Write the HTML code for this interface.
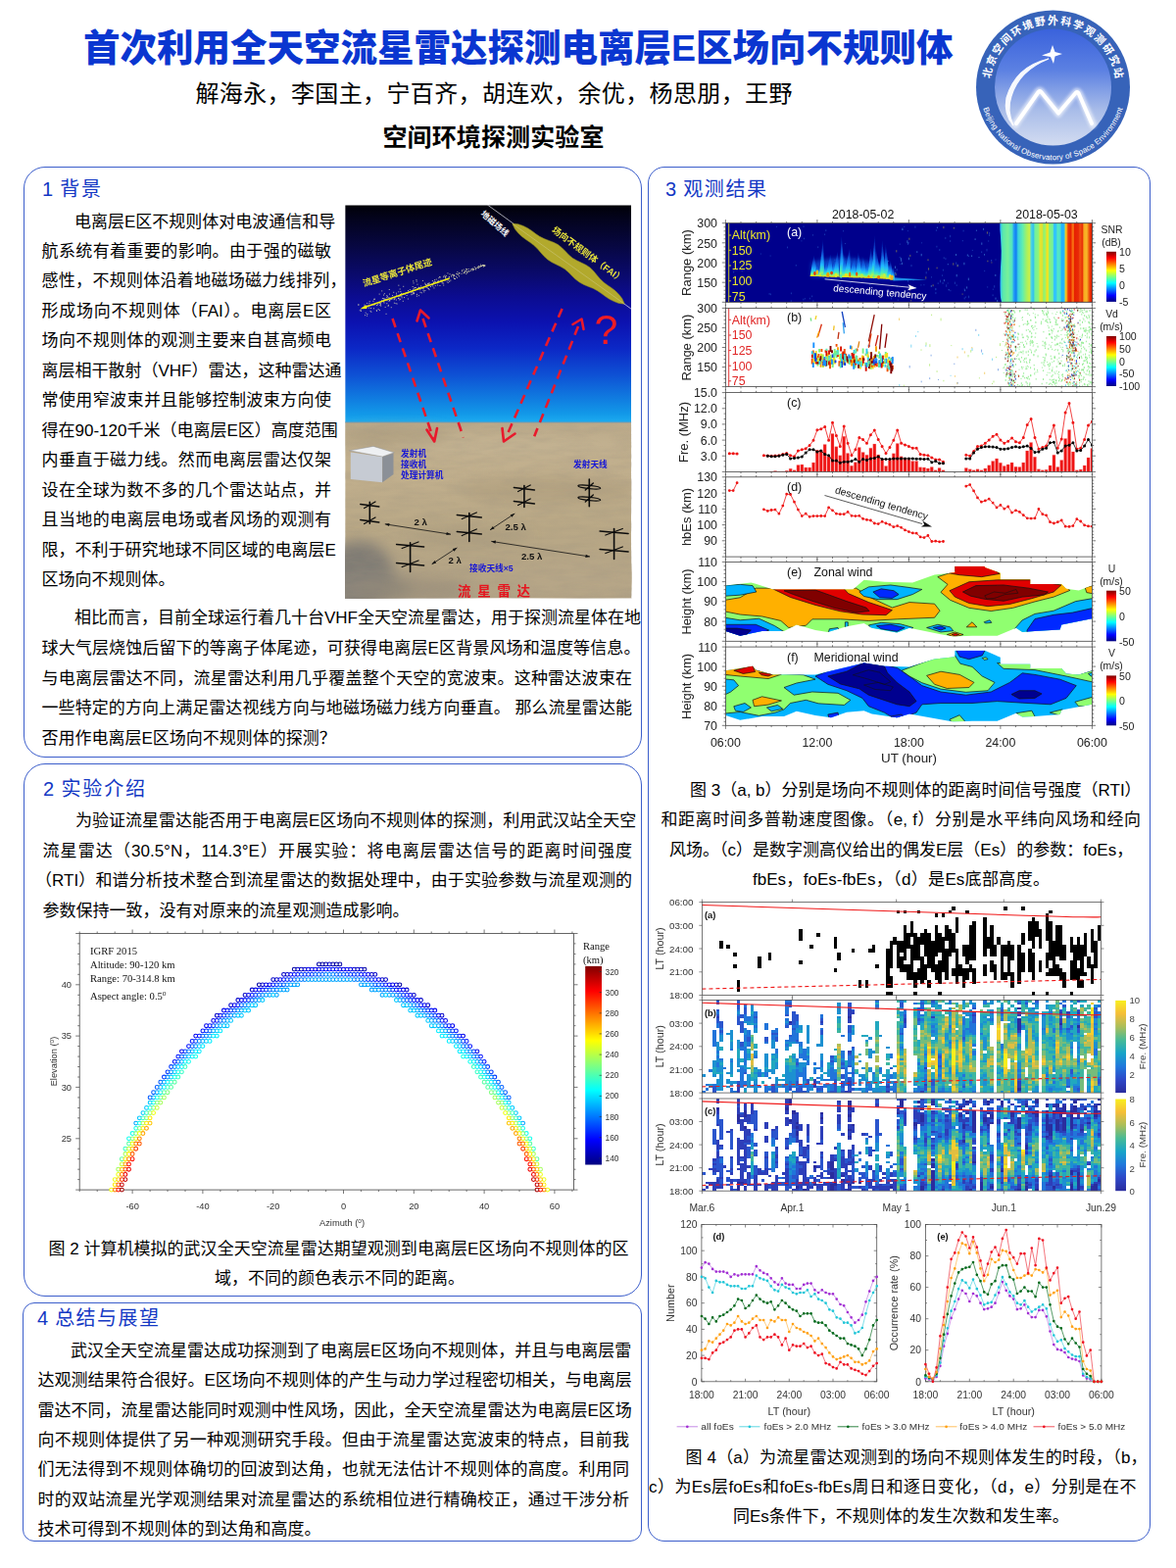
<!DOCTYPE html>
<html lang="zh-CN">
<head>
<meta charset="utf-8">
<title>首次利用全天空流星雷达探测电离层E区场向不规则体</title>
<style>
html,body{margin:0;padding:0;background:#fff;}
body{width:1200px;height:1600px;position:relative;overflow:hidden;font-family:"Liberation Sans","Noto Sans CJK SC",sans-serif;color:#000;}
.box{position:absolute;box-sizing:border-box;border:1.3px solid #3c5ecb;background:#fff;}
.l{position:absolute;height:30px;line-height:30px;white-space:nowrap;text-align:justify;text-align-last:justify;overflow:visible;}
.h{color:#1438c4;}
svg{position:absolute;overflow:visible;}
svg text{font-family:"Liberation Sans","Noto Sans CJK SC",sans-serif;}
svg .ser text{font-family:"Liberation Serif","Noto Serif CJK SC",serif;}
</style>
</head>
<body>
<div class="box" style="left:24px;top:170px;width:631px;height:603px;border-radius:22px"></div>
<div class="box" style="left:24px;top:779px;width:631px;height:544px;border-radius:22px"></div>
<div class="box" style="left:23px;top:1329px;width:632px;height:244px;border-radius:12px"></div>
<div class="box" style="left:661px;top:170px;width:513px;height:1403px;border-radius:17px"></div>
<div class="l t h" style="left:85px;top:24px;width:885px;height:50px;line-height:50px;font-size:37.5px;font-weight:900;color:#0a36d0;">首次利用全天空流星雷达探测电离层E区场向不规则体</div>
<div class="l t" style="left:199.5px;top:78px;width:609px;height:36px;line-height:36px;font-size:24px;">解海永，李国主，宁百齐，胡连欢，余优，杨思朋，王野</div>
<div class="l t" style="left:390.5px;top:122px;width:226px;height:36px;line-height:36px;font-size:25px;font-weight:bold;">空间环境探测实验室</div>
<div class="l t h" style="left:43.0px;top:178.0px;width:60.0px;font-size:20px;">1 背景</div>
<div class="l t h" style="left:44.0px;top:789.5px;width:104.0px;font-size:20px;">2 实验介绍</div>
<div class="l t h" style="left:38.0px;top:1329.5px;width:124.0px;font-size:20px;">4 总结与展望</div>
<div class="l t h" style="left:679.0px;top:178.0px;width:103.0px;font-size:20px;">3 观测结果</div>
<div class="l t " style="left:76.0px;top:211.5px;width:262.0px;font-size:17px;">电离层E区不规则体对电波通信和导</div>
<div class="l t " style="left:42.5px;top:242.0px;width:295.5px;font-size:17px;">航系统有着重要的影响。由于强的磁敏</div>
<div class="l t " style="left:42.5px;top:272.4px;width:311.0px;font-size:17px;">感性，不规则体沿着地磁场磁力线排列，</div>
<div class="l t " style="left:42.5px;top:302.9px;width:295.5px;font-size:17px;">形成场向不规则体（FAI）。电离层E区</div>
<div class="l t " style="left:42.5px;top:333.3px;width:295.5px;font-size:17px;">场向不规则体的观测主要来自甚高频电</div>
<div class="l t " style="left:42.5px;top:363.8px;width:295.5px;font-size:17px;">离层相干散射（VHF）雷达，这种雷达通</div>
<div class="l t " style="left:42.5px;top:394.3px;width:295.5px;font-size:17px;">常使用窄波束并且能够控制波束方向使</div>
<div class="l t " style="left:42.5px;top:424.7px;width:295.5px;font-size:17px;">得在90-120千米（电离层E区）高度范围</div>
<div class="l t " style="left:42.5px;top:455.2px;width:295.5px;font-size:17px;">内垂直于磁力线。然而电离层雷达仅架</div>
<div class="l t " style="left:42.5px;top:485.6px;width:295.5px;font-size:17px;">设在全球为数不多的几个雷达站点，并</div>
<div class="l t " style="left:42.5px;top:516.1px;width:295.5px;font-size:17px;">且当地的电离层电场或者风场的观测有</div>
<div class="l t " style="left:42.5px;top:546.6px;width:295.5px;font-size:17px;">限，不利于研究地球不同区域的电离层E</div>
<div class="l t " style="left:42.5px;top:577.0px;width:136.0px;font-size:17px;">区场向不规则体。</div>
<div class="l t " style="left:76.0px;top:616.3px;width:569.0px;font-size:17px;">相比而言，目前全球运行着几十台VHF全天空流星雷达，用于探测流星体在地</div>
<div class="l t " style="left:42.5px;top:647.0px;width:611.0px;font-size:17px;">球大气层烧蚀后留下的等离子体尾迹，可获得电离层E区背景风场和温度等信息。</div>
<div class="l t " style="left:42.5px;top:677.7px;width:602.5px;font-size:17px;">与电离层雷达不同，流星雷达利用几乎覆盖整个天空的宽波束。这种雷达波束在</div>
<div class="l t " style="left:42.5px;top:708.4px;width:602.5px;font-size:17px;">一些特定的方向上满足雷达视线方向与地磁场磁力线方向垂直。 那么流星雷达能</div>
<div class="l t " style="left:42.5px;top:739.1px;width:296.0px;font-size:17px;">否用作电离层E区场向不规则体的探测？</div>
<div class="l t " style="left:77.0px;top:823.1px;width:568.0px;font-size:17px;">为验证流星雷达能否用于电离层E区场向不规则体的探测，利用武汉站全天空</div>
<div class="l t " style="left:43.5px;top:853.6px;width:601.5px;font-size:17px;">流星雷达（30.5°N，114.3°E）开展实验：将电离层雷达信号的距离时间强度</div>
<div class="l t " style="left:36.0px;top:884.0px;width:609.0px;font-size:17px;">（RTI）和谱分析技术整合到流星雷达的数据处理中，由于实验参数与流星观测的</div>
<div class="l t " style="left:43.5px;top:914.5px;width:374.0px;font-size:17px;">参数保持一致，没有对原来的流星观测造成影响。</div>
<div class="l t " style="left:49.5px;top:1259.7px;width:592.0px;font-size:17px;">图 2 计算机模拟的武汉全天空流星雷达期望观测到电离层E区场向不规则体的区</div>
<div class="l t " style="left:219.0px;top:1289.7px;width:252.0px;font-size:17px;">域，不同的颜色表示不同的距离。</div>
<div class="l t " style="left:72.0px;top:1363.9px;width:570.0px;font-size:17px;">武汉全天空流星雷达成功探测到了电离层E区场向不规则体，并且与电离层雷</div>
<div class="l t " style="left:38.5px;top:1394.2px;width:603.5px;font-size:17px;">达观测结果符合很好。E区场向不规则体的产生与动力学过程密切相关，与电离层</div>
<div class="l t " style="left:38.5px;top:1424.5px;width:603.5px;font-size:17px;">雷达不同，流星雷达能同时观测中性风场，因此，全天空流星雷达为电离层E区场</div>
<div class="l t " style="left:38.5px;top:1454.9px;width:603.5px;font-size:17px;">向不规则体提供了另一种观测研究手段。但由于流星雷达宽波束的特点，目前我</div>
<div class="l t " style="left:38.5px;top:1485.2px;width:603.5px;font-size:17px;">们无法得到不规则体确切的回波到达角，也就无法估计不规则体的高度。利用同</div>
<div class="l t " style="left:38.5px;top:1515.5px;width:603.5px;font-size:17px;">时的双站流星光学观测结果对流星雷达的系统相位进行精确校正，通过干涉分析</div>
<div class="l t " style="left:38.5px;top:1545.8px;width:288.0px;font-size:17px;">技术可得到不规则体的到达角和高度。</div>
<div class="l t " style="left:704.0px;top:791.7px;width:455.5px;font-size:17px;">图 3（a, b）分别是场向不规则体的距离时间信号强度（RTI）</div>
<div class="l t " style="left:674.5px;top:822.2px;width:489.5px;font-size:17px;">和距离时间多普勒速度图像。（e, f）分别是水平纬向风场和经向</div>
<div class="l t " style="left:683.0px;top:852.5px;width:472.0px;font-size:17px;">风场。（c）是数字测高仪给出的偶发E层（Es）的参数：foEs，</div>
<div class="l t " style="left:768.0px;top:883.0px;width:303.0px;font-size:17px;">fbEs，foEs-fbEs，（d）是Es底部高度。</div>
<div class="l t " style="left:699.5px;top:1472.8px;width:471.0px;font-size:17px;">图 4（a）为流星雷达观测到的场向不规则体发生的时段，（b，</div>
<div class="l t " style="left:662.0px;top:1503.4px;width:497.5px;font-size:17px;">c）为Es层foEs和foEs-fbEs周日和逐日变化，（d，e）分别是在不</div>
<div class="l t " style="left:748.0px;top:1532.8px;width:336.0px;font-size:17px;">同Es条件下，不规则体的发生次数和发生率。</div>
<svg style="left:0;top:0" width="1200" height="180" viewBox="0 0 1200 180">
<defs>
<linearGradient id="lgA" x1="0" y1="0" x2="0" y2="1"><stop offset="0" stop-color="#3a62dc"/><stop offset="0.35" stop-color="#5b80e2"/><stop offset="0.7" stop-color="#a9bde9"/><stop offset="1" stop-color="#d3dcf1"/></linearGradient>
<path id="lgT" d="M 1010.0 89.0 A 64.5 64.5 0 0 1 1139.0 89.0"/>
<path id="lgB" d="M 1000.2 89.0 A 74.3 74.3 0 0 0 1148.8 89.0"/>
<filter id="lgGl" x="-20%" y="-20%" width="140%" height="140%"><feGaussianBlur stdDeviation="1.6"/></filter>
</defs>
<circle cx="1074.5" cy="89" r="78.5" fill="#3763b9"/>
<circle cx="1074.5" cy="89" r="59.5" fill="url(#lgA)"/>
<g fill="none" stroke="#fff" stroke-linejoin="round" stroke-linecap="round">
<path d="M1036 127 L1059 94 Q1061 91 1063 94 L1080 116 L1097 95 Q1099 92 1101 95 L1115 127" stroke-width="7.5" opacity="0.6" filter="url(#lgGl)"/>
<path d="M1037 126 L1059.5 94 Q1061 92 1062.5 94 L1080 115.5 L1097.5 95 Q1099 93 1100.5 95 L1114 126" stroke-width="4"/>
</g>
<path d="M1070 60 Q1036 68 1027 100 Q1024 116 1034 128 Q1027 112 1032 98 Q1040 72 1070 60Z" fill="#fff" stroke="#fff" stroke-width="1.2" opacity="0.95"/>
<path d="M1074 46 L1076.5 53 L1084 55 L1076.5 57.5 L1075 65 L1072 58 L1063 56.5 L1071.5 53.5Z" fill="#fff"/>
<g transform="translate(1074.5 89)" fill="#fff" font-size="10.8" font-weight="bold" text-anchor="middle"><text transform="rotate(-77.5)" x="0" y="-64.5">北</text><text transform="rotate(-66.4)" x="0" y="-64.5">京</text><text transform="rotate(-55.4)" x="0" y="-64.5">空</text><text transform="rotate(-44.3)" x="0" y="-64.5">间</text><text transform="rotate(-33.2)" x="0" y="-64.5">环</text><text transform="rotate(-22.1)" x="0" y="-64.5">境</text><text transform="rotate(-11.1)" x="0" y="-64.5">野</text><text transform="rotate(0.0)" x="0" y="-64.5">外</text><text transform="rotate(11.1)" x="0" y="-64.5">科</text><text transform="rotate(22.1)" x="0" y="-64.5">学</text><text transform="rotate(33.2)" x="0" y="-64.5">观</text><text transform="rotate(44.3)" x="0" y="-64.5">测</text><text transform="rotate(55.4)" x="0" y="-64.5">研</text><text transform="rotate(66.4)" x="0" y="-64.5">究</text><text transform="rotate(77.5)" x="0" y="-64.5">站</text></g>
<text font-size="8" fill="#fff" style="font-family:'Liberation Sans',sans-serif" letter-spacing="0.14"><textPath href="#lgB" startOffset="50%" text-anchor="middle">Beijing National Observatory of Space Environment</textPath></text>
</svg>
<svg style="left:0;top:0" width="1200" height="1600" viewBox="0 0 1200 1600">
<defs>
<linearGradient id="f1sky" x1="0" y1="0" x2="0" y2="1"><stop offset="0" stop-color="#010108"/><stop offset="0.06" stop-color="#03031c"/><stop offset="0.19" stop-color="#070742"/><stop offset="0.32" stop-color="#0a0a6c"/><stop offset="0.42" stop-color="#0c0c90"/><stop offset="0.54" stop-color="#0c12b0"/><stop offset="0.66" stop-color="#0c28c6"/><stop offset="0.78" stop-color="#0e50d4"/><stop offset="0.89" stop-color="#107ce0"/><stop offset="0.96" stop-color="#1298e8"/><stop offset="1" stop-color="#1cacf0"/></linearGradient>
<linearGradient id="f1gnd" x1="0" y1="0" x2="0" y2="1"><stop offset="0" stop-color="#bcab8b"/><stop offset="0.25" stop-color="#c2b08e"/><stop offset="0.6" stop-color="#b9a886"/><stop offset="1" stop-color="#b3a386"/></linearGradient>
<filter id="f1tx" x="0" y="0" width="100%" height="100%"><feTurbulence type="fractalNoise" baseFrequency="0.035 0.16" numOctaves="3" seed="4" result="n"/><feColorMatrix type="matrix" values="0 0 0 0 0.35  0 0 0 0 0.30  0 0 0 0 0.22  0.9 0.9 0 0 -0.72"/></filter>
<filter id="f1b6"><feGaussianBlur stdDeviation="7"/></filter><filter id="f1b1"><feGaussianBlur stdDeviation="0.5"/></filter>
<clipPath id="f1clip"><rect x="352.2" y="209.3" width="291.9" height="401.2"/></clipPath>
</defs>
<g clip-path="url(#f1clip)">
<rect x="352.2" y="209.3" width="291.9" height="221.7" fill="url(#f1sky)"/>
<rect x="352.2" y="431" width="291.9" height="179.5" fill="url(#f1gnd)"/>
<g filter="url(#f1b6)"><ellipse cx="366" cy="588" rx="36" ry="36" fill="#7d7a74" opacity="0.95"/><ellipse cx="380" cy="600" rx="40" ry="18" fill="#8a857a" opacity="0.8"/><ellipse cx="420" cy="602" rx="60" ry="14" fill="#948b78" opacity="0.6"/><ellipse cx="520" cy="455" rx="120" ry="9" fill="#c4b493" opacity="0.8"/><ellipse cx="560" cy="500" rx="90" ry="14" fill="#ad9d7d" opacity="0.6"/><ellipse cx="590" cy="590" rx="70" ry="20" fill="#b6a688" opacity="0.8"/><ellipse cx="480" cy="548" rx="60" ry="10" fill="#a6977b" opacity="0.5"/><ellipse cx="400" cy="445" rx="60" ry="8" fill="#a69879" opacity="0.6"/></g>
<rect x="352.2" y="431" width="291.9" height="179.5" filter="url(#f1tx)" opacity="0.4"/>
<rect x="352.2" y="430.2" width="291.9" height="1.6" fill="#7d98a8" opacity="0.6"/>
<path d="M497.4 209L644.5 315.5" stroke="#e8e8f0" stroke-width="0.7"/>
<path d="M522.8 228.6L525.4 233.7L528.7 237.7L532.3 241.2L536.3 244.2L540.4 247.1L544.4 250.1L548.1 253.5L551.5 257.4L554.9 261.3L558.6 264.7L562.8 267.5L567.3 269.8L571.9 272.0L576.2 274.6L580.0 277.8L583.6 281.4L587.2 285.0L591.2 288.0L595.6 290.4L600.4 292.4L605.1 294.3L609.6 296.7L613.7 299.5L617.7 302.5L621.9 305.3L626.4 307.6L631.3 309.4L636.8 310.2L637.2 309.7L634.8 304.5L631.6 300.4L628.0 296.8L624.0 293.7L619.9 290.9L615.9 287.9L612.2 284.4L608.9 280.4L605.6 276.4L602.0 272.9L597.8 270.2L593.2 268.0L588.6 265.8L584.2 263.3L580.4 260.0L576.9 256.3L573.3 252.7L569.4 249.6L564.9 247.3L560.1 245.4L555.3 243.6L550.7 241.3L546.6 238.5L542.6 235.4L538.4 232.7L533.9 230.4L528.9 228.7L523.2 228.1Z" fill="#b2a92c" stroke="#8f8a22" stroke-width="0.5"/>
<path d="M523 228.4L637 310" stroke="#d8d4a0" stroke-width="0.5" opacity="0.8"/>
<path d="M419.4 300.7h.9M383.8 316.7h.9M444.1 287.9h.9M441.2 290.3h.9M374.7 311.9h.9M385.2 310.8h.9M431.2 294.0h.9M404.2 301.1h.9M455.7 287.1h.9M427.1 293.3h.9M493.0 272.0h.9M414.6 301.5h.9M394.4 309.7h.9M475.9 277.8h.9M397.0 300.1h.9M423.8 293.5h.9M446.0 288.7h.9M402.6 304.2h.9M460.3 281.1h.9M450.4 287.2h.9M433.9 290.6h.9M463.9 284.5h.9M406.3 297.8h.9M481.7 274.2h.9M465.9 279.5h.9M393.6 320.3h.9M430.2 293.7h.9M438.2 289.0h.9M374.2 309.4h.9M447.4 283.7h.9M481.8 274.2h.9M452.2 289.0h.9M448.0 282.6h.9M489.4 272.5h.9M436.8 290.7h.9M463.0 281.1h.9M458.3 287.3h.9M413.1 299.5h.9M426.1 294.7h.9M435.3 291.2h.9M397.4 306.8h.9M470.6 279.3h.9M391.1 307.9h.9M481.9 275.9h.9M381.2 305.3h.9M483.0 274.8h.9M476.2 277.6h.9M429.2 292.0h.9M424.9 302.2h.9M391.9 299.7h.9M398.3 305.6h.9M439.0 292.5h.9M450.5 286.2h.9M430.4 293.8h.9M421.6 288.9h.9M461.3 280.3h.9M440.9 286.6h.9M376.7 307.7h.9M484.6 274.2h.9M472.7 275.2h.9M426.6 293.6h.9M455.8 284.9h.9M381.1 314.8h.9M396.5 307.2h.9M420.5 297.2h.9M394.5 306.7h.9M386.4 308.8h.9M481.9 275.0h.9M453.7 286.1h.9M422.1 298.8h.9M425.1 300.4h.9M494.6 271.0h.9M435.6 290.4h.9M386.9 309.6h.9M420.6 296.5h.9M398.8 313.7h.9M374.4 320.5h.9M393.2 305.3h.9M446.2 291.0h.9M492.8 270.9h.9M480.6 274.9h.9M423.0 293.7h.9M397.1 306.5h.9M471.0 276.8h.9M419.5 298.7h.9M493.8 271.6h.9M479.8 276.3h.9M466.4 277.4h.9M404.1 299.2h.9M373.4 313.7h.9M373.1 313.6h.9M462.6 283.3h.9M489.9 270.1h.9M493.9 270.9h.9M490.2 271.4h.9M406.1 304.6h.9M401.7 305.7h.9M485.0 275.0h.9M477.7 274.5h.9M474.0 277.9h.9M382.0 305.2h.9M471.1 275.9h.9M468.2 278.7h.9M472.8 278.2h.9M420.5 300.2h.9M424.7 287.1h.9M429.8 298.8h.9M396.5 303.5h.9M392.7 313.4h.9M475.4 279.6h.9M395.7 312.3h.9M456.5 278.8h.9M421.2 295.1h.9M370.0 314.6h.9M491.8 270.6h.9M487.8 271.8h.9M433.4 296.5h.9M401.3 298.3h.9M408.5 300.7h.9M450.7 287.9h.9M409.2 299.4h.9M485.7 273.6h.9M420.7 292.5h.9M485.1 273.9h.9M431.6 296.4h.9M443.3 287.3h.9M443.8 291.6h.9M399.4 305.4h.9M367.9 317.4h.9M436.4 289.6h.9M465.3 279.3h.9M442.0 288.5h.9M446.7 287.9h.9M446.8 286.4h.9M408.0 300.5h.9M442.5 293.9h.9M447.4 287.7h.9M431.1 286.4h.9M452.3 282.8h.9M462.1 281.9h.9M433.3 289.1h.9M488.9 272.0h.9M463.9 284.6h.9M407.7 295.0h.9M448.5 291.5h.9M391.3 304.6h.9M389.3 306.7h.9M407.5 302.5h.9M380.5 307.3h.9M483.8 272.5h.9M394.5 305.2h.9M391.0 301.1h.9M483.0 275.1h.9M490.0 271.7h.9M424.5 285.6h.9M477.5 276.7h.9M394.4 301.6h.9M420.9 298.8h.9M400.0 301.6h.9M374.2 322.2h.9M446.3 287.3h.9M419.4 297.8h.9M454.2 284.1h.9M493.5 270.5h.9M472.9 278.8h.9M410.6 300.4h.9M376.0 314.1h.9M389.9 304.5h.9M432.3 297.9h.9M408.4 297.6h.9M395.9 311.4h.9M462.6 280.6h.9M387.0 316.6h.9M431.7 294.8h.9M384.0 317.3h.9M473.8 276.9h.9M384.1 311.6h.9M480.5 274.9h.9M433.9 290.2h.9M487.7 273.6h.9M412.1 303.6h.9M408.2 305.3h.9M388.2 309.7h.9M402.2 305.0h.9M416.1 296.6h.9M415.9 305.0h.9M440.5 291.0h.9M372.7 319.2h.9M410.8 307.3h.9M446.2 288.2h.9M396.8 295.5h.9M388.1 310.8h.9M475.5 275.7h.9M477.8 276.9h.9M425.5 290.2h.9M493.2 270.6h.9M421.7 299.5h.9M454.9 281.6h.9M428.4 293.6h.9M391.6 309.0h.9M381.4 311.2h.9M395.1 302.8h.9M385.7 315.5h.9M458.6 279.8h.9M412.9 300.1h.9M436.1 294.0h.9M394.3 303.3h.9M491.1 271.6h.9M492.0 270.6h.9M491.4 271.2h.9M416.5 298.5h.9M425.7 295.4h.9M436.4 289.4h.9M440.6 289.8h.9M367.8 316.1h.9M428.4 295.7h.9M377.6 317.4h.9M406.4 302.8h.9M448.8 282.9h.9M458.0 282.8h.9M465.2 282.2h.9M417.8 295.6h.9M493.6 271.1h.9M457.5 286.4h.9M378.4 318.3h.9M453.5 281.1h.9M466.8 280.6h.9M442.5 287.8h.9M441.4 292.1h.9M476.1 274.8h.9M450.8 289.0h.9M461.7 280.3h.9M406.5 304.5h.9M423.2 296.5h.9M388.3 312.1h.9M454.1 282.5h.9M454.4 283.7h.9M365.4 311.1h.9M473.7 277.8h.9M443.2 285.7h.9M459.4 286.1h.9M409.7 303.8h.9M381.9 310.4h.9M404.6 310.0h.9M468.0 281.8h.9M425.6 294.7h.9M436.9 289.1h.9M452.5 281.9h.9M456.9 284.9h.9M409.4 302.3h.9M467.5 279.3h.9M372.1 321.7h.9M379.4 311.2h.9M463.0 284.5h.9M460.1 282.1h.9M437.0 294.6h.9M437.6 295.6h.9M403.5 309.6h.9M492.8 270.9h.9M435.1 291.6h.9M476.5 278.2h.9M410.8 299.8h.9M403.9 306.0h.9M449.4 286.0h.9M389.3 296.9h.9M391.0 306.1h.9M475.2 274.4h.9M463.3 281.3h.9M407.3 305.9h.9M371.5 311.1h.9M365.4 310.9h.9M415.6 299.2h.9M392.1 305.2h.9M478.5 276.9h.9M366.8 316.8h.9M386.7 300.1h.9M487.2 272.4h.9M411.3 292.3h.9M421.3 286.9h.9M452.3 291.1h.9M422.2 294.0h.9M378.0 314.5h.9M387.4 311.3h.9M488.1 271.9h.9M408.3 301.1h.9M401.9 309.2h.9M426.9 301.7h.9M474.9 276.5h.9M456.7 288.5h.9M444.8 285.1h.9M466.0 283.3h.9M434.7 293.5h.9M468.5 278.8h.9M376.4 309.7h.9M487.6 273.4h.9M421.8 299.6h.9M414.7 298.5h.9M406.4 291.2h.9M457.8 282.7h.9M428.6 298.3h.9" stroke="#e8e6b0" stroke-width="0.9" opacity="0.95"/>
<path d="M458.7 284L370 314.3" stroke="#f2ee10" stroke-width="1.5"/><path d="M367.5 315.2L373.5 311L374.5 315Z" fill="#f2ee10"/>
<g stroke="#e8192c" stroke-width="2.6" fill="none" stroke-dasharray="9.5 6.5"><path d="M400.5 325L442 447"/><path d="M431.5 325L472.9 446.5"/><path d="M573.6 315L516.5 446"/><path d="M590 333L545.2 445.2"/></g>
<g stroke="#e8192c" stroke-width="2.6" fill="none" stroke-linecap="round" stroke-linejoin="round"><path d="M435.5 438.5L443.2 450.5L446 437"/><path d="M425.5 327.5L429 316.5L437.5 324.5"/><path d="M512.5 437L514 450.5L525.5 442.5"/><path d="M584.5 331L593.5 325.5L595.5 336"/></g>
<text x="606.5" y="350.5" font-size="43" fill="#ee1c24" style="font-family:'Liberation Sans',sans-serif">?</text>
<text transform="translate(490.0 219.0) rotate(41)" font-size="8.6" font-weight="bold" fill="#f6f6f6">地磁场线</text><text transform="translate(562.5 236.0) rotate(36.5)" font-size="9.2" font-weight="bold" fill="#e9e43a" textLength="88.4" lengthAdjust="spacing">场向不规则体（FAI）</text><text transform="translate(371.5 292.5) rotate(-18)" font-size="9.2" font-weight="bold" fill="#e9e43a">流星等离子体尾迹</text>
<path d="M356.6 459.8L381 455.4L402.3 461.8L390.2 466Z" fill="#eef0f2" stroke="#8a8f96" stroke-width="0.5"/><path d="M357.8 461.5L390.2 466.2L390.2 492.3L357.8 489Z" fill="#c6cbd3"/><path d="M390.2 466.2L401.5 462.4L401.5 484L390.2 492.3Z" fill="#8b9097"/>
<g font-size="8.7" font-weight="bold" fill="#1616d6"><text x="409" y="466">发射机</text><text x="409" y="477">接收机</text><text x="409" y="488">处理计算机</text><text x="585" y="477">发射天线</text><text x="479" y="582.5">接收天线×5</text></g>
<g stroke="#0c0c0c" fill="none" stroke-linecap="round"><path d="M377.3 512.4V534.3" stroke-width="1.6"/><path d="M367.8 514.5L386.8 517.0" stroke-width="1.5"/><path d="M371.6 518.5L383.0 512.0" stroke-width="1.3"/><path d="M367.8 530.5L386.8 533.0" stroke-width="1.5"/><path d="M371.6 534.5L383.0 528.0" stroke-width="1.3"/><path d="M418.6 553.7V583.4" stroke-width="1.6"/><path d="M404.6 555.5L432.6 558.0" stroke-width="1.5"/><path d="M410.20000000000005 559.5L427.0 553.0" stroke-width="1.3"/><path d="M404.6 574.5L432.6 577.0" stroke-width="1.5"/><path d="M410.20000000000005 578.5L427.0 572.0" stroke-width="1.3"/><path d="M478.8 523.5V552.4" stroke-width="1.6"/><path d="M466.3 525.5L491.3 528.0" stroke-width="1.5"/><path d="M471.3 529.5L486.3 523.0" stroke-width="1.3"/><path d="M466.3 542.5L491.3 545.0" stroke-width="1.5"/><path d="M471.3 546.5L486.3 540.0" stroke-width="1.3"/><path d="M534.9 495.6V517.5" stroke-width="1.6"/><path d="M524.4 497.5L545.4 500.0" stroke-width="1.5"/><path d="M528.6 501.5L541.1999999999999 495.0" stroke-width="1.3"/><path d="M524.4 511.5L545.4 514.0" stroke-width="1.5"/><path d="M528.6 515.5L541.1999999999999 509.0" stroke-width="1.3"/><path d="M601.3 489V516.8" stroke-width="1.6"/><ellipse cx="601.3" cy="497" rx="11.5" ry="1.6" fill="none" stroke-width="1.2" transform="rotate(6 601.3 497)"/><path d="M597.3 500L605.3 493" stroke-width="1.4"/><ellipse cx="601.3" cy="509" rx="11.5" ry="1.6" fill="none" stroke-width="1.2" transform="rotate(6 601.3 509)"/><path d="M597.3 512L605.3 505" stroke-width="1.4"/><path d="M626.6 539.5V570.5" stroke-width="1.6"/><path d="M612.1 542L641.1 544.5" stroke-width="1.5"/><path d="M617.9 546L635.3000000000001 539.5" stroke-width="1.3"/><path d="M612.1 560.5L641.1 563.0" stroke-width="1.5"/><path d="M617.9 564.5L635.3000000000001 558.0" stroke-width="1.3"/></g>
<path d="M392.8 534.8L460 545.2" stroke="#111" stroke-width="0.8"/><path d="M460.0 545.2L455.8 542.9L455.3 546.1Z" fill="#111" stroke="none"/><path d="M392.8 534.8L397.0 537.1L397.5 533.9Z" fill="#111" stroke="none"/><path d="M440.6 575.7L466.4 558.9" stroke="#111" stroke-width="0.8"/><path d="M466.4 558.9L461.8 560.0L463.5 562.7Z" fill="#111" stroke="none"/><path d="M440.6 575.7L445.2 574.6L443.5 571.9Z" fill="#111" stroke="none"/><path d="M500 540.8L525.3 524" stroke="#111" stroke-width="0.8"/><path d="M525.3 524.0L520.7 525.2L522.4 527.8Z" fill="#111" stroke="none"/><path d="M500.0 540.8L504.6 539.6L502.9 537.0Z" fill="#111" stroke="none"/><path d="M501.3 552.4L602 568" stroke="#111" stroke-width="0.8"/><path d="M602.0 568.0L597.8 565.7L597.3 568.9Z" fill="#111" stroke="none"/><path d="M501.3 552.4L505.5 554.7L506.0 551.5Z" fill="#111" stroke="none"/>
<g font-size="9.6" font-weight="bold" fill="#111" style="font-family:'Liberation Sans',sans-serif"><text x="422.5" y="535.5">2 λ</text><text x="457.5" y="575">2 λ</text><text x="515.5" y="541">2.5 λ</text><text x="532" y="570.5">2.5 λ</text></g>
<text x="467" y="607.5" font-size="13.5" font-weight="bold" fill="#e6151f" letter-spacing="6.7">流星雷达</text>
</g>
</svg>
<svg style="left:0;top:0" width="1200" height="1600" viewBox="0 0 1200 1600">
<defs><linearGradient id="f2cb" x1="0" y1="0" x2="0" y2="1"><stop offset="0.000" stop-color="#800000"/><stop offset="0.062" stop-color="#bf0000"/><stop offset="0.125" stop-color="#ff0000"/><stop offset="0.188" stop-color="#ff4000"/><stop offset="0.250" stop-color="#ff8000"/><stop offset="0.312" stop-color="#ffbf00"/><stop offset="0.375" stop-color="#ffff00"/><stop offset="0.438" stop-color="#bfff40"/><stop offset="0.500" stop-color="#80ff80"/><stop offset="0.562" stop-color="#40ffbf"/><stop offset="0.625" stop-color="#00ffff"/><stop offset="0.688" stop-color="#00bfff"/><stop offset="0.750" stop-color="#0080ff"/><stop offset="0.812" stop-color="#0040ff"/><stop offset="0.875" stop-color="#0000ff"/><stop offset="0.938" stop-color="#0000bf"/><stop offset="1.000" stop-color="#000080"/></linearGradient></defs>
<rect x="81.2" y="952.5" width="504.3" height="261.6" fill="#fff" stroke="#555" stroke-width="0.9"/>
<path d="M81.2 1214.1v2M81.2 952.5v-2M99.2 1214.1v2M99.2 952.5v-2M117.2 1214.1v2M117.2 952.5v-2M135.1 1214.1v4M135.1 952.5v-4M153.1 1214.1v2M153.1 952.5v-2M171.0 1214.1v2M171.0 952.5v-2M189.0 1214.1v2M189.0 952.5v-2M206.9 1214.1v4M206.9 952.5v-4M224.9 1214.1v2M224.9 952.5v-2M242.8 1214.1v2M242.8 952.5v-2M260.8 1214.1v2M260.8 952.5v-2M278.7 1214.1v4M278.7 952.5v-4M296.6 1214.1v2M296.6 952.5v-2M314.6 1214.1v2M314.6 952.5v-2M332.6 1214.1v2M332.6 952.5v-2M350.5 1214.1v4M350.5 952.5v-4M368.4 1214.1v2M368.4 952.5v-2M386.4 1214.1v2M386.4 952.5v-2M404.4 1214.1v2M404.4 952.5v-2M422.3 1214.1v4M422.3 952.5v-4M440.2 1214.1v2M440.2 952.5v-2M458.2 1214.1v2M458.2 952.5v-2M476.1 1214.1v2M476.1 952.5v-2M494.1 1214.1v4M494.1 952.5v-4M512.0 1214.1v2M512.0 952.5v-2M530.0 1214.1v2M530.0 952.5v-2M548.0 1214.1v2M548.0 952.5v-2M565.9 1214.1v4M565.9 952.5v-4M583.9 1214.1v2M583.9 952.5v-2M81.2 1214.1h-4M585.5 1214.1h4M81.2 1203.6h-2M585.5 1203.6h2M81.2 1193.2h-2M585.5 1193.2h2M81.2 1182.7h-2M585.5 1182.7h2M81.2 1172.2h-2M585.5 1172.2h2M81.2 1161.8h-4M585.5 1161.8h4M81.2 1151.3h-2M585.5 1151.3h2M81.2 1140.8h-2M585.5 1140.8h2M81.2 1130.4h-2M585.5 1130.4h2M81.2 1119.9h-2M585.5 1119.9h2M81.2 1109.4h-4M585.5 1109.4h4M81.2 1099.0h-2M585.5 1099.0h2M81.2 1088.5h-2M585.5 1088.5h2M81.2 1078.1h-2M585.5 1078.1h2M81.2 1067.6h-2M585.5 1067.6h2M81.2 1057.1h-4M585.5 1057.1h4M81.2 1046.7h-2M585.5 1046.7h2M81.2 1036.2h-2M585.5 1036.2h2M81.2 1025.7h-2M585.5 1025.7h2M81.2 1015.3h-2M585.5 1015.3h2M81.2 1004.8h-4M585.5 1004.8h4M81.2 994.3h-2M585.5 994.3h2M81.2 983.9h-2M585.5 983.9h2M81.2 973.4h-2M585.5 973.4h2M81.2 962.9h-2M585.5 962.9h2M81.2 952.5h-4M585.5 952.5h4" stroke="#555" stroke-width="0.8" fill="none"/>
<g font-size="9.3" fill="#333" text-anchor="middle"><text x="135.1" y="1233.5">-60</text><text x="206.9" y="1233.5">-40</text><text x="278.7" y="1233.5">-20</text><text x="350.5" y="1233.5">0</text><text x="422.3" y="1233.5">20</text><text x="494.1" y="1233.5">40</text><text x="565.9" y="1233.5">60</text></g><g font-size="9.3" fill="#333" text-anchor="end"><text x="73" y="1165.1">25</text><text x="73" y="1112.7">30</text><text x="73" y="1060.4">35</text><text x="73" y="1008.1">40</text></g>
<text x="349" y="1251" font-size="9.3" fill="#333" text-anchor="middle">Azimuth (<tspan font-size="6.5" dy="-3">o</tspan><tspan dy="3">)</tspan></text>
<text transform="translate(58 1083) rotate(-90)" font-size="9.3" fill="#333" text-anchor="middle">Elevation (<tspan font-size="6.5" dy="-3">o</tspan><tspan dy="3">)</tspan></text>
<g class="ser" font-size="10.6" fill="#111"><text x="92" y="974">IGRF 2015</text><text x="92" y="988">Altitude: 90-120 km</text><text x="92" y="1002">Range: 70-314.8 km</text><text x="92" y="1020">Aspect angle: 0.5<tspan font-size="7.5" dy="-4">o</tspan></text><text x="595" y="969">Range</text><text x="595" y="983">(km)</text></g>
<g fill="none" stroke-linecap="round" stroke-dasharray="0 3.59" stroke-width="4.85">
<path stroke="#0000a4" d="M325.4 983.9h7.20M339.7 983.9h7.20M300.2 989.1h0.02M372.0 989.1h0.02M264.3 1004.8h0.02M407.9 1004.8h0.02"/>
<path stroke="#0000c8" d="M336.1 983.9h0.02M303.8 989.1h7.20M361.3 989.1h7.20M289.5 994.3h3.61M379.2 994.3h3.61M278.7 999.6h3.61M390.0 999.6h3.61M267.9 1004.8h0.02M404.4 1004.8h0.02M257.2 1010.0h0.02M415.1 1010.0h0.02M250.0 1015.3h0.02M422.3 1015.3h0.02M242.8 1020.5h0.02M429.5 1020.5h0.02M235.6 1025.7h0.02M436.7 1025.7h0.02M221.3 1036.2h0.02M451.0 1036.2h0.02"/>
<path stroke="#0000ed" d="M314.6 989.1h10.79M346.9 989.1h10.79M296.6 994.3h0.02M375.6 994.3h0.02M285.9 999.6h0.02M386.4 999.6h0.02M271.5 1004.8h3.61M397.2 1004.8h3.61M260.8 1010.0h0.02M411.5 1010.0h0.02M253.6 1015.3h0.02M418.7 1015.3h0.02M246.4 1020.5h0.02M425.9 1020.5h0.02M239.2 1025.7h0.02M433.1 1025.7h0.02M228.4 1031.0h0.02M443.8 1031.0h0.02M224.8 1036.2h0.02M447.4 1036.2h0.02M217.7 1041.4h0.02M454.6 1041.4h0.02M210.5 1046.7h0.02M461.8 1046.7h0.02M199.7 1057.1h0.02M472.6 1057.1h0.02M185.4 1072.8h0.02M486.9 1072.8h0.02"/>
<path stroke="#0012ff" d="M329.0 989.1h14.38M300.2 994.3h3.61M368.4 994.3h3.61M289.5 999.6h0.02M382.8 999.6h0.02M278.7 1004.8h0.02M393.6 1004.8h0.02M264.3 1010.0h3.61M404.4 1010.0h3.61M257.2 1015.3h0.02M415.1 1015.3h0.02M250.0 1020.5h0.02M422.3 1020.5h0.02M242.8 1025.7h0.02M429.5 1025.7h0.02M232.0 1031.0h0.02M440.2 1031.0h0.02M221.3 1041.4h0.02M451.0 1041.4h0.02M214.1 1046.7h0.02M458.2 1046.7h0.02M206.9 1051.9h0.02M465.4 1051.9h0.02M203.3 1057.1h0.02M469.0 1057.1h0.02M196.1 1062.4h0.02M476.1 1062.4h0.02M192.5 1067.6h0.02M479.7 1067.6h0.02M181.8 1078.1h0.02M490.5 1078.1h0.02M178.2 1083.3h0.02M494.1 1083.3h0.02"/>
<path stroke="#0037ff" d="M307.4 994.3h10.79M354.1 994.3h10.79M293.1 999.6h3.61M375.6 999.6h3.61M282.3 1004.8h0.02M390.0 1004.8h0.02M271.5 1010.0h0.02M400.8 1010.0h0.02M260.8 1015.3h0.02M411.5 1015.3h0.02M253.6 1020.5h0.02M418.7 1020.5h0.02M235.6 1031.0h0.02M436.7 1031.0h0.02M228.4 1036.2h0.02M443.8 1036.2h0.02M217.7 1046.7h0.02M454.6 1046.7h0.02M210.5 1051.9h0.02M461.8 1051.9h0.02M199.7 1062.4h0.02M472.6 1062.4h0.02M188.9 1072.8h0.02M483.3 1072.8h0.02M174.6 1088.5h0.02M497.7 1088.5h0.02M171.0 1093.8h0.02M501.3 1093.8h0.02M167.4 1099.0h0.02M504.9 1099.0h0.02"/>
<path stroke="#005bff" d="M321.8 994.3h7.20M343.3 994.3h7.20M300.2 999.6h0.02M372.0 999.6h0.02M285.9 1004.8h3.61M382.8 1004.8h3.61M275.1 1010.0h0.02M397.2 1010.0h0.02M264.3 1015.3h0.02M407.9 1015.3h0.02M257.2 1020.5h0.02M415.1 1020.5h0.02M246.4 1025.7h0.02M425.9 1025.7h0.02M239.2 1031.0h0.02M433.1 1031.0h0.02M232.0 1036.2h0.02M440.2 1036.2h0.02M224.8 1041.4h0.02M447.4 1041.4h0.02M214.1 1051.9h0.02M458.2 1051.9h0.02M206.9 1057.1h0.02M465.4 1057.1h0.02M196.1 1067.6h0.02M476.1 1067.6h0.02M185.4 1078.1h0.02M486.9 1078.1h0.02M181.8 1083.3h0.02M490.5 1083.3h0.02M163.8 1104.2h0.02M508.5 1104.2h0.02M160.2 1109.4h0.02M512.0 1109.4h0.02M156.6 1114.7h0.02M515.6 1114.7h0.02M153.1 1119.9h0.02M519.2 1119.9h0.02"/>
<path stroke="#0080ff" d="M332.6 994.3h7.20M303.8 999.6h7.20M361.3 999.6h7.20M293.1 1004.8h0.02M379.2 1004.8h0.02M278.7 1010.0h3.61M390.0 1010.0h3.61M267.9 1015.3h0.02M404.4 1015.3h0.02M260.8 1020.5h0.02M411.5 1020.5h0.02M250.0 1025.7h0.02M422.3 1025.7h0.02M242.8 1031.0h0.02M429.5 1031.0h0.02M235.6 1036.2h0.02M436.7 1036.2h0.02M228.4 1041.4h0.02M443.8 1041.4h0.02M221.3 1046.7h0.02M451.0 1046.7h0.02M210.5 1057.1h0.02M461.8 1057.1h0.02M203.3 1062.4h0.02M469.0 1062.4h0.02M199.7 1067.6h0.02M472.6 1067.6h0.02M192.5 1072.8h0.02M479.7 1072.8h0.02M188.9 1078.1h0.02M483.3 1078.1h0.02M178.2 1088.5h0.02M494.1 1088.5h0.02M174.6 1093.8h0.02M497.7 1093.8h0.02M171.0 1099.0h0.02M501.3 1099.0h0.02"/>
<path stroke="#00a4ff" d="M314.6 999.6h43.10M296.6 1004.8h7.20M368.4 1004.8h7.20M285.9 1010.0h7.20M379.2 1010.0h7.20M271.5 1015.3h3.61M282.3 1015.3h0.02M390.0 1015.3h0.02M397.2 1015.3h3.61M264.3 1020.5h0.02M407.9 1020.5h0.02M253.6 1025.7h0.02M418.7 1025.7h0.02M246.4 1031.0h0.02M425.9 1031.0h0.02M239.2 1036.2h0.02M433.1 1036.2h0.02M232.0 1041.4h0.02M440.2 1041.4h0.02M224.8 1046.7h0.02M447.4 1046.7h0.02M217.7 1051.9h0.02M454.6 1051.9h0.02M214.1 1057.1h0.02M458.2 1057.1h0.02M206.9 1062.4h0.02M465.4 1062.4h0.02M196.1 1072.8h0.02M476.1 1072.8h0.02M185.4 1083.3h0.02M486.9 1083.3h0.02M167.4 1104.2h0.02M504.9 1104.2h0.02M163.8 1109.4h0.02M508.5 1109.4h0.02M160.2 1114.7h0.02M512.0 1114.7h0.02M156.6 1119.9h0.02M515.6 1119.9h0.02M138.7 1146.1h0.02M533.6 1146.1h0.02"/>
<path stroke="#00c8ff" d="M278.7 1015.3h0.02M393.6 1015.3h0.02M267.9 1020.5h0.02M404.4 1020.5h0.02M257.2 1025.7h3.61M411.5 1025.7h3.61M250.0 1031.0h3.61M418.7 1031.0h3.61M242.8 1036.2h3.61M425.9 1036.2h3.61M235.6 1041.4h0.02M436.7 1041.4h0.02M228.4 1046.7h3.61M440.2 1046.7h3.61M221.3 1051.9h0.02M451.0 1051.9h0.02M210.5 1062.4h0.02M461.8 1062.4h0.02M203.3 1067.6h0.02M469.0 1067.6h0.02M192.5 1078.1h0.02M479.7 1078.1h0.02M181.8 1088.5h0.02M490.5 1088.5h0.02M178.2 1093.8h0.02M494.1 1093.8h0.02M174.6 1099.0h0.02M497.7 1099.0h0.02M153.1 1125.1h0.02M519.2 1125.1h0.02M149.5 1130.4h0.02M522.8 1130.4h0.02M145.9 1135.6h0.02M526.4 1135.6h0.02M142.3 1140.8h0.02M530.0 1140.8h0.02"/>
<path stroke="#00edff" d="M224.8 1051.9h0.02M447.4 1051.9h0.02M217.7 1057.1h3.61M451.0 1057.1h3.61M214.1 1062.4h0.02M458.2 1062.4h0.02M206.9 1067.6h0.02M465.4 1067.6h0.02M199.7 1072.8h3.61M469.0 1072.8h3.61M196.1 1078.1h0.02M476.1 1078.1h0.02M188.9 1083.3h0.02M483.3 1083.3h0.02M185.4 1088.5h0.02M486.9 1088.5h0.02M171.0 1104.2h0.02M501.3 1104.2h0.02M167.4 1109.4h0.02M504.9 1109.4h0.02M163.8 1114.7h0.02M508.5 1114.7h0.02"/>
<path stroke="#12ffed" d="M199.7 1078.1h0.02M472.6 1078.1h0.02M192.5 1083.3h0.02M479.7 1083.3h0.02M181.8 1093.8h0.02M490.5 1093.8h0.02M178.2 1099.0h0.02M494.1 1099.0h0.02M160.2 1119.9h0.02M512.0 1119.9h0.02M156.6 1125.1h0.02M515.6 1125.1h0.02M153.1 1130.4h0.02M519.2 1130.4h0.02M142.3 1146.1h0.02M530.0 1146.1h0.02M138.7 1151.3h0.02M533.6 1151.3h0.02M135.1 1156.5h0.02M537.2 1156.5h0.02M131.5 1161.8h0.02M540.8 1161.8h0.02"/>
<path stroke="#37ffc8" d="M188.9 1088.5h0.02M483.3 1088.5h0.02M185.4 1093.8h0.02M486.9 1093.8h0.02M181.8 1099.0h0.02M490.5 1099.0h0.02M174.6 1104.2h0.02M497.7 1104.2h0.02M171.0 1109.4h0.02M501.3 1109.4h0.02M149.5 1135.6h0.02M522.8 1135.6h0.02M145.9 1140.8h0.02M526.4 1140.8h0.02M127.9 1172.2h0.02M544.4 1172.2h0.02"/>
<path stroke="#5bffa4" d="M178.2 1104.2h0.02M494.1 1104.2h0.02M174.6 1109.4h0.02M497.7 1109.4h0.02M167.4 1114.7h0.02M504.9 1114.7h0.02M163.8 1119.9h0.02M508.5 1119.9h0.02M131.5 1167.0h0.02M540.8 1167.0h0.02M124.3 1182.7h0.02M548.0 1182.7h0.02"/>
<path stroke="#80ff80" d="M171.0 1114.7h0.02M501.3 1114.7h0.02M160.2 1125.1h0.02M512.0 1125.1h0.02M156.6 1130.4h0.02M515.6 1130.4h0.02M153.1 1135.6h0.02M519.2 1135.6h0.02M149.5 1140.8h0.02M522.8 1140.8h0.02M142.3 1151.3h0.02M530.0 1151.3h0.02M138.7 1156.5h0.02M533.6 1156.5h0.02M135.1 1161.8h0.02M537.2 1161.8h0.02"/>
<path stroke="#a4ff5b" d="M167.4 1119.9h0.02M504.9 1119.9h0.02M163.8 1125.1h0.02M508.5 1125.1h0.02M145.9 1146.1h0.02M526.4 1146.1h0.02M127.9 1177.5h0.02M544.4 1177.5h0.02M120.7 1193.2h0.02M551.5 1193.2h0.02"/>
<path stroke="#c8ff37" d="M160.2 1130.4h0.02M512.0 1130.4h0.02M131.5 1172.2h0.02M540.8 1172.2h0.02M124.3 1187.9h0.02M548.0 1187.9h0.02"/>
<path stroke="#edff12" d="M156.6 1135.6h0.02M515.6 1135.6h0.02M142.3 1156.5h0.02M530.0 1156.5h0.02M138.7 1161.8h0.02M533.6 1161.8h0.02M135.1 1167.0h0.02M537.2 1167.0h0.02M120.7 1198.4h0.02M551.5 1198.4h0.02M117.2 1203.6h0.02M555.1 1203.6h0.02M113.6 1214.1h0.02M558.7 1214.1h0.02"/>
<path stroke="#ffed00" d="M153.1 1140.8h0.02M519.2 1140.8h0.02M149.5 1146.1h0.02M522.8 1146.1h0.02M145.9 1151.3h0.02M526.4 1151.3h0.02M131.5 1177.5h0.02M540.8 1177.5h0.02M127.9 1182.7h0.02M544.4 1182.7h0.02M117.2 1208.9h0.02M555.1 1208.9h0.02"/>
<path stroke="#ffc800" d="M153.1 1146.1h0.02M519.2 1146.1h0.02M135.1 1172.2h0.02M537.2 1172.2h0.02M124.3 1193.2h0.02M548.0 1193.2h0.02M120.7 1203.6h0.02M551.5 1203.6h0.02"/>
<path stroke="#ffa400" d="M149.5 1151.3h0.02M522.8 1151.3h0.02M145.9 1156.5h0.02M526.4 1156.5h0.02M127.9 1187.9h0.02M544.4 1187.9h0.02"/>
<path stroke="#ff8000" d="M142.3 1161.8h0.02M530.0 1161.8h0.02M138.7 1167.0h0.02M533.6 1167.0h0.02M131.5 1182.7h0.02M540.8 1182.7h0.02M124.3 1198.4h0.02M548.0 1198.4h0.02M117.2 1214.1h0.02M555.1 1214.1h0.02"/>
<path stroke="#ff5b00" d="M142.3 1167.0h0.02M530.0 1167.0h0.02M135.1 1177.5h0.02M537.2 1177.5h0.02M127.9 1193.2h0.02M544.4 1193.2h0.02M120.7 1208.9h0.02M551.5 1208.9h0.02"/>
<path stroke="#ff3700" d="M138.7 1172.2h0.02M533.6 1172.2h0.02M124.3 1203.6h0.02M548.0 1203.6h0.02"/>
<path stroke="#ff1200" d="M135.1 1182.7h0.02M537.2 1182.7h0.02M131.5 1187.9h0.02M540.8 1187.9h0.02M120.7 1214.1h0.02M551.5 1214.1h0.02"/>
<path stroke="#ed0000" d="M131.5 1193.2h0.02M540.8 1193.2h0.02M127.9 1198.4h0.02M544.4 1198.4h0.02"/>
<path stroke="#c80000" d="M127.9 1203.6h0.02M544.4 1203.6h0.02M124.3 1208.9h0.02M548.0 1208.9h0.02"/>
<path stroke="#a40000" d="M124.3 1214.1h0.02M548.0 1214.1h0.02"/>
<path stroke="#fff" stroke-width="2.75" d="M325.4 983.9h21.56M300.2 989.1h71.82M289.5 994.3h93.36M278.7 999.6h114.90M264.3 1004.8h39.51M368.4 1004.8h39.51M257.2 1010.0h35.92M379.2 1010.0h35.92M250.0 1015.3h32.33M390.0 1015.3h32.33M242.8 1020.5h25.15M404.4 1020.5h25.15M235.6 1025.7h25.15M411.5 1025.7h25.15M228.4 1031.0h25.15M418.7 1031.0h25.15M221.3 1036.2h25.15M425.9 1036.2h25.15M217.7 1041.4h17.97M436.7 1041.4h17.97M210.5 1046.7h21.56M440.2 1046.7h21.56M206.9 1051.9h17.97M447.4 1051.9h17.97M199.7 1057.1h21.56M451.0 1057.1h21.56M196.1 1062.4h17.97M458.2 1062.4h17.97M192.5 1067.6h14.38M465.4 1067.6h14.38M185.4 1072.8h17.97M469.0 1072.8h17.97M181.8 1078.1h17.97M472.6 1078.1h17.97M178.2 1083.3h14.38M479.7 1083.3h14.38M174.6 1088.5h14.38M483.3 1088.5h14.38M171.0 1093.8h14.38M486.9 1093.8h14.38M167.4 1099.0h14.38M490.5 1099.0h14.38M163.8 1104.2h14.38M494.1 1104.2h14.38M160.2 1109.4h14.38M497.7 1109.4h14.38M156.6 1114.7h14.38M501.3 1114.7h14.38M153.1 1119.9h14.38M504.9 1119.9h14.38M153.1 1125.1h10.79M508.5 1125.1h10.79M149.5 1130.4h10.79M512.0 1130.4h10.79M145.9 1135.6h10.79M515.6 1135.6h10.79M142.3 1140.8h10.79M519.2 1140.8h10.79M138.7 1146.1h14.38M519.2 1146.1h14.38M138.7 1151.3h10.79M522.8 1151.3h10.79M135.1 1156.5h10.79M526.4 1156.5h10.79M131.5 1161.8h10.79M530.0 1161.8h10.79M131.5 1167.0h10.79M530.0 1167.0h10.79M127.9 1172.2h10.79M533.6 1172.2h10.79M127.9 1177.5h7.20M537.2 1177.5h7.20M124.3 1182.7h10.79M537.2 1182.7h10.79M124.3 1187.9h7.20M540.8 1187.9h7.20M120.7 1193.2h10.79M540.8 1193.2h10.79M120.7 1198.4h7.20M544.4 1198.4h7.20M117.2 1203.6h10.79M544.4 1203.6h10.79M117.2 1208.9h7.20M548.0 1208.9h7.20M113.6 1214.1h10.79M548.0 1214.1h10.79"/>
</g>
<rect x="597.2" y="985.9" width="16.8" height="202.6" fill="url(#f2cb)"/>
<g font-size="8.4" fill="#333"><text x="617.5" y="1184.9">140</text><text x="617.5" y="1163.7">160</text><text x="617.5" y="1142.6">180</text><text x="617.5" y="1121.4">200</text><text x="617.5" y="1100.3">220</text><text x="617.5" y="1079.1">240</text><text x="617.5" y="1057.9">260</text><text x="617.5" y="1036.8">280</text><text x="617.5" y="1015.6">300</text><text x="617.5" y="994.5">320</text></g><path d="M614 1181.9h-2.5M614 1160.7h-2.5M614 1139.6h-2.5M614 1118.4h-2.5M614 1097.3h-2.5M614 1076.1h-2.5M614 1054.9h-2.5M614 1033.8h-2.5M614 1012.6h-2.5M614 991.5h-2.5" stroke="#333" stroke-width="0.6"/>
</svg>
<svg style="left:0;top:0" width="1200" height="1600" viewBox="0 0 1200 1600">
<defs><linearGradient id="f3jet" x1="0" y1="0" x2="0" y2="1"><stop offset="0.000" stop-color="#800000"/><stop offset="0.062" stop-color="#bf0000"/><stop offset="0.125" stop-color="#ff0000"/><stop offset="0.188" stop-color="#ff4000"/><stop offset="0.250" stop-color="#ff8000"/><stop offset="0.312" stop-color="#ffbf00"/><stop offset="0.375" stop-color="#ffff00"/><stop offset="0.438" stop-color="#bfff40"/><stop offset="0.500" stop-color="#80ff80"/><stop offset="0.562" stop-color="#40ffbf"/><stop offset="0.625" stop-color="#00ffff"/><stop offset="0.688" stop-color="#00bfff"/><stop offset="0.750" stop-color="#0080ff"/><stop offset="0.812" stop-color="#0040ff"/><stop offset="0.875" stop-color="#0000ff"/><stop offset="0.938" stop-color="#0000bf"/><stop offset="1.000" stop-color="#000080"/></linearGradient><linearGradient id="f3fl" x1="0" y1="1" x2="0" y2="0"><stop offset="0" stop-color="#f8d800"/><stop offset="0.07" stop-color="#b0f450"/><stop offset="0.16" stop-color="#48ecb8"/><stop offset="0.32" stop-color="#20b8ff"/><stop offset="0.6" stop-color="#1268e8" stop-opacity="0.85"/><stop offset="1" stop-color="#0830c0" stop-opacity="0.2"/></linearGradient><linearGradient id="f3st" gradientUnits="userSpaceOnUse" x1="1020.1" y1="0" x2="1114.4" y2="0"><stop offset="0.000" stop-color="#1848d8"/><stop offset="0.009" stop-color="#30c0f0"/><stop offset="0.032" stop-color="#58e8b0"/><stop offset="0.087" stop-color="#78f098"/><stop offset="0.133" stop-color="#50e4c0"/><stop offset="0.156" stop-color="#2098f8"/><stop offset="0.179" stop-color="#1080f0"/><stop offset="0.198" stop-color="#38d0e0"/><stop offset="0.248" stop-color="#60eeb0"/><stop offset="0.294" stop-color="#a8f060"/><stop offset="0.322" stop-color="#c8f048"/><stop offset="0.340" stop-color="#50d8e0"/><stop offset="0.363" stop-color="#30c0f0"/><stop offset="0.382" stop-color="#70f0a0"/><stop offset="0.421" stop-color="#90f478"/><stop offset="0.437" stop-color="#e0e830"/><stop offset="0.460" stop-color="#e0e030"/><stop offset="0.474" stop-color="#90f070"/><stop offset="0.497" stop-color="#a0f468"/><stop offset="0.506" stop-color="#f0e020"/><stop offset="0.524" stop-color="#e8e828"/><stop offset="0.533" stop-color="#90f070"/><stop offset="0.575" stop-color="#70f0a0"/><stop offset="0.589" stop-color="#30c0ff"/><stop offset="0.611" stop-color="#30c8f8"/><stop offset="0.625" stop-color="#58e8c0"/><stop offset="0.657" stop-color="#48e0d0"/><stop offset="0.669" stop-color="#20b0ff"/><stop offset="0.699" stop-color="#28b8ff"/><stop offset="0.710" stop-color="#e8d828"/><stop offset="0.726" stop-color="#f8a018"/><stop offset="0.740" stop-color="#ee3808"/><stop offset="0.772" stop-color="#e82000"/><stop offset="0.784" stop-color="#f86810"/><stop offset="0.798" stop-color="#f87010"/><stop offset="0.807" stop-color="#e62000"/><stop offset="0.851" stop-color="#e82808"/><stop offset="0.869" stop-color="#f05010"/><stop offset="0.897" stop-color="#e83008"/><stop offset="0.910" stop-color="#f8a820"/><stop offset="0.943" stop-color="#f8b828"/><stop offset="0.956" stop-color="#f08018"/><stop offset="0.979" stop-color="#e83008"/><stop offset="1.000" stop-color="#e02000"/></linearGradient><filter id="f3b"><feGaussianBlur stdDeviation="0.45"/></filter><filter id="f3b2" x="-10%" y="-40%" width="120%" height="180%"><feGaussianBlur stdDeviation="2.2"/></filter><clipPath id="f3ca"><rect x="740.4" y="227.7" width="374.0" height="80.6"/></clipPath><clipPath id="f3cb"><rect x="740.4" y="314.4" width="374.0" height="80.2"/></clipPath><clipPath id="f3cc"><rect x="740.4" y="400.6" width="374.0" height="80.8"/></clipPath><clipPath id="f3cd"><rect x="740.4" y="486.8" width="374.0" height="81.3"/></clipPath><clipPath id="f3ce"><rect x="740.4" y="573.4" width="374.0" height="80.9"/></clipPath><clipPath id="f3cf"><rect x="740.4" y="660.1" width="374.0" height="80.2"/></clipPath></defs>
<g font-size="12.4" fill="#111" text-anchor="middle"><text x="880.6" y="222.6">2018-05-02</text><text x="1068" y="222.6">2018-05-03</text></g>
<rect x="740.4" y="227.7" width="374.0" height="80.6" fill="#00008c"/><rect x="1020.1" y="227.7" width="94.3" height="80.6" fill="url(#f3st)"/><path d="M1019 227.7Q1023 247.7 1021 272.7T1022 308.3H1019Z" fill="#00008c"/><g clip-path="url(#f3ca)"><path d="M962.4 274.7v1.8M976.2 290.4v1.5M922.8 230.8v1.1M926.5 248.2v1.7M954.8 294.2v2.0M961.5 280.4v1.4M940.6 247.3v1.1M1013.3 294.6v1.3M918.3 248.6v1.1M926.5 285.8v2.0M918.2 261.9v1.4M1014.7 291.2v2.4M916.3 305.5v1.4M992.3 254.9v1.1M915.2 274.3v2.0M969.9 296.1v1.2M1007.7 292.3v1.3M988.6 301.7v2.5M1004.7 275.9v1.2M909.4 303.4v2.1M924.8 284.9v1.4M1008.7 245.3v1.4M955.4 234.3v1.6M969.7 239.8v2.4M920.9 232.4v2.5M984.2 303.4v2.0M959.5 285.7v2.6M954.8 293.9v2.2M908.4 275.8v1.4M933.9 230.6v2.1M954.9 298.0v2.1M985.4 302.5v1.3M955.9 250.8v1.7M975.7 267.5v2.3M1016.0 264.4v1.1M939.9 290.3v1.2M982.3 245.0v1.3M974.4 287.6v2.3M965.7 290.3v2.5M1001.7 256.4v1.7M967.2 288.5v1.0M942.9 290.1v1.2M930.0 270.0v2.2M969.7 245.1v1.8M983.1 234.7v1.7M1013.1 300.4v1.8M958.8 254.0v2.0M945.2 277.2v2.2M918.9 268.8v1.3M964.9 263.2v1.7M964.8 241.9v2.0M1007.0 253.9v2.5M932.0 285.4v1.2M950.5 282.2v1.3M962.1 287.8v2.1M926.4 235.1v1.1M1009.7 237.0v2.5M957.2 288.3v1.7M984.2 294.4v1.7M988.5 260.7v1.3M786.3 299.5v1.7M869.5 292.1v1.4M888.4 297.1v1.7M867.8 288.3v1.4M860.6 235.1v1.3M820.0 230.5v1.4M847.2 277.5v1.2M896.1 280.7v1.3M850.6 273.3v1.5M807.3 306.3v1.6M857.2 288.0v2.0M748.7 276.8v1.7M786.1 260.5v1.1M776.3 258.5v1.1M785.1 299.1v1.6M826.3 303.8v1.6M904.2 278.6v1.8M757.2 275.5v1.8M752.2 300.9v1.2M820.5 242.7v1.5M842.8 234.2v1.9M812.3 270.0v1.6M803.5 251.6v1.7M834.7 251.4v1.7M792.4 230.8v1.2M751.8 241.7v1.8M807.4 298.5v1.7M753.0 305.4v1.9M756.8 299.1v1.4M821.4 304.2v1.2M828.7 301.5v1.7M819.9 304.7v1.8M841.6 238.5v1.6M817.9 245.3v1.1M829.5 239.2v1.4M851.9 264.6v1.3M838.2 261.8v1.8M829.9 306.1v2.0M862.5 248.0v1.1M887.8 289.8v1.6" stroke="#2048c0" stroke-width="0.9" opacity="0.8"/><path d="M915.2 291.7v1.1M1016.0 303.6v2.0M1017.7 306.0v2.1M991.6 260.4v1.6M913.3 277.9v1.4M995.1 243.3v1.7M934.0 292.8v1.5M968.2 295.0v1.4M1015.8 280.0v1.9M913.5 271.5v2.4M988.3 283.6v2.5M975.6 259.0v2.0M987.3 259.5v1.9M983.9 267.8v2.5M927.4 262.7v2.5M1004.5 259.1v1.5M920.4 267.7v2.4M1003.6 232.9v1.9M956.4 231.6v1.4M920.9 233.3v1.7M976.2 279.9v2.5M906.2 265.9v1.3M935.8 256.2v1.8M919.7 264.4v2.5M1011.7 265.2v1.3M986.6 292.4v2.1M996.4 234.6v1.3M963.4 285.1v2.1M977.2 269.7v1.9M940.2 258.9v2.4M950.3 291.1v1.8M919.3 262.9v2.4M1009.6 239.6v1.0M926.9 247.1v1.5M1001.8 247.5v2.3M999.0 262.0v1.2M967.3 269.1v1.2M925.9 245.3v2.6M963.2 262.6v1.0M984.6 295.6v1.6" stroke="#4080d8" stroke-width="0.9" opacity="0.8"/><path d="M956.1 272.6v1.7M1007.9 265.7v1.6M914.8 255.2v2.2M928.8 259.9v2.0M947.0 264.4v1.8M944.8 282.2v2.4M952.1 290.3v1.9M914.1 278.7v2.4M927.9 242.7v2.1M1007.4 236.4v2.2M947.6 273.3v2.3M929.1 298.6v2.6M1011.9 267.4v1.1M928.5 294.9v1.8M973.4 231.8v1.8M977.1 270.3v2.0M929.7 306.2v1.2M982.1 299.5v1.2M962.9 230.9v2.3M972.8 268.3v2.3" stroke="#8c8450" stroke-width="0.9" opacity="0.85"/><path d="M828.2 281.9L828.2 267.9Q870.4 255.9 912.6 277.1L912.6 285.1Z" fill="#1478f0" opacity="0.55" filter="url(#f3b2)"/><g fill="url(#f3fl)" filter="url(#f3b)"><path d="M826.6 281.9Q828.5 270.4 830.5 260.2Q832.7 270.4 834.2 281.9Z"/><path d="M830.7 281.9Q832.2 274.9 833.7 269.1Q835.8 274.9 837.2 281.9Z"/><path d="M835.7 282.2Q837.7 262.6 839.8 244.2Q840.7 262.6 841.1 282.2Z"/><path d="M839.3 282.2Q841.4 273.4 843.4 265.9Q845.0 273.4 845.8 282.2Z"/><path d="M842.6 282.6Q845.0 270.1 847.4 258.9Q849.2 270.1 850.2 282.6Z"/><path d="M847.3 282.6Q849.5 272.8 851.7 264.3Q853.1 272.8 853.8 282.6Z"/><path d="M849.9 282.6Q852.3 268.5 854.7 255.7Q855.9 268.5 856.4 282.6Z"/><path d="M856.5 282.9Q857.6 260.6 858.6 239.7Q860.6 260.6 861.9 282.9Z"/><path d="M858.5 282.9Q860.0 270.6 861.4 259.5Q863.6 270.6 865.0 282.9Z"/><path d="M861.4 282.9Q864.2 267.0 867.1 252.5Q867.8 267.0 867.9 282.9Z"/><path d="M866.0 283.2Q869.0 272.0 872.0 262.1Q873.2 272.0 873.6 283.2Z"/><path d="M870.3 283.2Q873.0 273.9 875.7 265.9Q876.6 273.9 876.9 283.2Z"/><path d="M873.5 283.2Q874.6 269.4 875.7 257.0Q878.2 269.4 880.1 283.2Z"/><path d="M877.8 283.5Q879.2 272.2 880.6 262.1Q883.4 272.2 885.4 283.5Z"/><path d="M881.9 283.5Q883.4 274.1 884.9 265.9Q887.0 274.1 888.4 283.5Z"/><path d="M885.1 283.8Q886.9 267.5 888.7 252.5Q890.5 267.5 891.6 283.8Z"/><path d="M888.8 283.8Q890.7 261.1 892.6 239.7Q893.7 261.1 894.2 283.8Z"/><path d="M891.2 283.8Q892.7 269.1 894.2 255.7Q896.9 269.1 898.8 283.8Z"/><path d="M895.3 284.2Q897.3 271.2 899.4 259.5Q900.9 271.2 901.8 284.2Z"/><path d="M898.4 284.2Q899.3 263.5 900.1 244.2Q902.3 263.5 903.8 284.2Z"/><path d="M901.4 284.5Q902.5 266.2 903.7 249.3Q906.1 266.2 907.9 284.5Z"/><path d="M903.7 284.8Q906.3 274.7 908.8 265.9Q910.5 274.7 911.3 284.8Z"/><path d="M907.7 285.4Q909.5 278.2 911.2 272.3Q912.4 278.2 913.1 285.4Z"/></g><g filter="url(#f3b)"><ellipse cx="831.4" cy="279.0" rx="1.3" ry="2.1" fill="#e83000"/><ellipse cx="833.9" cy="277.8" rx="1.3" ry="2.4" fill="#f8c000"/><ellipse cx="839.0" cy="280.0" rx="1.1" ry="1.6" fill="#78f080"/><ellipse cx="844.8" cy="280.3" rx="1.6" ry="2.5" fill="#f0a000"/><ellipse cx="848.6" cy="278.6" rx="1.4" ry="1.8" fill="#e84000"/><ellipse cx="853.1" cy="280.7" rx="1.3" ry="2.3" fill="#d8f030"/><ellipse cx="858.2" cy="281.6" rx="1.3" ry="2.2" fill="#60f0a0"/><ellipse cx="863.4" cy="281.1" rx="1.8" ry="2.0" fill="#f0e020"/><ellipse cx="867.2" cy="280.1" rx="1.1" ry="2.6" fill="#f07000"/><ellipse cx="874.2" cy="279.6" rx="1.1" ry="2.2" fill="#e85000"/><ellipse cx="879.4" cy="281.1" rx="1.6" ry="1.8" fill="#b8f048"/><ellipse cx="886.4" cy="282.4" rx="1.1" ry="1.7" fill="#f0a000"/><ellipse cx="891.5" cy="282.4" rx="1.1" ry="1.8" fill="#70f090"/><ellipse cx="896.6" cy="282.9" rx="1.6" ry="1.8" fill="#f08000"/><ellipse cx="902.4" cy="281.3" rx="1.3" ry="2.4" fill="#c8f040"/><ellipse cx="908.2" cy="282.3" rx="1.1" ry="2.4" fill="#f8e020"/><ellipse cx="910.1" cy="283.1" rx="1.8" ry="2.7" fill="#f0b020"/></g><path d="M911.4 283.2L945.6 285.4L911.4 286.6Z" fill="#20b0ff" opacity="0.8" filter="url(#f3b)"/></g>
<path d="M743.7 227.7V308.3M743.7 240h2.4M743.7 255.3h2.4M743.7 271h2.4M743.7 286.7h2.4M743.7 302.3h2.4" stroke="#e6e21e" stroke-width="0.9" fill="none"/><g font-size="12.4" fill="#ece82a"><text x="746.8" y="244.4">Alt(km)</text><text x="746.8" y="259.7">150</text><text x="746.8" y="275.4">125</text><text x="746.8" y="291.1">100</text><text x="746.8" y="306.5">75</text></g><text x="803" y="241.3" font-size="12.4" fill="#fff">(a)</text><path d="M841.6 284.8L931 293.5" stroke="#fff" stroke-width="0.8"/><path d="M935.5 294L926.5 290.3L928.5 293.3L926 296.2Z" fill="#fff"/><text transform="translate(850 297.2) rotate(5.0)" font-size="10.1" fill="#fff">descending tendency</text>
<rect x="740.4" y="227.7" width="374.0" height="80.6" fill="none" stroke="#444" stroke-width="0.8"/><path d="M740.4 227.7v-3.6M740.4 308.3v3.6M756.0 227.7v-1.8M756.0 308.3v1.8M771.6 227.7v-1.8M771.6 308.3v1.8M787.1 227.7v-1.8M787.1 308.3v1.8M802.7 227.7v-1.8M802.7 308.3v1.8M818.3 227.7v-1.8M818.3 308.3v1.8M833.9 227.7v-3.6M833.9 308.3v3.6M849.5 227.7v-1.8M849.5 308.3v1.8M865.1 227.7v-1.8M865.1 308.3v1.8M880.6 227.7v-1.8M880.6 308.3v1.8M896.2 227.7v-1.8M896.2 308.3v1.8M911.8 227.7v-1.8M911.8 308.3v1.8M927.4 227.7v-3.6M927.4 308.3v3.6M943.0 227.7v-1.8M943.0 308.3v1.8M958.6 227.7v-1.8M958.6 308.3v1.8M974.1 227.7v-1.8M974.1 308.3v1.8M989.7 227.7v-1.8M989.7 308.3v1.8M1005.3 227.7v-1.8M1005.3 308.3v1.8M1020.9 227.7v-3.6M1020.9 308.3v3.6M1036.5 227.7v-1.8M1036.5 308.3v1.8M1052.1 227.7v-1.8M1052.1 308.3v1.8M1067.6 227.7v-1.8M1067.6 308.3v1.8M1083.2 227.7v-1.8M1083.2 308.3v1.8M1098.8 227.7v-1.8M1098.8 308.3v1.8M1114.4 227.7v-3.6M1114.4 308.3v3.6" stroke="#444" stroke-width="0.7" fill="none"/>
<path d="M740.4 227.7h-3.6M1114.4 227.7h3.6M740.4 231.7h-1.8M1114.4 231.7h1.8M740.4 235.8h-1.8M1114.4 235.8h1.8M740.4 239.8h-1.8M1114.4 239.8h1.8M740.4 243.8h-1.8M1114.4 243.8h1.8M740.4 247.8h-3.6M1114.4 247.8h3.6M740.4 251.9h-1.8M1114.4 251.9h1.8M740.4 255.9h-1.8M1114.4 255.9h1.8M740.4 259.9h-1.8M1114.4 259.9h1.8M740.4 264.0h-1.8M1114.4 264.0h1.8M740.4 268.0h-3.6M1114.4 268.0h3.6M740.4 272.0h-1.8M1114.4 272.0h1.8M740.4 276.1h-1.8M1114.4 276.1h1.8M740.4 280.1h-1.8M1114.4 280.1h1.8M740.4 284.1h-1.8M1114.4 284.1h1.8M740.4 288.2h-3.6M1114.4 288.2h3.6M740.4 292.2h-1.8M1114.4 292.2h1.8M740.4 296.2h-1.8M1114.4 296.2h1.8M740.4 300.2h-1.8M1114.4 300.2h1.8M740.4 304.3h-1.8M1114.4 304.3h1.8M740.4 308.3h-3.6M1114.4 308.3h3.6" stroke="#444" stroke-width="0.7"/><g font-size="12.4" fill="#222" text-anchor="end"><text x="732" y="232.4">300</text><text x="732" y="252.5">250</text><text x="732" y="272.6">200</text><text x="732" y="292.7">150</text></g><text transform="translate(704.5 268.0) rotate(-90)" font-size="13" fill="#222" text-anchor="middle">Range (km)</text>
<rect x="1129" y="256.8" width="10" height="51.1" fill="url(#f3jet)"/><g font-size="10.6" fill="#222"><text x="1142" y="260.8">10</text><text x="1142" y="277.8">5</text><text x="1142" y="294.8">0</text><text x="1142" y="311.8">-5</text></g><g font-size="10.4" fill="#222" text-anchor="middle"><text x="1134.5" y="237.5">SNR</text><text x="1134" y="250.5">(dB)</text></g>
<rect x="740.4" y="314.4" width="374.0" height="80.2" fill="#fff"/><g clip-path="url(#f3cb)"><path d="M842.6 369.1v4.3M895.0 362.1v2.4M889.4 366.0v4.9M873.6 363.9v6.3M850.8 360.2v4.1M853.8 361.8v3.4M866.9 367.9v3.8M883.0 369.8v3.5M844.3 361.1v3.1M903.8 359.1v5.7M897.2 370.1v2.8M838.2 361.3v5.1M875.2 366.6v4.4M876.7 366.9v6.0M842.9 368.4v4.2M864.1 363.5v6.1M849.9 367.0v5.7M865.9 366.9v3.1M860.7 366.8v2.7M860.5 368.6v4.2M843.9 368.8v4.4M870.7 370.9v2.3M897.2 362.3v3.7M880.6 355.6v5.2M888.4 372.0v2.3M836.7 364.9v4.3M844.9 363.4v6.4M851.2 361.5v4.5M836.1 355.9v3.6M888.9 370.8v5.9M906.7 368.4v3.6M838.2 367.7v2.4M840.9 368.4v2.5M853.0 358.0v3.9M834.4 367.5v6.1M863.8 363.5v5.8M871.0 360.1v2.4M851.7 356.1v6.4M832.6 361.8v4.8M837.7 365.7v5.8M883.5 360.4v2.5M872.6 366.3v5.9M849.7 369.2v5.7M872.7 371.4v4.2" stroke="#7cf07c" stroke-width="1.9"/><path d="M858.4 365.6v4.5M839.9 369.7v5.4M877.5 369.1v3.3M896.9 369.3v5.7M896.9 358.6v2.4M835.4 365.5v2.6M896.8 368.4v5.4M903.3 366.0v5.2M858.0 364.1v6.1M844.5 362.3v3.7M863.0 362.1v5.4M844.7 362.1v6.0M859.0 361.7v3.4M847.5 361.7v4.6M860.7 364.8v3.6M843.2 363.0v2.9M885.6 369.6v3.2M861.5 365.8v5.0M847.9 364.2v4.6M901.3 362.6v4.3M885.9 362.6v4.8M834.4 363.0v5.9M863.8 363.7v3.8M879.4 366.4v4.8M901.1 369.3v5.0M878.2 369.2v2.6M889.3 367.8v4.8M846.1 366.9v3.7M839.8 361.5v4.9M833.0 360.2v2.4M853.7 358.9v3.9M836.6 368.0v3.6" stroke="#a8f050" stroke-width="1.9"/><path d="M904.1 361.7v3.8M905.9 366.7v3.6M844.9 360.2v6.4M830.9 366.1v5.2M881.0 363.5v4.4M879.3 368.9v3.5M860.6 362.5v2.9M876.0 366.4v6.2M851.9 367.0v4.6M871.8 368.8v3.8M907.3 374.3v3.3M905.2 359.9v4.9M877.9 370.9v5.6M835.1 367.1v4.5M831.2 362.0v5.1M903.6 361.0v3.7M900.2 367.6v3.6M832.9 363.8v2.7M876.8 368.9v3.1M829.8 359.5v5.0M862.2 362.5v5.7M856.8 361.5v5.2M890.4 367.4v2.8M887.6 371.4v5.4M837.7 360.8v5.3M832.7 358.1v6.2M857.8 367.1v4.3M870.1 363.3v4.6M851.6 365.4v5.8M879.9 362.6v5.7M872.6 365.8v4.3M858.7 366.3v4.2M890.7 370.8v5.8M830.8 365.2v2.7M885.4 358.7v5.9M888.5 359.2v2.1M850.6 364.4v4.3M906.7 365.2v6.3M909.1 372.0v5.2" stroke="#f0e020" stroke-width="1.9"/><path d="M871.4 359.0v3.5M863.0 360.7v2.8M891.9 363.0v3.5M871.8 364.6v6.1M855.0 354.3v3.6M874.3 362.9v5.0M832.9 364.7v3.0M902.2 368.4v2.3M899.9 371.9v2.3M840.1 366.3v3.7M880.7 363.0v3.8M868.8 353.2v3.3M880.1 370.1v3.2M900.1 366.4v5.8M894.0 353.2v5.6M858.3 362.2v3.3M889.5 364.6v5.9M837.6 369.0v5.8M863.3 363.9v4.1M865.3 367.4v3.3M886.4 368.7v5.0M870.6 368.1v2.2M869.7 367.8v3.3M877.4 368.5v4.7M890.6 370.3v4.0M869.1 367.9v5.5M859.4 359.7v4.8M892.6 369.3v5.5M847.3 367.0v5.3" stroke="#f8a000" stroke-width="1.9"/><path d="M894.8 369.9v4.3M861.8 356.0v4.9M856.4 368.2v5.5M891.2 365.6v6.5M853.6 350.9v2.9M835.4 360.9v2.2M866.4 368.2v2.8M847.0 370.1v6.2M834.8 362.7v2.2M877.6 365.0v2.6M860.7 360.5v4.9M910.8 372.8v4.2M842.5 357.2v2.5M828.7 366.0v5.6M861.5 365.6v6.3M899.4 364.2v4.6M905.6 372.8v6.5M838.4 355.9v3.1M829.8 357.4v3.6M889.6 371.2v3.6M858.9 369.0v3.0M874.6 355.5v3.0M871.4 363.6v2.8M868.4 365.5v4.5" stroke="#f05000" stroke-width="1.9"/><path d="M833.0 365.4v6.1M828.9 361.5v4.1M873.2 369.4v3.2M875.4 367.7v3.5M908.0 368.1v5.1M897.8 367.6v6.1M890.6 368.4v2.3M869.5 360.1v5.9M840.1 368.9v4.4M845.9 367.0v5.6M843.4 356.9v6.3M858.1 353.6v4.8M883.7 372.6v6.2M854.9 361.5v2.6M880.9 364.8v6.0M860.0 361.8v4.6M870.9 360.9v4.7M863.8 364.4v3.3M863.0 361.3v4.5M846.0 357.6v4.1M841.5 365.3v4.3M860.3 358.4v4.2M893.3 370.4v2.5M900.8 362.8v4.4M899.6 370.5v5.1" stroke="#d81000" stroke-width="1.9"/><path d="M908.7 370.4v5.2M858.9 367.8v4.7M834.7 369.2v2.4M888.9 362.9v3.5M910.3 373.0v5.8M910.3 364.9v3.4M881.4 365.4v2.7M847.5 353.0v5.9M887.4 365.8v6.2M865.0 366.5v2.9M843.0 367.8v5.6M893.2 361.6v4.3M860.7 363.7v3.2M886.9 371.0v5.0M909.3 375.2v6.1M886.4 367.3v2.1M849.0 357.2v3.1M898.2 367.7v4.8M908.9 371.7v3.9M876.0 370.2v5.6M889.9 368.3v2.8M837.4 363.3v3.9M864.7 363.5v3.1M867.3 363.4v6.2M909.7 369.5v3.1M889.1 359.3v6.1M837.0 366.4v2.3M900.7 368.4v2.3M871.8 366.7v3.9" stroke="#800000" stroke-width="1.9"/><path d="M871.6 356.9v3.9M832.8 366.5v2.8M842.2 368.4v4.2M828.7 358.3v2.9M883.9 370.0v2.1M854.6 357.1v4.7M907.3 374.5v2.7M878.6 368.8v5.6M875.4 368.4v3.1M830.7 360.6v5.3M858.0 360.9v5.3M836.4 367.9v4.2M859.0 366.3v5.8M885.8 364.7v2.7M868.3 363.2v3.8M903.4 371.7v3.0M898.0 360.4v4.3M873.7 368.4v2.7M884.4 355.8v4.7M862.4 364.4v5.2M897.3 367.3v4.9M876.3 368.4v3.9M884.6 357.3v4.0M907.3 364.0v2.4" stroke="#30d0f0" stroke-width="1.9"/><path d="M894.4 366.0v4.5M904.3 365.8v5.0M841.0 366.5v4.3M840.4 367.3v5.7M867.9 352.6v3.4M866.4 361.5v4.9M884.4 370.3v4.7M897.8 368.3v6.5M842.2 367.9v5.5M845.9 363.2v3.1M841.4 363.9v2.2M910.8 363.9v5.2M848.8 366.4v2.9M893.6 364.9v5.5M858.4 368.9v5.8M910.7 366.1v4.9M861.8 361.0v6.3M848.9 368.0v3.8M830.3 349.4v5.5M871.2 370.4v6.3M829.8 369.9v5.1" stroke="#1890ff" stroke-width="1.9"/><path d="M849.6 361.5v3.5M893.8 368.4v2.4M852.5 367.4v2.9M832.0 360.3v5.9M900.0 365.6v4.1M832.1 365.4v3.4M886.7 351.8v2.1M862.2 369.9v3.1M859.1 368.7v6.3M891.7 366.4v6.2" stroke="#1040e0" stroke-width="1.9"/><path d="M873.3 355.7v4.9M899.1 365.4v4.9M862.3 361.9v5.6M843.4 355.7v2.2M908.9 365.5v2.7M858.2 361.5v4.7M845.8 363.4v5.1M853.6 359.7v2.7M873.6 362.6v3.5M851.5 360.6v3.8M897.0 371.2v3.8M886.8 367.9v3.5M843.2 364.5v2.7M885.8 369.2v4.7M857.7 370.3v5.1M866.7 365.4v6.4M898.9 362.4v4.4M855.3 357.6v4.6M890.4 370.8v2.0M874.0 363.6v5.4M903.2 366.6v3.4M906.3 369.9v6.2M879.0 369.7v2.4" stroke="#60e8b0" stroke-width="1.9"/><path d="M859.2 318.0L862.4 334.0" stroke="#1040c0" stroke-width="1.3"/><path d="M860.2 329.2L861.4 340.4" stroke="#30a0f0" stroke-width="1.3"/><path d="M838.4 330.8L834.6 343.6" stroke="#d83010" stroke-width="1.3"/><path d="M835.8 338.2L833.6 344.6" stroke="#f8a000" stroke-width="1.3"/><path d="M892.2 321.2L886.4 348.4" stroke="#901008" stroke-width="1.3"/><path d="M889.0 340.4L886.4 354.8" stroke="#e04010" stroke-width="1.3"/><path d="M899.8 330.8L897.6 356.4" stroke="#800000" stroke-width="1.3"/><path d="M905.0 340.4L903.0 354.8" stroke="#8c0000" stroke-width="1.3"/><path d="M896.0 342.0L893.4 353.2" stroke="#c82010" stroke-width="1.3"/><path d="M856.0 338.8L855.0 345.8" stroke="#c03010" stroke-width="1.3"/><path d="M851.2 332.4L850.6 337.2" stroke="#f0c020" stroke-width="1.3"/><path d="M876.8 348.4L875.5 354.8" stroke="#e08010" stroke-width="1.3"/><path d="M833.0 322.2L832.0 326.0" stroke="#f0d020" stroke-width="1.3"/><path d="M827.2 324.4L827.8 327.6" stroke="#70e080" stroke-width="1.3"/><path d="M970.1 382.8v1.0M936.8 338.0v1.2M929.8 351.6v3.0M998.7 340.9v2.0M992.0 355.1v3.0M917.8 392.1v1.9M934.5 342.2v1.7M982.1 355.2v2.0M1012.6 365.6v2.3M944.8 352.2v1.5M1002.7 360.0v1.9" stroke="#50c8f0" stroke-width="0.9" opacity="0.8"/><path d="M922.4 392.7v1.8M950.6 320.7v1.5M940.0 356.4v1.4M962.9 387.8v1.5M956.1 378.2v1.7M960.1 324.6v2.8M1016.6 363.9v1.3M990.7 357.2v2.4M970.8 352.1v1.0M1012.5 390.8v1.3M1020.5 350.2v2.9M945.0 349.4v2.9M1014.0 388.5v1.9M948.9 351.2v2.9M948.6 371.3v2.3M988.0 362.0v2.4M999.4 385.2v1.2" stroke="#a8e860" stroke-width="0.9" opacity="0.8"/><path d="M977.0 363.6v1.9M984.3 358.4v2.1M917.6 324.5v2.5M991.8 354.0v1.4M1004.7 379.7v2.2M974.5 383.2v1.5M976.8 389.9v2.3" stroke="#f0c040" stroke-width="0.9" opacity="0.8"/><path d="M995.8 335.8v2.1M1001.6 356.6v2.9M940.2 388.6v1.7M928.2 373.0v2.5M950.1 361.8v1.7M1018.5 376.2v2.1M948.7 385.2v1.9M977.2 390.1v1.5M957.5 386.9v1.1M973.8 370.7v1.3" stroke="#6090e0" stroke-width="0.9" opacity="0.8"/><path d="M1036.4 371.0v2M1032.3 365.4v2M1032.0 338.7v1M1028.8 334.8v2M1026.6 383.3v1.5M1029.5 384.5v1.5M1033.4 388.0v2M1032.6 319.4v2M1034.1 387.2v1.5M1032.2 358.2v2M1028.3 389.6v1M1029.2 375.1v1M1026.2 350.4v1.5M1037.6 363.0v1M1031.1 376.6v1M1035.6 317.6v2M1031.8 330.5v1M1039.5 383.1v2M1031.4 383.4v1M1034.0 389.8v2M1028.7 330.9v1M1032.0 348.5v1.5M1027.7 380.8v2M1033.0 349.0v1.5M1029.8 344.3v2M1027.9 340.8v1M1034.5 316.1v1.5M1027.2 331.7v1M1026.5 371.3v1M1024.0 374.8v1.5M1030.2 318.9v2M1030.1 317.3v1M1032.1 357.4v2M1031.0 371.3v1.5M1036.4 356.2v2M1030.6 369.2v1.5M1027.1 360.3v2M1033.6 322.9v2M1026.3 358.8v1.5M1029.4 318.3v2M1028.8 331.2v1.5M1034.3 373.1v1.5M1027.8 373.2v1.5M1035.1 388.7v1.5M1027.5 316.7v1M1030.3 362.5v1M1027.2 381.4v1.5M1031.9 316.1v1M1028.0 341.2v1M1026.6 328.2v1M1030.9 327.3v2M1028.2 316.1v1.5M1032.5 376.9v1.5M1028.1 344.5v2M1029.1 387.8v1M1030.1 341.2v1M1034.3 342.8v2M1033.1 384.3v1M1030.0 324.4v2M1033.1 382.8v2M1029.8 313.9v1.5M1030.9 333.2v2M1034.2 316.7v1.5M1027.2 325.0v2M1034.3 341.7v1.5M1033.4 365.8v1.5M1039.0 382.2v1M1034.6 344.5v1M1024.3 340.4v1M1037.2 365.3v1.5M1034.1 371.8v1M1030.7 383.8v2M1032.1 324.1v2M1025.9 376.4v1M1033.3 377.7v1.5M1030.0 392.3v2M1028.7 377.9v1.5M1033.8 320.0v2M1028.1 350.1v1M1029.2 363.2v1.5M1029.3 367.4v1M1030.7 378.3v2M1024.2 379.9v1M1029.3 359.8v2M1029.9 335.2v2M1029.5 322.4v1M1022.4 357.0v1M1030.4 326.5v2M1034.0 374.3v1M1023.5 348.0v1M1028.4 324.0v2M1036.7 354.3v2M1030.6 344.1v1.5M1030.6 319.0v1.5M1035.9 388.9v1M1033.1 379.4v2M1029.6 337.6v1M1027.0 326.8v2M1031.8 344.7v1.5M1027.8 380.7v2M1029.8 318.0v2M1028.8 355.0v1.5M1026.2 386.9v2M1030.2 315.4v1M1025.6 371.2v2M1031.8 391.5v1M1033.2 381.1v2M1024.8 374.0v1M1025.5 319.3v1.5M1031.4 350.8v2M1033.2 326.3v1.5M1035.6 324.8v2M1028.5 315.5v2M1032.8 357.8v1M1029.2 362.0v1M1031.2 382.1v2M1030.7 385.6v1.5M1029.8 392.0v1M1030.1 362.8v2M1028.9 341.8v2M1033.2 335.3v1M1035.1 381.6v1M1025.5 352.4v1M1028.0 353.5v2M1030.7 340.2v1.5M1026.9 382.9v2M1032.9 343.3v1M1028.8 316.2v2M1033.2 391.2v1M1036.3 387.2v1M1036.1 323.9v1M1033.2 333.1v1.5M1033.7 341.4v1M1028.1 378.1v1M1027.8 336.5v1M1028.1 316.1v1M1035.6 352.9v2M1030.4 392.8v1.5M1034.4 368.0v1M1029.1 343.2v1M1032.6 320.0v1M1028.9 326.6v2M1033.5 341.3v1M1028.8 380.6v1M1028.2 363.6v1.5M1029.9 393.0v1.5M1053.4 331.8v1M1043.5 323.2v1M1056.0 357.6v2M1056.9 379.5v1M1052.5 358.5v2M1050.8 337.3v2M1047.5 384.8v1.5M1038.8 345.6v1.5M1048.2 390.4v2M1040.2 332.1v1.5M1055.6 314.4v2M1040.1 355.7v1M1050.6 368.6v2M1054.7 351.5v1M1044.5 351.0v2M1049.3 335.9v1M1050.6 391.8v2M1044.0 374.2v1M1044.4 343.6v1.5M1048.7 385.2v2M1042.3 390.2v2M1048.7 393.5v2M1041.7 348.9v1M1038.8 361.1v2M1056.1 332.2v1.5M1059.0 352.7v2M1052.4 342.8v2M1044.0 382.7v2M1053.0 348.1v2M1048.4 327.1v2M1051.3 337.7v1M1056.9 328.0v2M1042.2 359.2v1M1059.1 320.9v1.5M1038.5 392.0v1.5M1040.0 376.7v1M1056.2 343.4v1.5M1056.5 323.0v2M1058.8 379.2v1M1054.9 361.8v1.5M1042.3 392.9v2M1044.0 357.6v2M1039.4 365.7v1.5M1045.6 353.3v1.5M1043.2 348.8v1.5M1045.7 384.9v1.5M1051.3 351.7v1M1043.3 392.0v2M1053.1 342.7v1.5M1053.2 348.8v2M1059.1 362.5v2M1043.9 383.4v1.5M1046.6 347.7v1M1049.3 357.7v2M1043.3 326.0v1M1040.3 392.9v1M1049.3 383.7v1.5M1058.6 377.0v1.5M1040.6 350.7v1M1045.2 368.6v1.5M1045.0 353.1v2M1051.9 382.2v2M1040.6 316.6v2M1043.4 343.6v1.5M1053.4 347.0v1.5M1048.4 329.9v1.5M1054.1 352.7v1M1050.6 321.2v1M1039.5 340.3v1.5M1052.7 332.0v2M1057.8 334.9v1M1045.3 393.6v1.5M1042.5 364.0v1.5M1040.2 365.5v1M1056.2 322.6v1M1049.7 329.5v1.5M1054.9 361.0v1.5M1041.5 368.2v2M1051.3 349.4v2M1042.5 373.8v1.5M1054.7 333.7v1M1056.3 320.4v1M1042.2 358.7v1.5M1038.6 343.5v2M1058.1 350.0v1M1048.6 345.8v1M1046.8 375.6v1.5M1052.7 339.2v2M1055.8 381.5v1M1054.5 314.4v1.5M1044.6 380.2v1.5M1053.6 334.1v1.5M1038.8 339.4v2M1047.4 368.5v1.5M1049.2 343.3v2M1040.6 353.2v1.5M1054.1 348.2v2M1048.4 372.9v1M1050.3 386.1v1.5M1043.0 324.0v1M1041.2 358.4v1.5M1046.1 314.9v2M1048.7 327.5v2M1054.3 319.2v1M1038.8 354.2v1M1048.1 315.2v2M1051.0 355.9v1M1043.1 375.4v1.5M1049.3 361.5v1.5M1047.1 364.7v2M1051.8 346.7v2M1046.0 329.8v1M1055.6 375.6v2M1057.2 356.1v2M1040.5 366.7v1M1051.6 325.9v1.5M1051.0 348.2v1M1042.0 386.0v1M1056.8 339.3v1.5M1048.9 319.2v2M1051.6 374.3v2M1055.2 371.9v1.5M1047.7 349.6v2M1044.3 330.5v1.5M1047.1 358.4v2M1047.3 336.3v1.5M1052.0 356.9v1M1040.0 393.6v1M1054.9 336.2v1M1052.0 326.2v1.5M1045.6 365.2v2M1055.5 380.5v1M1057.2 386.1v1.5M1043.1 340.5v2M1044.4 367.2v1M1047.8 375.2v2M1050.9 366.4v2M1047.1 388.8v2M1039.8 359.5v1M1049.3 373.8v1M1050.9 390.3v2M1048.7 393.4v1.5M1048.1 330.3v2M1051.5 382.2v2M1044.0 360.4v1M1048.1 342.0v2M1047.1 373.7v1M1040.9 316.0v2M1047.9 370.1v1M1051.1 366.5v1.5M1077.6 393.1v2M1081.3 333.4v1.5M1077.7 328.1v2M1064.9 337.9v1.5M1070.9 340.6v1.5M1067.8 326.5v2M1064.5 377.5v1.5M1068.3 328.0v1M1082.1 370.3v1.5M1082.9 388.3v1.5M1066.2 350.5v1M1070.6 340.1v2M1070.5 391.4v1.5M1064.1 347.7v1.5M1078.6 318.0v1M1065.7 367.2v1M1077.8 326.3v2M1083.8 349.8v1.5M1074.2 382.0v1.5M1070.2 333.3v2M1079.0 366.4v1M1080.9 364.5v1.5M1080.8 370.9v1M1076.3 364.0v1.5M1069.2 328.4v1.5M1078.0 343.6v2M1074.1 374.5v1M1077.5 387.6v1.5M1064.2 325.0v1.5M1066.0 348.8v2M1073.7 355.7v1.5M1068.7 369.0v1M1071.1 380.0v1M1077.1 356.1v1M1078.3 350.3v1.5M1084.8 357.4v2M1068.4 325.7v1M1066.2 365.2v1.5M1084.8 356.5v1M1069.0 322.9v1.5M1073.1 336.7v1.5M1074.1 337.1v1.5M1072.9 343.1v2M1063.2 390.8v1.5M1074.6 389.1v2M1080.4 384.1v2M1072.2 362.7v1.5M1064.6 386.1v1.5M1077.1 330.5v1.5M1073.4 332.5v1M1078.2 373.1v2M1066.1 352.0v2M1069.8 355.0v2M1084.1 344.8v1.5M1079.3 349.9v2M1072.9 335.6v2M1078.1 325.8v1M1073.8 369.2v1M1082.1 317.5v2M1080.0 336.9v1M1071.6 328.2v1M1082.8 353.8v1M1081.3 370.7v1.5M1077.0 328.3v1M1066.5 354.5v1.5M1067.1 350.4v1.5M1066.6 327.2v1M1082.6 318.6v1M1068.0 390.0v1.5M1083.2 325.3v1M1076.9 351.1v2M1078.1 378.4v1M1068.7 320.7v2M1075.8 323.2v2M1069.1 316.6v2M1076.3 364.8v1M1084.5 372.2v2M1064.9 316.9v1.5M1065.2 368.8v2M1067.6 320.4v1.5M1078.1 330.4v1.5M1062.6 327.6v1.5M1084.3 381.2v2M1066.0 372.6v1.5M1068.4 319.9v1M1084.1 386.5v2M1080.7 359.8v2M1076.9 380.4v1.5M1073.7 392.0v1.5M1071.6 328.2v1.5M1075.6 389.1v1.5M1072.2 353.5v1.5M1079.7 337.6v1.5M1076.3 390.6v2M1083.5 355.9v1M1066.2 367.2v1.5M1083.8 382.0v1.5M1082.9 337.0v1M1069.6 318.3v2M1079.3 380.7v1M1076.9 390.4v1M1069.1 379.7v1M1076.5 342.6v1.5M1063.5 316.1v2M1076.1 357.1v1M1073.4 348.9v1M1069.2 331.7v1M1075.2 334.9v1.5M1075.5 367.8v1.5M1066.7 348.6v1.5M1079.1 330.2v2M1073.7 344.0v2M1074.3 386.8v1.5M1080.2 342.5v1.5M1070.3 324.9v1M1083.0 367.7v1.5M1079.4 356.3v2M1073.4 343.8v1M1067.8 344.3v1.5M1069.1 314.5v1.5M1070.9 375.8v1.5M1081.4 386.0v1.5M1073.0 365.6v1M1083.7 393.0v1M1077.6 320.2v1M1078.9 351.1v1M1083.5 387.1v2M1070.4 337.2v1M1073.8 376.4v2M1073.1 383.1v2M1065.6 320.4v1.5M1071.3 371.5v2M1063.5 374.6v1M1064.0 351.7v1.5M1067.3 361.4v2M1067.2 325.7v1M1074.9 389.2v1M1075.9 379.3v1M1064.3 364.0v1M1083.3 363.5v1M1071.1 325.4v2M1073.9 319.4v1M1071.3 369.9v2M1067.2 360.5v1.5M1071.2 386.6v1.5M1081.2 349.7v1M1071.4 390.7v1M1064.5 386.8v1M1078.0 389.8v2M1072.6 390.8v1M1073.2 387.2v1.5M1076.7 325.3v1M1062.4 329.2v2M1063.0 369.4v1.5M1080.5 382.3v1M1080.1 368.3v2M1076.2 363.9v2M1083.5 345.8v1.5M1064.3 318.4v2M1072.9 365.6v1M1083.9 325.5v2M1076.4 314.3v1.5M1072.0 328.3v1M1081.2 352.3v1M1072.4 352.4v1M1078.8 351.3v1M1073.6 378.0v1.5M1082.9 341.1v1M1070.3 373.1v1.5M1080.5 378.9v1.5M1064.9 371.3v1.5M1073.1 377.6v1M1075.8 386.5v2M1070.7 351.5v1M1077.9 387.3v2M1080.6 387.9v1.5M1074.4 389.1v1.5M1067.7 318.8v2M1069.4 371.0v2M1073.5 339.4v1M1076.3 345.5v2M1078.6 341.6v2M1071.1 340.1v2M1076.2 362.9v2M1066.0 364.1v1.5M1084.6 383.6v1.5M1068.2 381.9v1.5M1080.4 393.7v1M1084.5 316.8v1.5M1080.7 387.8v1M1096.6 385.7v2M1088.9 337.3v1M1093.6 336.3v1.5M1094.1 383.7v2M1094.2 353.2v1M1092.2 324.0v2M1098.8 374.0v1M1086.7 348.8v1M1093.4 315.0v1.5M1095.3 336.4v1.5M1090.3 329.7v1M1093.9 374.6v1M1089.7 340.0v1M1096.7 339.3v1M1089.3 337.9v1M1092.9 316.9v2M1088.9 341.8v1.5M1090.0 356.3v1.5M1096.2 379.0v2M1093.2 377.1v2M1091.5 368.9v1M1096.3 385.3v1.5M1088.6 377.4v1M1092.2 365.3v2M1082.1 318.7v1M1091.6 332.3v1.5M1086.4 370.9v1.5M1098.9 392.1v1.5M1097.4 392.7v2M1091.6 337.3v2M1084.1 335.3v2M1099.1 341.2v1M1096.9 361.8v1.5M1097.7 355.6v2M1101.5 392.8v2M1090.6 330.4v2M1093.6 356.8v1M1085.1 325.7v2M1086.3 372.5v1.5M1095.8 374.8v1.5M1093.1 372.7v1.5M1093.2 357.9v1M1090.3 373.0v2M1089.9 391.0v2M1093.3 346.8v1.5M1087.6 315.6v1M1093.2 329.3v1.5M1090.0 390.0v2M1096.7 376.4v1M1095.6 343.6v1.5M1099.3 365.0v1.5M1090.5 323.9v2M1088.3 354.4v1M1093.8 370.2v1M1089.1 358.2v1.5M1086.8 341.3v1M1096.4 362.7v2M1089.0 319.9v1M1096.1 357.3v2M1085.9 347.6v2M1091.8 337.7v2M1093.5 316.9v2M1091.0 348.1v2M1094.0 354.0v2M1097.2 332.3v1.5M1094.7 351.4v2M1096.8 380.1v2M1092.0 357.6v2M1096.3 330.4v1.5M1087.7 389.4v1M1098.7 374.6v2M1091.4 350.9v1.5M1091.0 333.1v1.5M1084.4 320.9v2M1088.5 366.2v1.5M1092.0 335.8v2M1090.0 331.2v1.5M1099.5 361.6v2M1092.5 390.7v1M1092.8 340.7v2M1090.4 356.6v1.5M1089.6 344.6v1.5M1094.8 318.4v1.5M1095.8 331.4v1M1087.3 344.1v1M1089.2 378.7v1.5M1100.7 378.3v1.5M1100.7 345.5v1M1095.4 358.6v2M1091.1 363.8v1.5M1094.6 346.0v2M1092.7 355.1v1.5M1095.4 347.0v1M1102.0 393.7v2M1096.5 346.4v1M1091.1 348.2v1M1093.9 342.9v2M1099.4 370.6v1M1098.7 389.8v2M1082.3 319.0v1.5M1091.4 333.5v1.5M1090.7 346.2v2M1098.7 389.2v1M1095.5 363.5v1M1095.4 356.8v1.5M1089.1 326.6v2M1089.6 340.5v2M1090.9 355.1v2M1100.2 383.1v1M1087.1 323.1v2M1091.1 364.1v1M1093.0 369.1v1.5M1092.2 326.9v1M1094.5 355.3v1M1094.3 330.9v1.5M1094.1 354.0v1.5M1089.3 363.5v2M1095.5 378.5v2M1094.8 345.5v1M1084.5 353.9v1M1094.3 385.3v1.5M1096.7 343.5v1.5M1097.6 357.5v1M1100.6 337.6v1M1093.9 353.5v1M1089.2 373.2v1M1089.9 375.8v1M1092.6 335.5v1.5M1093.6 320.0v2M1094.3 390.2v2M1096.3 332.3v2M1091.4 334.4v1M1087.3 328.3v2M1082.0 348.8v2M1088.0 323.1v1M1088.5 362.5v2M1095.7 365.4v1M1109.3 342.6v1M1088.6 317.3v2M1093.1 364.9v2M1096.6 348.0v1M1092.0 392.1v1.5M1093.4 351.4v1M1098.8 352.2v1.5M1088.4 341.2v1M1097.0 370.0v1.5M1094.3 337.0v1.5M1097.5 380.8v2M1090.4 327.6v2M1089.9 343.3v2M1096.1 379.0v2M1101.3 370.3v1.5M1094.2 342.6v2M1091.2 324.3v2M1093.4 359.0v2M1091.0 336.1v1M1094.1 340.2v1.5M1096.7 392.0v2M1090.4 392.5v2M1095.8 338.4v1M1096.2 393.7v1.5M1094.7 358.8v2M1093.3 371.4v1.5M1094.1 370.6v1M1092.0 331.2v2M1094.7 340.3v1M1095.8 318.2v2M1094.9 318.3v1M1088.7 339.0v1M1092.2 346.2v1.5M1091.8 316.0v1M1095.6 386.5v1M1090.6 334.5v2M1091.4 389.6v1.5M1092.5 334.3v1M1089.8 356.6v2M1111.9 358.6v1.5M1111.8 381.3v1M1104.4 316.1v1M1103.5 386.8v1M1112.9 321.3v1M1111.9 378.9v2M1105.5 377.0v1.5M1105.7 376.2v2M1101.7 346.8v1.5M1103.3 362.8v2M1113.5 358.9v2M1114.2 389.1v1.5M1106.3 315.0v2M1113.4 351.7v2M1108.0 335.6v2M1106.4 390.9v2M1102.0 318.0v1M1107.6 360.5v2M1111.3 336.1v1.5M1102.1 330.4v2M1108.4 363.8v1.5M1109.5 392.5v1.5M1112.7 370.9v1M1107.2 327.4v1M1108.0 380.8v1M1110.1 381.6v1.5M1110.9 321.0v1.5M1103.8 349.0v2M1111.3 337.7v2M1107.5 363.6v2M1111.6 370.0v1M1109.5 391.9v1M1111.6 322.6v2M1110.7 376.3v1M1103.4 314.7v1M1113.9 340.9v2M1104.5 327.8v2M1109.4 369.2v2M1105.7 353.4v1.5M1108.4 347.7v1.5M1113.1 391.3v1M1110.9 388.3v1.5M1107.5 364.2v1M1105.9 367.6v1.5M1103.2 351.2v1.5M1102.8 334.2v2M1107.1 391.5v2M1112.0 374.3v1.5M1108.3 381.7v1M1101.7 387.8v1M1109.1 367.7v1.5M1105.0 386.8v1M1104.6 392.8v1M1109.3 377.3v2M1111.8 328.7v2M1101.4 351.2v1.5M1108.1 317.1v2M1114.2 391.4v1.5M1114.2 338.6v1M1105.9 325.3v1.5M1104.5 371.2v1M1104.1 348.6v1.5M1111.5 350.2v1.5M1102.1 346.4v1M1111.9 333.3v1M1105.7 318.9v1M1102.4 380.4v1.5M1113.1 351.2v2M1106.2 379.2v1.5M1110.9 333.5v1M1103.0 352.5v1.5M1112.0 382.7v1M1108.1 334.3v1M1103.8 320.1v1.5M1106.8 354.8v2M1111.2 353.2v1M1106.3 374.0v2M1104.4 317.9v1.5M1113.3 339.8v1M1111.6 343.4v2M1110.6 393.3v1.5M1104.5 376.6v1.5M1111.0 327.8v1.5M1106.2 384.7v1M1101.6 389.9v1.5M1109.6 368.8v2M1113.6 359.4v2M1102.9 357.4v1.5M1112.8 370.3v1M1113.9 351.2v1M1109.2 316.8v2M1108.6 366.0v1.5M1110.0 337.0v1M1113.3 381.7v2M1113.4 389.5v1.5M1111.9 332.8v2M1105.4 349.0v2M1105.4 361.4v1M1101.5 383.4v1M1112.9 335.2v2M1111.4 373.9v1M1101.0 359.1v2M1112.1 316.0v2M1106.7 321.1v2M1110.3 373.2v2M1112.3 388.9v2M1113.0 335.7v1M1103.8 344.1v1M1103.4 382.6v1.5M1113.4 357.1v2M1105.2 324.4v1M1105.4 370.3v1.5M1109.4 364.5v2M1100.8 384.8v1.5M1107.1 366.8v2M1108.0 336.3v2M1103.6 354.9v1.5M1103.9 364.6v1.5M1113.4 373.8v1.5M1114.2 344.5v1.5M1111.3 361.9v1.5M1101.9 380.2v1M1101.8 379.3v1.5M1105.3 334.4v1.5M1110.7 372.8v1M1111.0 391.2v1.5M1101.3 376.3v1.5M1108.6 322.4v2M1105.4 386.1v1.5M1111.1 328.4v1.5M1112.3 325.5v1M1112.7 334.8v1.5M1106.3 336.6v2M1101.9 343.1v1M1105.9 384.2v1.5M1107.7 387.2v1M1100.9 361.1v1.5M1104.5 340.6v2M1109.8 323.5v2M1112.9 355.2v2M1103.0 316.2v2M1113.8 365.6v1.5M1100.8 315.3v2M1101.4 351.6v1M1103.7 376.5v2M1103.8 348.8v1M1104.7 371.6v1.5M1102.2 381.5v1.5M1109.2 343.8v1.5M1112.0 364.0v1.5M1103.2 388.8v1.5M1102.6 314.6v1.5M1102.0 326.0v2M1109.3 339.4v2M1104.7 349.6v1M1112.3 336.3v1M1113.5 330.1v1M1108.4 357.1v1.5M1108.2 356.6v1M1106.6 367.9v1M1104.2 342.2v1.5M1102.9 387.3v1M1113.0 335.6v1.5M1107.4 341.9v1M1106.4 337.2v1M1105.9 334.2v2M1102.9 358.9v1.5M1107.7 337.3v2M1101.1 382.7v2M1111.5 378.0v1.5" stroke="#7ce87c" stroke-width="0.9" opacity="0.85"/><path d="M1025.1 328.8v2M1032.2 391.4v1.5M1026.9 360.9v1M1029.3 380.6v1M1034.8 331.1v1M1027.7 375.2v1M1029.4 351.2v1.5M1030.4 381.4v1.5M1039.6 382.8v2M1028.5 328.8v1M1028.5 367.4v2M1028.7 375.1v1M1030.2 344.1v1M1028.4 322.5v1.5M1028.5 329.4v2M1032.4 357.7v1M1027.4 321.9v2M1027.1 324.4v1M1028.9 326.2v1M1031.6 325.4v1M1025.8 340.8v2M1031.5 352.2v1.5M1028.8 341.2v2M1028.2 346.9v1.5M1028.5 355.9v2M1030.3 327.9v1M1026.3 337.2v1.5M1027.8 345.8v1M1030.7 376.0v2M1035.6 390.0v1M1029.0 319.8v1M1028.2 349.6v2M1028.9 362.9v1M1036.6 378.5v1.5M1030.9 359.4v1.5M1030.8 373.4v2M1029.5 375.5v1M1026.3 317.8v1.5M1024.9 317.9v1M1031.1 331.7v1.5M1032.6 330.5v2M1035.3 346.8v1.5M1029.1 390.2v2M1029.4 360.4v1M1033.6 367.6v1M1097.9 391.1v1.5M1080.1 323.7v1.5M1087.1 335.3v2M1100.1 350.2v1.5M1096.2 379.2v1M1101.6 386.7v2M1091.6 321.5v1M1091.8 348.2v1M1093.4 332.3v2M1098.3 370.0v1M1096.5 343.8v1M1092.9 369.9v2M1102.2 380.2v1M1093.2 346.0v2M1091.4 345.9v1.5M1095.8 354.6v1.5M1091.6 351.5v1M1094.6 372.6v1.5M1095.1 323.8v1M1091.5 353.8v1.5M1089.4 330.8v2M1095.5 340.9v1M1097.6 374.8v1.5M1094.9 356.8v2M1096.0 388.9v1.5M1098.0 355.2v1.5M1086.1 318.3v1.5M1086.1 333.5v2M1093.8 381.6v1M1095.7 346.3v2M1088.7 326.8v1.5M1098.5 356.5v2M1086.4 314.6v1.5M1096.5 385.5v1.5M1094.6 338.3v2M1098.8 344.2v2M1089.9 385.3v2M1096.2 315.1v1.5M1088.8 389.0v2M1090.4 332.7v1.5M1087.1 385.1v1.5M1094.5 348.6v2M1094.3 323.8v1M1093.0 319.9v1M1093.8 366.5v1.5" stroke="#d02010" stroke-width="0.9"/><path d="M1029.5 375.8v1.5M1031.5 356.4v1M1027.0 376.7v2M1033.0 348.0v1.5M1035.7 365.6v1.5M1035.2 393.0v1M1032.1 392.0v2M1031.6 316.6v2M1030.5 354.4v1M1036.3 385.6v2M1031.1 381.5v2M1030.9 386.4v2M1031.5 362.0v2M1035.9 338.7v1.5M1031.5 368.1v1M1031.4 323.6v2M1033.3 371.5v2M1031.9 381.4v2M1030.0 373.6v1.5M1098.6 368.8v1M1092.2 324.5v2M1096.0 332.0v1.5M1095.7 320.9v1M1096.0 359.4v2M1090.0 330.3v1M1091.0 324.8v1M1098.3 381.7v1.5M1100.1 328.7v1.5M1091.8 326.9v1M1094.0 340.8v1M1088.4 319.1v2M1089.5 314.4v2M1096.9 382.3v1.5M1092.4 386.9v1M1098.4 368.6v1M1089.9 368.8v1.5M1091.4 315.6v1M1090.2 348.6v1M1092.1 316.9v1M1093.8 350.8v1.5M1098.9 348.7v1M1094.0 324.5v1.5M1086.9 315.4v1M1093.7 381.6v2M1095.2 348.8v1M1090.4 321.5v1.5M1093.4 340.4v1M1098.4 392.7v1M1088.3 333.0v1.5M1089.5 384.5v1.5M1096.1 362.4v1.5M1095.5 349.8v2M1090.6 376.8v1M1095.9 380.8v1M1084.2 361.9v1M1091.1 358.2v1.5M1088.4 331.6v2M1093.6 370.2v1M1098.3 367.0v2M1091.7 335.2v1.5M1102.5 345.8v1.5M1094.5 335.4v2M1090.4 372.4v2" stroke="#2040d0" stroke-width="0.9"/><path d="M1035.1 365.4v1M1034.8 359.4v1.5M1029.8 329.3v2M1030.5 337.9v2M1033.3 345.7v1.5M1029.2 360.4v1.5M1034.1 337.2v1.5M1028.2 353.2v1.5M1026.4 328.1v2M1033.7 360.4v1.5M1026.7 351.3v1M1032.9 362.0v1M1034.0 392.1v1.5M1033.5 342.0v2M1032.1 341.7v1.5M1030.0 385.4v1.5M1027.3 338.1v1.5M1035.1 330.1v2M1031.5 353.8v1M1033.9 358.9v1.5M1029.0 358.1v2M1028.4 334.9v1M1026.9 348.9v1.5M1032.0 333.3v2M1089.7 382.0v2M1093.0 331.5v1.5M1098.1 382.6v1M1093.0 364.6v1.5M1094.6 354.0v1.5M1093.5 351.3v1.5M1089.9 343.1v2M1091.3 352.5v2M1094.1 365.8v2M1092.3 361.1v1.5M1089.3 330.3v1.5M1085.5 313.8v1M1091.1 381.4v1M1089.8 322.9v1.5M1091.5 329.8v1M1091.8 389.1v2M1088.7 367.2v1.5M1096.4 367.5v1M1090.9 340.4v1M1097.9 377.8v1M1090.8 358.8v1M1092.6 351.1v1M1094.6 345.8v2M1094.5 342.2v1.5M1086.4 387.3v1.5M1099.9 357.9v1M1091.5 348.5v1.5M1092.4 335.1v1.5M1099.9 329.6v1M1095.6 331.4v1M1095.7 351.6v1M1091.7 320.0v1.5M1090.8 377.8v1M1096.3 336.3v1M1097.7 357.7v1.5" stroke="#f0a020" stroke-width="0.9"/><path d="M1031.5 366.1v2M1031.3 329.8v2M1028.0 359.5v2M1031.0 343.1v1.5M1028.3 363.7v1M1034.3 341.2v2M1030.9 335.8v2M1032.2 387.6v1.5M1028.3 316.0v1M1031.4 344.9v2M1030.1 383.0v1M1029.6 390.7v1M1030.1 390.3v1.5M1031.9 321.6v2M1028.8 347.4v2M1034.1 328.1v1.5M1032.1 321.5v1M1030.2 334.2v1M1036.5 382.8v1M1032.3 372.6v1M1034.6 348.4v1.5M1032.1 369.9v1M1027.1 327.5v1.5M1036.2 342.9v2M1026.9 339.8v2M1029.2 313.9v1M1032.8 392.4v2M1025.7 364.3v1M1031.1 330.5v1M1031.8 377.9v1.5M1027.0 341.5v1M1036.6 357.4v1M1093.6 343.4v1M1094.4 382.2v2M1094.1 316.1v1.5M1097.9 350.9v1.5M1092.7 350.3v1M1086.8 349.1v1M1096.9 373.2v1.5M1086.6 319.5v1.5M1095.0 350.2v1.5M1095.8 391.7v1M1090.0 332.6v2M1091.3 346.9v1M1087.4 392.4v1.5M1094.9 352.2v2M1088.5 362.0v1.5M1089.3 383.3v1M1088.6 352.6v1M1092.0 328.9v1M1085.9 333.4v1.5M1097.3 348.5v1M1095.9 389.3v2M1098.7 363.9v1M1095.9 373.0v1M1098.0 351.9v1M1089.3 331.2v1.5M1091.4 336.8v2M1088.0 351.8v1.5M1095.6 314.1v1M1093.4 375.8v1.5M1099.4 378.1v1M1098.3 379.0v1.5M1084.8 316.5v2M1088.0 377.5v1.5" stroke="#30c0e0" stroke-width="0.9"/><path d="M1036.6 352.9v2M1032.0 357.9v2M1032.9 343.0v1.5M1035.2 326.4v2M1026.2 321.7v1M1028.1 368.0v1M1030.4 361.2v1M1032.7 336.7v1M1029.9 319.8v2M1027.9 333.3v1.5M1032.7 316.1v1.5M1027.4 379.9v1M1031.4 381.8v1M1034.0 368.7v1M1032.5 386.6v2M1034.5 345.8v1M1027.0 381.4v1.5M1028.7 365.4v1M1026.0 365.3v1.5M1028.4 334.5v1M1027.8 323.0v1M1039.1 350.6v1.5M1029.4 353.2v1.5M1035.1 380.7v2M1026.2 361.8v1M1031.7 321.6v2M1029.4 321.5v1M1029.4 334.1v1.5M1027.0 325.6v1M1031.6 389.7v1M1031.1 379.6v1.5M1034.5 387.7v1.5M1031.6 373.8v1M1035.4 383.4v2M1101.5 364.0v2M1090.2 332.9v2M1092.7 340.5v2M1098.1 371.1v1M1100.1 372.8v1.5M1099.6 315.7v2M1091.0 383.3v1M1089.0 362.8v1.5M1091.8 341.3v2M1092.6 337.1v1M1094.9 382.6v1M1090.3 359.8v1.5M1094.6 375.3v2M1092.2 348.9v2M1094.3 351.7v2M1096.2 351.3v2M1091.9 366.2v2M1090.7 385.2v1M1094.9 393.1v1.5M1081.8 370.2v1M1088.1 386.2v1.5M1090.0 336.9v1M1089.1 354.9v1M1092.5 325.6v2M1091.1 328.1v2M1093.2 351.7v2M1095.8 382.4v2M1084.0 327.0v1M1090.8 363.5v2M1096.9 357.0v1.5M1095.7 340.6v1M1097.2 353.9v2M1097.4 355.9v2M1092.8 327.7v1.5M1095.3 348.6v1M1095.1 339.7v1M1092.1 325.4v1M1094.5 319.9v1M1093.9 332.0v1.5M1094.5 366.5v1M1088.4 365.2v1.5M1095.0 382.9v1M1092.1 362.4v1.5M1092.6 322.3v2M1095.4 343.5v1.5M1092.2 383.7v1.5M1092.5 327.9v1" stroke="#702010" stroke-width="0.9"/></g>
<path d="M743.7 314.4V394.6M743.7 326.3h2.4M743.7 342h2.4M743.7 357.6h2.4M743.7 373.2h2.4M743.7 388.8h2.4" stroke="#e02020" stroke-width="0.9" fill="none"/><g font-size="12.4" fill="#e02626"><text x="746.8" y="330.7">Alt(km)</text><text x="746.8" y="346.4">150</text><text x="746.8" y="362">125</text><text x="746.8" y="377.6">100</text><text x="746.8" y="393">75</text></g><text x="803" y="327.5" font-size="12.4" fill="#111">(b)</text>
<rect x="740.4" y="314.4" width="374.0" height="80.2" fill="none" stroke="#444" stroke-width="0.8"/><path d="M740.4 314.4v-3.6M740.4 394.6v3.6M756.0 314.4v-1.8M756.0 394.6v1.8M771.6 314.4v-1.8M771.6 394.6v1.8M787.1 314.4v-1.8M787.1 394.6v1.8M802.7 314.4v-1.8M802.7 394.6v1.8M818.3 314.4v-1.8M818.3 394.6v1.8M833.9 314.4v-3.6M833.9 394.6v3.6M849.5 314.4v-1.8M849.5 394.6v1.8M865.1 314.4v-1.8M865.1 394.6v1.8M880.6 314.4v-1.8M880.6 394.6v1.8M896.2 314.4v-1.8M896.2 394.6v1.8M911.8 314.4v-1.8M911.8 394.6v1.8M927.4 314.4v-3.6M927.4 394.6v3.6M943.0 314.4v-1.8M943.0 394.6v1.8M958.6 314.4v-1.8M958.6 394.6v1.8M974.1 314.4v-1.8M974.1 394.6v1.8M989.7 314.4v-1.8M989.7 394.6v1.8M1005.3 314.4v-1.8M1005.3 394.6v1.8M1020.9 314.4v-3.6M1020.9 394.6v3.6M1036.5 314.4v-1.8M1036.5 394.6v1.8M1052.1 314.4v-1.8M1052.1 394.6v1.8M1067.6 314.4v-1.8M1067.6 394.6v1.8M1083.2 314.4v-1.8M1083.2 394.6v1.8M1098.8 314.4v-1.8M1098.8 394.6v1.8M1114.4 314.4v-3.6M1114.4 394.6v3.6M740.4 314.4h-3.6M1114.4 314.4h3.6M740.4 318.4h-1.8M1114.4 318.4h1.8M740.4 322.4h-1.8M1114.4 322.4h1.8M740.4 326.4h-1.8M1114.4 326.4h1.8M740.4 330.4h-1.8M1114.4 330.4h1.8M740.4 334.4h-3.6M1114.4 334.4h3.6M740.4 338.5h-1.8M1114.4 338.5h1.8M740.4 342.5h-1.8M1114.4 342.5h1.8M740.4 346.5h-1.8M1114.4 346.5h1.8M740.4 350.5h-1.8M1114.4 350.5h1.8M740.4 354.5h-3.6M1114.4 354.5h3.6M740.4 358.5h-1.8M1114.4 358.5h1.8M740.4 362.5h-1.8M1114.4 362.5h1.8M740.4 366.5h-1.8M1114.4 366.5h1.8M740.4 370.5h-1.8M1114.4 370.5h1.8M740.4 374.6h-3.6M1114.4 374.6h3.6M740.4 378.6h-1.8M1114.4 378.6h1.8M740.4 382.6h-1.8M1114.4 382.6h1.8M740.4 386.6h-1.8M1114.4 386.6h1.8M740.4 390.6h-1.8M1114.4 390.6h1.8M740.4 394.6h-3.6M1114.4 394.6h3.6" stroke="#444" stroke-width="0.7" fill="none"/>
<g font-size="12.4" fill="#222" text-anchor="end"><text x="732" y="319.0">300</text><text x="732" y="339.0">250</text><text x="732" y="359.1">200</text><text x="732" y="379.2">150</text></g><text transform="translate(704.5 354.5) rotate(-90)" font-size="13" fill="#222" text-anchor="middle">Range (km)</text>
<rect x="1129" y="343" width="10" height="51.0" fill="url(#f3jet)"/><g font-size="10.6" fill="#222"><text x="1142" y="347.3">100</text><text x="1142" y="359.8">50</text><text x="1142" y="372.5">0</text><text x="1142" y="385.1">-50</text><text x="1142" y="397.8">-100</text></g><g font-size="10.4" fill="#222" text-anchor="middle"><text x="1134.5" y="323.5">Vd</text><text x="1134" y="336.5">(m/s)</text></g>
<g clip-path="url(#f3cc)"><path d="M785.6 481.4v-0.5h3.1v0.5zM789.5 481.4v-0.8h3.1v0.8zM793.4 481.4v-0.5h3.1v0.5zM797.3 481.4v-0.5h3.1v0.5zM801.2 481.4v-1.1h3.1v1.1zM805.1 481.4v-3.2h3.1v3.2zM809.0 481.4v-1.6h3.1v1.6zM812.9 481.4v-7.0h3.1v7.0zM816.8 481.4v-7.3h3.1v7.3zM820.7 481.4v-4.3h3.1v4.3zM824.6 481.4v-4.3h3.1v4.3zM828.5 481.4v-9.4h3.1v9.4zM832.3 481.4v-22.1h3.1v22.1zM836.2 481.4v-22.1h3.1v22.1zM840.1 481.4v-28.0h3.1v28.0zM844.0 481.4v-15.4h3.1v15.4zM847.9 481.4v-38.8h3.1v38.8zM851.8 481.4v-25.6h3.1v25.6zM855.7 481.4v-16.7h3.1v16.7zM859.6 481.4v-36.1h3.1v36.1zM863.5 481.4v-18.9h3.1v18.9zM867.4 481.4v-6.2h3.1v6.2zM871.3 481.4v-9.7h3.1v9.7zM875.2 481.4v-24.8h3.1v24.8zM879.1 481.4v-19.9h3.1v19.9zM883.0 481.4v-17.2h3.1v17.2zM886.9 481.4v-24.2h3.1v24.2zM890.8 481.4v-28.3h3.1v28.3zM894.7 481.4v-17.5h3.1v17.5zM898.6 481.4v-12.9h3.1v12.9zM902.5 481.4v-5.9h3.1v5.9zM906.4 481.4v-11.9h3.1v11.9zM910.3 481.4v-18.6h3.1v18.6zM914.2 481.4v-28.8h3.1v28.8zM918.1 481.4v-15.6h3.1v15.6zM922.0 481.4v-14.0h3.1v14.0zM925.8 481.4v-12.4h3.1v12.4zM929.7 481.4v-10.8h3.1v10.8zM933.6 481.4v-11.0h3.1v11.0zM937.5 481.4v-4.6h3.1v4.6zM941.4 481.4v-4.3h3.1v4.3zM945.3 481.4v-3.5h3.1v3.5zM949.2 481.4v-4.8h3.1v4.8zM953.1 481.4v-1.6h3.1v1.6zM957.0 481.4v-3.8h3.1v3.8zM960.9 481.4v-1.6h3.1v1.6zM984.3 481.4v-3.8h3.1v3.8zM988.2 481.4v-2.7h3.1v2.7zM992.1 481.4v-1.6h3.1v1.6zM996.0 481.4v-2.7h3.1v2.7zM999.9 481.4v-1.6h3.1v1.6zM1003.8 481.4v-3.5h3.1v3.5zM1007.7 481.4v-6.7h3.1v6.7zM1011.6 481.4v-10.8h3.1v10.8zM1015.5 481.4v-13.5h3.1v13.5zM1019.3 481.4v-9.2h3.1v9.2zM1023.2 481.4v-5.9h3.1v5.9zM1027.1 481.4v-7.5h3.1v7.5zM1031.0 481.4v-9.4h3.1v9.4zM1034.9 481.4v-5.1h3.1v5.1zM1038.8 481.4v-4.8h3.1v4.8zM1042.7 481.4v-9.4h3.1v9.4zM1046.6 481.4v-21.5h3.1v21.5zM1050.5 481.4v-29.9h3.1v29.9zM1054.4 481.4v-15.1h3.1v15.1zM1058.3 481.4v-2.7h3.1v2.7zM1062.2 481.4v-1.6h3.1v1.6zM1066.1 481.4v-2.2h3.1v2.2zM1070.0 481.4v-6.5h3.1v6.5zM1073.9 481.4v-17.2h3.1v17.2zM1077.8 481.4v-4.8h3.1v4.8zM1081.7 481.4v-11.9h3.1v11.9zM1085.6 481.4v-33.9h3.1v33.9zM1089.5 481.4v-42.8h3.1v42.8zM1093.4 481.4v-20.5h3.1v20.5zM1097.3 481.4v-1.6h3.1v1.6zM1101.2 481.4v-2.4h3.1v2.4zM1105.1 481.4v-6.5h3.1v6.5zM1109.0 481.4v-14.5h3.1v14.5zM1112.8 481.4v-24.0h3.1v24.0z" fill="#ee1414" stroke="#f88" stroke-width="0.3"/><path d="M744.3 462.8L748.2 462.8L752.1 463.1M779.4 464.7L783.3 465.0L787.1 465.2L791.0 465.0L794.9 464.7L798.8 463.6L802.7 462.5L806.6 464.7L810.5 465.8L814.4 459.9L818.3 458.8L822.2 457.7L826.1 454.5L830.0 449.3L833.9 438.8L837.8 437.8L841.7 435.6L845.6 449.3L849.5 431.3L853.4 444.5L857.3 455.5L861.2 435.1L865.1 452.3L869.0 464.4L872.9 458.8L876.8 446.4L880.6 448.5L884.5 452.3L888.4 443.7L892.3 439.1L896.2 448.5L900.1 455.5L904.0 462.5L907.9 456.6L911.8 449.3L915.7 439.1L919.6 452.3L923.5 453.9L927.4 455.5L931.3 457.2L935.2 457.2L939.1 463.6L943.0 464.2L946.9 464.7L950.8 466.9L954.7 469.0L958.6 469.0L962.5 471.2M985.8 464.2L989.7 465.2L993.6 460.4L997.5 455.5L1001.4 455.0L1005.3 452.3L1009.2 449.1L1013.1 445.3L1017.0 443.2L1020.9 449.1L1024.8 452.3L1028.7 450.2L1032.6 446.9L1036.5 450.7L1040.4 451.8L1044.3 446.4L1048.2 433.5L1052.1 427.5L1056.0 446.4L1059.9 458.2L1063.8 456.6L1067.6 455.0L1071.5 445.3L1075.4 434.0L1079.3 457.2L1083.2 448.0L1087.1 421.1L1091.0 411.4L1094.9 431.3L1098.8 458.2L1102.7 457.2L1106.6 448.5L1110.5 434.0L1114.4 430.2" fill="none" stroke="#ee1414" stroke-width="0.8"/><path d="M744.3 462.8h0M748.2 462.8h0M752.1 463.1h0M779.4 464.7h0M783.3 465.0h0M787.1 465.2h0M791.0 465.0h0M794.9 464.7h0M798.8 463.6h0M802.7 462.5h0M806.6 464.7h0M810.5 465.8h0M814.4 459.9h0M818.3 458.8h0M822.2 457.7h0M826.1 454.5h0M830.0 449.3h0M833.9 438.8h0M837.8 437.8h0M841.7 435.6h0M845.6 449.3h0M849.5 431.3h0M853.4 444.5h0M857.3 455.5h0M861.2 435.1h0M865.1 452.3h0M869.0 464.4h0M872.9 458.8h0M876.8 446.4h0M880.6 448.5h0M884.5 452.3h0M888.4 443.7h0M892.3 439.1h0M896.2 448.5h0M900.1 455.5h0M904.0 462.5h0M907.9 456.6h0M911.8 449.3h0M915.7 439.1h0M919.6 452.3h0M923.5 453.9h0M927.4 455.5h0M931.3 457.2h0M935.2 457.2h0M939.1 463.6h0M943.0 464.2h0M946.9 464.7h0M950.8 466.9h0M954.7 469.0h0M958.6 469.0h0M962.5 471.2h0M985.8 464.2h0M989.7 465.2h0M993.6 460.4h0M997.5 455.5h0M1001.4 455.0h0M1005.3 452.3h0M1009.2 449.1h0M1013.1 445.3h0M1017.0 443.2h0M1020.9 449.1h0M1024.8 452.3h0M1028.7 450.2h0M1032.6 446.9h0M1036.5 450.7h0M1040.4 451.8h0M1044.3 446.4h0M1048.2 433.5h0M1052.1 427.5h0M1056.0 446.4h0M1059.9 458.2h0M1063.8 456.6h0M1067.6 455.0h0M1071.5 445.3h0M1075.4 434.0h0M1079.3 457.2h0M1083.2 448.0h0M1087.1 421.1h0M1091.0 411.4h0M1094.9 431.3h0M1098.8 458.2h0M1102.7 457.2h0M1106.6 448.5h0M1110.5 434.0h0M1114.4 430.2h0" stroke="#ee1414" stroke-width="3.0" stroke-linecap="round"/><path d="M783.3 465.2L787.1 465.8L791.0 465.8L794.9 465.2L798.8 464.2L802.7 463.6L806.6 467.9L810.5 467.4L814.4 466.9L818.3 466.0L822.2 462.0L826.1 458.8L830.0 458.8L833.9 460.9L837.8 459.9L841.7 463.6L845.6 464.7L849.5 470.1L853.4 470.1L857.3 472.2L861.2 471.2L865.1 471.2L869.0 470.6L872.9 468.5L876.8 471.2L880.6 468.5L884.5 469.5L888.4 467.9L892.3 467.4L896.2 466.0L900.1 468.5L904.0 468.5L907.9 468.5L911.8 467.9L915.7 467.9L919.6 467.9L923.5 467.9L927.4 467.9L931.3 467.9L935.2 468.2L939.1 468.2L943.0 468.5L946.9 468.2L950.8 471.7L954.7 470.6L958.6 472.8L962.5 472.8M985.8 467.9L989.7 467.9L993.6 462.0L997.5 458.2L1001.4 456.6L1005.3 455.8L1009.2 455.8L1013.1 456.1L1017.0 456.6L1020.9 458.2L1024.8 458.2L1028.7 457.7L1032.6 456.4L1036.5 455.8L1040.4 456.6L1044.3 455.8L1048.2 455.0L1052.1 457.4L1056.0 461.5L1059.9 460.9L1063.8 458.2L1067.6 457.2L1071.5 451.8L1075.4 451.2L1079.3 462.0L1083.2 459.9L1087.1 455.0L1091.0 454.2L1094.9 451.8L1098.8 459.9L1102.7 459.6L1106.6 455.0L1110.5 448.5L1114.4 454.2" fill="none" stroke="#000" stroke-width="0.8"/><path d="M783.3 465.2h0M787.1 465.8h0M791.0 465.8h0M794.9 465.2h0M798.8 464.2h0M802.7 463.6h0M806.6 467.9h0M810.5 467.4h0M814.4 466.9h0M818.3 466.0h0M822.2 462.0h0M826.1 458.8h0M830.0 458.8h0M833.9 460.9h0M837.8 459.9h0M841.7 463.6h0M845.6 464.7h0M849.5 470.1h0M853.4 470.1h0M857.3 472.2h0M861.2 471.2h0M865.1 471.2h0M869.0 470.6h0M872.9 468.5h0M876.8 471.2h0M880.6 468.5h0M884.5 469.5h0M888.4 467.9h0M892.3 467.4h0M896.2 466.0h0M900.1 468.5h0M904.0 468.5h0M907.9 468.5h0M911.8 467.9h0M915.7 467.9h0M919.6 467.9h0M923.5 467.9h0M927.4 467.9h0M931.3 467.9h0M935.2 468.2h0M939.1 468.2h0M943.0 468.5h0M946.9 468.2h0M950.8 471.7h0M954.7 470.6h0M958.6 472.8h0M962.5 472.8h0M985.8 467.9h0M989.7 467.9h0M993.6 462.0h0M997.5 458.2h0M1001.4 456.6h0M1005.3 455.8h0M1009.2 455.8h0M1013.1 456.1h0M1017.0 456.6h0M1020.9 458.2h0M1024.8 458.2h0M1028.7 457.7h0M1032.6 456.4h0M1036.5 455.8h0M1040.4 456.6h0M1044.3 455.8h0M1048.2 455.0h0M1052.1 457.4h0M1056.0 461.5h0M1059.9 460.9h0M1063.8 458.2h0M1067.6 457.2h0M1071.5 451.8h0M1075.4 451.2h0M1079.3 462.0h0M1083.2 459.9h0M1087.1 455.0h0M1091.0 454.2h0M1094.9 451.8h0M1098.8 459.9h0M1102.7 459.6h0M1106.6 455.0h0M1110.5 448.5h0M1114.4 454.2h0" stroke="#000" stroke-width="3.0" stroke-linecap="round"/></g>
<text x="803" y="414.6" font-size="12.4" fill="#111">(c)</text>
<rect x="740.4" y="400.6" width="374.0" height="80.8" fill="none" stroke="#444" stroke-width="0.8"/><path d="M740.4 400.6v-3.6M740.4 481.4v3.6M756.0 400.6v-1.8M756.0 481.4v1.8M771.6 400.6v-1.8M771.6 481.4v1.8M787.1 400.6v-1.8M787.1 481.4v1.8M802.7 400.6v-1.8M802.7 481.4v1.8M818.3 400.6v-1.8M818.3 481.4v1.8M833.9 400.6v-3.6M833.9 481.4v3.6M849.5 400.6v-1.8M849.5 481.4v1.8M865.1 400.6v-1.8M865.1 481.4v1.8M880.6 400.6v-1.8M880.6 481.4v1.8M896.2 400.6v-1.8M896.2 481.4v1.8M911.8 400.6v-1.8M911.8 481.4v1.8M927.4 400.6v-3.6M927.4 481.4v3.6M943.0 400.6v-1.8M943.0 481.4v1.8M958.6 400.6v-1.8M958.6 481.4v1.8M974.1 400.6v-1.8M974.1 481.4v1.8M989.7 400.6v-1.8M989.7 481.4v1.8M1005.3 400.6v-1.8M1005.3 481.4v1.8M1020.9 400.6v-3.6M1020.9 481.4v3.6M1036.5 400.6v-1.8M1036.5 481.4v1.8M1052.1 400.6v-1.8M1052.1 481.4v1.8M1067.6 400.6v-1.8M1067.6 481.4v1.8M1083.2 400.6v-1.8M1083.2 481.4v1.8M1098.8 400.6v-1.8M1098.8 481.4v1.8M1114.4 400.6v-3.6M1114.4 481.4v3.6M740.4 400.6h-3.6M1114.4 400.6h3.6M740.4 406.0h-1.8M1114.4 406.0h1.8M740.4 411.4h-1.8M1114.4 411.4h1.8M740.4 416.8h-3.6M1114.4 416.8h3.6M740.4 422.1h-1.8M1114.4 422.1h1.8M740.4 427.5h-1.8M1114.4 427.5h1.8M740.4 432.9h-3.6M1114.4 432.9h3.6M740.4 438.3h-1.8M1114.4 438.3h1.8M740.4 443.7h-1.8M1114.4 443.7h1.8M740.4 449.1h-3.6M1114.4 449.1h3.6M740.4 454.5h-1.8M1114.4 454.5h1.8M740.4 459.9h-1.8M1114.4 459.9h1.8M740.4 465.2h-3.6M1114.4 465.2h3.6M740.4 470.6h-1.8M1114.4 470.6h1.8M740.4 476.0h-1.8M1114.4 476.0h1.8M740.4 481.4h-3.6M1114.4 481.4h3.6" stroke="#444" stroke-width="0.7" fill="none"/>
<g font-size="12.4" fill="#222" text-anchor="end"><text x="732" y="405.2">15.0</text><text x="732" y="421.3">12.0</text><text x="732" y="437.4">9.0</text><text x="732" y="453.6">6.0</text><text x="732" y="469.7">3.0</text></g><text transform="translate(701.5 441.0) rotate(-90)" font-size="13" fill="#222" text-anchor="middle">Fre. (MHz)</text>
<g clip-path="url(#f3cd)"><path d="M744.3 500.6L748.2 500.6L752.1 492.7M779.4 519.8L783.3 521.4L787.1 520.5L791.0 520.1L794.9 524.2L798.8 516.1L802.7 504.2L806.6 504.5L810.5 512.2L814.4 520.1L818.3 526.6L822.2 524.2L826.1 527.3L830.0 526.6L833.9 526.6L837.8 526.5L841.7 526.6L845.6 517.9L849.5 520.8L853.4 524.2L857.3 524.7L861.2 524.7L865.1 522.4L869.0 526.3L872.9 526.6L876.8 526.3L880.6 529.4L884.5 530.4L888.4 531.0L892.3 534.0L896.2 534.6L900.1 532.3L904.0 534.0L907.9 535.3L911.8 537.7L915.7 536.6L919.6 538.3L923.5 540.9L927.4 542.6L931.3 543.9L935.2 544.2L939.1 547.9L943.0 548.6L946.9 546.5L950.8 552.5L954.7 552.2L958.6 552.8L962.5 552.5M985.8 496.2L989.7 494.6L993.6 500.9L997.5 507.9L1001.4 512.2L1005.3 510.9L1009.2 509.2L1013.1 513.1L1017.0 517.9L1020.9 515.4L1024.8 519.2L1028.7 517.0L1032.6 523.1L1036.5 520.8L1040.4 522.4L1044.3 525.7L1048.2 528.8L1052.1 529.1L1056.0 528.8L1059.9 519.5L1063.8 524.7L1067.6 525.8L1071.5 532.7L1075.4 534.0L1079.3 532.7L1083.2 531.0L1087.1 537.2L1091.0 537.4L1094.9 536.6L1098.8 529.7L1102.7 532.0L1106.6 535.9L1110.5 536.9L1114.4 537.2" fill="none" stroke="#ee1414" stroke-width="0.8"/><path d="M744.3 500.6h0M748.2 500.6h0M752.1 492.7h0M779.4 519.8h0M783.3 521.4h0M787.1 520.5h0M791.0 520.1h0M794.9 524.2h0M798.8 516.1h0M802.7 504.2h0M806.6 504.5h0M810.5 512.2h0M814.4 520.1h0M818.3 526.6h0M822.2 524.2h0M826.1 527.3h0M830.0 526.6h0M833.9 526.6h0M837.8 526.5h0M841.7 526.6h0M845.6 517.9h0M849.5 520.8h0M853.4 524.2h0M857.3 524.7h0M861.2 524.7h0M865.1 522.4h0M869.0 526.3h0M872.9 526.6h0M876.8 526.3h0M880.6 529.4h0M884.5 530.4h0M888.4 531.0h0M892.3 534.0h0M896.2 534.6h0M900.1 532.3h0M904.0 534.0h0M907.9 535.3h0M911.8 537.7h0M915.7 536.6h0M919.6 538.3h0M923.5 540.9h0M927.4 542.6h0M931.3 543.9h0M935.2 544.2h0M939.1 547.9h0M943.0 548.6h0M946.9 546.5h0M950.8 552.5h0M954.7 552.2h0M958.6 552.8h0M962.5 552.5h0M985.8 496.2h0M989.7 494.6h0M993.6 500.9h0M997.5 507.9h0M1001.4 512.2h0M1005.3 510.9h0M1009.2 509.2h0M1013.1 513.1h0M1017.0 517.9h0M1020.9 515.4h0M1024.8 519.2h0M1028.7 517.0h0M1032.6 523.1h0M1036.5 520.8h0M1040.4 522.4h0M1044.3 525.7h0M1048.2 528.8h0M1052.1 529.1h0M1056.0 528.8h0M1059.9 519.5h0M1063.8 524.7h0M1067.6 525.8h0M1071.5 532.7h0M1075.4 534.0h0M1079.3 532.7h0M1083.2 531.0h0M1087.1 537.2h0M1091.0 537.4h0M1094.9 536.6h0M1098.8 529.7h0M1102.7 532.0h0M1106.6 535.9h0M1110.5 536.9h0M1114.4 537.2h0" stroke="#ee1414" stroke-width="2.8" stroke-linecap="round"/></g><path d="M841.5 505.5L941 534.5" stroke="#111" stroke-width="0.7"/><path d="M951 537.5L941.5 531.6L943.2 535.2L940 537.6Z" fill="#111"/><text transform="translate(851.5 503) rotate(16.2)" font-size="10.4" fill="#111">descending tendency</text><text x="803" y="500.6" font-size="12.4" fill="#111">(d)</text>
<rect x="740.4" y="486.8" width="374.0" height="81.3" fill="none" stroke="#444" stroke-width="0.8"/><path d="M740.4 486.8v-3.6M740.4 568.1v3.6M756.0 486.8v-1.8M756.0 568.1v1.8M771.6 486.8v-1.8M771.6 568.1v1.8M787.1 486.8v-1.8M787.1 568.1v1.8M802.7 486.8v-1.8M802.7 568.1v1.8M818.3 486.8v-1.8M818.3 568.1v1.8M833.9 486.8v-3.6M833.9 568.1v3.6M849.5 486.8v-1.8M849.5 568.1v1.8M865.1 486.8v-1.8M865.1 568.1v1.8M880.6 486.8v-1.8M880.6 568.1v1.8M896.2 486.8v-1.8M896.2 568.1v1.8M911.8 486.8v-1.8M911.8 568.1v1.8M927.4 486.8v-3.6M927.4 568.1v3.6M943.0 486.8v-1.8M943.0 568.1v1.8M958.6 486.8v-1.8M958.6 568.1v1.8M974.1 486.8v-1.8M974.1 568.1v1.8M989.7 486.8v-1.8M989.7 568.1v1.8M1005.3 486.8v-1.8M1005.3 568.1v1.8M1020.9 486.8v-3.6M1020.9 568.1v3.6M1036.5 486.8v-1.8M1036.5 568.1v1.8M1052.1 486.8v-1.8M1052.1 568.1v1.8M1067.6 486.8v-1.8M1067.6 568.1v1.8M1083.2 486.8v-1.8M1083.2 568.1v1.8M1098.8 486.8v-1.8M1098.8 568.1v1.8M1114.4 486.8v-3.6M1114.4 568.1v3.6M740.4 486.8h-3.6M1114.4 486.8h3.6M740.4 490.1h-1.8M1114.4 490.1h1.8M740.4 493.3h-1.8M1114.4 493.3h1.8M740.4 496.6h-1.8M1114.4 496.6h1.8M740.4 499.8h-1.8M1114.4 499.8h1.8M740.4 503.1h-3.6M1114.4 503.1h3.6M740.4 506.3h-1.8M1114.4 506.3h1.8M740.4 509.6h-1.8M1114.4 509.6h1.8M740.4 512.8h-1.8M1114.4 512.8h1.8M740.4 516.1h-1.8M1114.4 516.1h1.8M740.4 519.3h-3.6M1114.4 519.3h3.6M740.4 522.6h-1.8M1114.4 522.6h1.8M740.4 525.8h-1.8M1114.4 525.8h1.8M740.4 529.1h-1.8M1114.4 529.1h1.8M740.4 532.3h-1.8M1114.4 532.3h1.8M740.4 535.6h-3.6M1114.4 535.6h3.6M740.4 538.8h-1.8M1114.4 538.8h1.8M740.4 542.1h-1.8M1114.4 542.1h1.8M740.4 545.3h-1.8M1114.4 545.3h1.8M740.4 548.6h-1.8M1114.4 548.6h1.8M740.4 551.8h-3.6M1114.4 551.8h3.6M740.4 555.1h-1.8M1114.4 555.1h1.8M740.4 558.3h-1.8M1114.4 558.3h1.8M740.4 561.6h-1.8M1114.4 561.6h1.8M740.4 564.8h-1.8M1114.4 564.8h1.8M740.4 568.1h-3.6M1114.4 568.1h3.6" stroke="#444" stroke-width="0.7" fill="none"/>
<g font-size="12.4" fill="#222" text-anchor="end"><text x="732" y="491.4">130</text><text x="732" y="507.6">120</text><text x="732" y="523.8">110</text><text x="732" y="540.0">100</text><text x="732" y="556.2">90</text></g><text transform="translate(704.5 527.5) rotate(-90)" font-size="13" fill="#222" text-anchor="middle">hbEs (km)</text>
<defs><clipPath id="f3e"><path d="M14 80 L95 70 L110 74 L165 92 L420 92 L455 62 L520 68 L610 70 L680 45 L745 38 L745 18 L840 18 L840 22 L890 40 L890 60 L985 60 L985 75 L1085 75 L1100 90 L1140 95 L1182 80 L1182 185 L1085 205 L1080 220 L1000 225 L960 228 L940 215 L880 240 L800 240 L740 242 L700 235 L600 215 L560 230 L480 215 L455 200 L400 210 L340 228 L300 222 L240 205 L200 225 L130 225 L60 240 L14 225 Z"/></clipPath></defs><g transform="translate(736 572) scale(0.32)"><g clip-path="url(#f3e)" stroke="#111" stroke-width="2.2" stroke-linejoin="round"><rect x="0" y="0" width="1200" height="266" fill="#90ff70" stroke="none"/><path d="M0 128 L60 118 L110 88 L430 88 L480 120 L545 150 L600 133 L680 138 L697 160 L680 182 L560 187 L470 192 L380 187 L290 187 L270 207 L215 214 L190 192 L130 178 L60 172 L0 160 Z" fill="#ffb000"/><path d="M160 88 L390 88 L405 105 L470 133 L545 158 L525 174 L450 172 L380 162 L300 142 L220 117 Z" fill="#e00000"/><path d="M200 96 L300 94 L345 110 L400 130 L462 150 L472 161 L430 166 L360 151 L290 129 L230 108 Z" fill="#800000"/><path d="M0 80 L60 76 L100 80 L112 100 L60 110 L0 114 Z" fill="#00b4ff"/><path d="M0 180 L60 190 L120 185 L170 208 L205 230 L130 232 L60 245 L0 232 Z" fill="#00b4ff"/><path d="M0 204 L60 204 L110 204 L152 222 L130 232 L60 245 L0 232 Z" fill="#0028ff"/><path d="M0 216 L50 216 L95 222 L70 245 L0 240 Z" fill="#00008f"/><path d="M440 100 L470 84 L540 78 L600 86 L640 92 L610 108 L560 124 L500 124 L455 114 Z" fill="#00b4ff"/><path d="M484 100 L510 90 L550 96 L566 108 L545 120 L505 118 Z" fill="#0028ff"/><path d="M470 206 L510 198 L570 202 L612 214 L600 222 L560 234 L480 220 Z" fill="#00b4ff"/><path d="M495 208 L540 204 L585 214 L560 226 L510 218 Z" fill="#0028ff"/><path d="M655 214 L690 204 L730 212 L740 224 L700 228 Z" fill="#00b4ff"/><path d="M676 214 L700 209 L716 216 L700 222 Z" fill="#0028ff"/><path d="M345 218 L372 214 L380 232 L340 234 Z" fill="#00b4ff"/><path d="M690 52 L745 34 L745 10 L845 10 L893 38 L893 58 L988 58 L988 72 L1088 72 L1112 95 L1060 116 L1000 131 L930 151 L860 161 L790 151 L730 126 L700 101 L722 76 Z" fill="#ffb000"/><path d="M745 10 L842 10 L888 42 L830 52 L760 46 L725 40 Z" fill="#e00000"/><path d="M728 96 L790 68 L880 62 L986 62 L1084 78 L1060 100 L990 121 L920 139 L850 146 L790 136 L745 116 Z" fill="#e00000"/><path d="M770 100 L812 80 L900 78 L980 88 L1042 100 L1030 109 L960 116 L900 129 L840 123 L795 113 Z" fill="#800000"/><path d="M840 112 L870 100 L905 104 L940 92 L946 104 L905 108 L872 120 L846 122 Z" fill="none" stroke-width="1.8"/><path d="M1160 86 L1200 76 L1200 108 L1165 102 Z" fill="#ffb000"/><path d="M935 218 L960 190 L1000 170 L1060 160 L1130 130 L1200 118 L1200 240 L940 240 Z" fill="#00b4ff"/><path d="M975 222 L1000 186 L1060 173 L1120 166 L1200 148 L1200 240 L975 240 Z" fill="#0028ff"/><path d="M720 236 L745 228 L772 236 L745 244 Z" fill="#ffb000"/><path d="M735 236 L746 232 L758 236 L746 241 Z" fill="#e00000"/><path d="M782 212 L800 196 L815 212 Z" fill="#ffb000"/><path d="M838 196 L856 190 L862 198 L842 200 Z" fill="#00b4ff"/><path d="M395 196 L404 196 L404 214 L395 214 Z" fill="#00b4ff"/></g></g>
<text x="803" y="588.3" font-size="12.4" fill="#111">(e)</text><text x="830.5" y="588.3" font-size="12.4" fill="#111">Zonal wind</text>
<rect x="740.4" y="573.4" width="374.0" height="80.9" fill="none" stroke="#444" stroke-width="0.8"/><path d="M740.4 573.4v-3.6M740.4 654.3v3.6M756.0 573.4v-1.8M756.0 654.3v1.8M771.6 573.4v-1.8M771.6 654.3v1.8M787.1 573.4v-1.8M787.1 654.3v1.8M802.7 573.4v-1.8M802.7 654.3v1.8M818.3 573.4v-1.8M818.3 654.3v1.8M833.9 573.4v-3.6M833.9 654.3v3.6M849.5 573.4v-1.8M849.5 654.3v1.8M865.1 573.4v-1.8M865.1 654.3v1.8M880.6 573.4v-1.8M880.6 654.3v1.8M896.2 573.4v-1.8M896.2 654.3v1.8M911.8 573.4v-1.8M911.8 654.3v1.8M927.4 573.4v-3.6M927.4 654.3v3.6M943.0 573.4v-1.8M943.0 654.3v1.8M958.6 573.4v-1.8M958.6 654.3v1.8M974.1 573.4v-1.8M974.1 654.3v1.8M989.7 573.4v-1.8M989.7 654.3v1.8M1005.3 573.4v-1.8M1005.3 654.3v1.8M1020.9 573.4v-3.6M1020.9 654.3v3.6M1036.5 573.4v-1.8M1036.5 654.3v1.8M1052.1 573.4v-1.8M1052.1 654.3v1.8M1067.6 573.4v-1.8M1067.6 654.3v1.8M1083.2 573.4v-1.8M1083.2 654.3v1.8M1098.8 573.4v-1.8M1098.8 654.3v1.8M1114.4 573.4v-3.6M1114.4 654.3v3.6M740.4 573.4h-3.6M1114.4 573.4h3.6M740.4 577.4h-1.8M1114.4 577.4h1.8M740.4 581.5h-1.8M1114.4 581.5h1.8M740.4 585.5h-1.8M1114.4 585.5h1.8M740.4 589.6h-1.8M1114.4 589.6h1.8M740.4 593.6h-3.6M1114.4 593.6h3.6M740.4 597.7h-1.8M1114.4 597.7h1.8M740.4 601.7h-1.8M1114.4 601.7h1.8M740.4 605.8h-1.8M1114.4 605.8h1.8M740.4 609.8h-1.8M1114.4 609.8h1.8M740.4 613.8h-3.6M1114.4 613.8h3.6M740.4 617.9h-1.8M1114.4 617.9h1.8M740.4 621.9h-1.8M1114.4 621.9h1.8M740.4 626.0h-1.8M1114.4 626.0h1.8M740.4 630.0h-1.8M1114.4 630.0h1.8M740.4 634.1h-3.6M1114.4 634.1h3.6M740.4 638.1h-1.8M1114.4 638.1h1.8M740.4 642.2h-1.8M1114.4 642.2h1.8M740.4 646.2h-1.8M1114.4 646.2h1.8M740.4 650.3h-1.8M1114.4 650.3h1.8M740.4 654.3h-3.6M1114.4 654.3h3.6" stroke="#444" stroke-width="0.7" fill="none"/>
<g font-size="12.4" fill="#222" text-anchor="end"><text x="732" y="578.0">110</text><text x="732" y="598.2">100</text><text x="732" y="618.4">90</text><text x="732" y="638.6">80</text></g><text transform="translate(704.5 614.0) rotate(-90)" font-size="13" fill="#222" text-anchor="middle">Height (km)</text>
<rect x="1129" y="602.7" width="10" height="51.6" fill="url(#f3jet)"/><g font-size="10.6" fill="#222"><text x="1142" y="607.1">50</text><text x="1142" y="632.8">0</text><text x="1142" y="658.8">-50</text></g><g font-size="10.4" fill="#222" text-anchor="middle"><text x="1134.5" y="584.1">U</text><text x="1134" y="597.1">(m/s)</text></g>
<defs><clipPath id="f3f"><path d="M14 82 L100 68 L110 80 L165 95 L300 95 L455 58 L520 68 L600 70 L680 45 L745 38 L745 18 L840 18 L890 40 L890 62 L985 62 L985 75 L1085 75 L1100 92 L1140 95 L1182 82 L1182 190 L1085 208 L1080 222 L1000 228 L960 230 L940 218 L880 243 L800 243 L740 245 L700 238 L600 220 L560 232 L480 220 L455 210 L400 215 L350 232 L300 225 L240 212 L200 228 L130 228 L60 240 L14 225 Z"/></clipPath></defs><g transform="translate(736 658) scale(0.32)"><g clip-path="url(#f3f)" stroke="#111" stroke-width="2.2" stroke-linejoin="round"><rect x="0" y="0" width="1200" height="266" fill="#00b4ff" stroke="none"/><path d="M0 96 L190 92 L262 96 L300 110 L240 122 L200 136 L232 160 L290 150 L372 154 L412 176 L392 192 L310 187 L270 176 L220 186 L200 206 L172 216 L120 226 L60 214 L0 220 Z" fill="#90ff70"/><path d="M0 108 L40 112 L55 130 L30 150 L0 165 Z" fill="#00b4ff"/><path d="M40 196 L75 186 L95 200 L70 214 L45 210 Z" fill="#00b4ff"/><path d="M145 200 L180 192 L196 204 L160 212 Z" fill="#00b4ff"/><path d="M0 78 L100 60 L112 80 L165 92 L192 94 L150 108 L60 100 L0 94 Z" fill="#ffb000"/><path d="M40 82 L100 66 L108 86 L70 92 Z" fill="#e00000"/><path d="M120 88 L165 93 L150 100 L128 96 Z" fill="#e00000"/><path d="M100 176 L130 165 L192 178 L150 191 L105 196 Z" fill="#ffb000"/><path d="M300 100 L340 84 L455 52 L520 64 L562 74 L600 100 L640 130 L700 150 L780 160 L860 150 L920 120 L960 90 L1000 95 L1080 110 L1132 130 L1100 170 L1050 190 L960 185 L880 180 L800 186 L700 186 L640 190 L622 216 L560 240 L520 216 L470 196 L450 170 L400 146 L340 126 Z" fill="#0028ff"/><path d="M340 100 L400 85 L455 56 L520 68 L530 90 L560 120 L600 150 L622 180 L600 196 L560 190 L500 170 L470 160 L440 140 L380 125 Z" fill="#00008f"/><path d="M420 96 L470 80 L505 88 L540 118 L520 126 L470 110 Z M455 128 L500 120 L548 134 L540 146 L490 142 Z" fill="none" stroke-width="1.8"/><path d="M925 158 L950 146 L1000 146 L1022 156 L1000 170 L950 172 Z" fill="#00008f"/><path d="M575 82 L680 42 L745 34 L762 60 L800 70 L832 100 L872 120 L850 146 L780 151 L700 141 L640 121 L600 100 Z" fill="#90ff70"/><path d="M655 98 L700 85 L760 95 L806 120 L790 136 L720 139 L680 126 Z" fill="#ffb000"/><path d="M745 10 L845 10 L832 34 L790 46 L760 38 Z" fill="#0028ff"/><path d="M832 42 L845 40 L850 46 L838 48 Z" fill="#90ff70"/><path d="M880 58 L988 58 L988 72 L1088 72 L1100 90 L1140 93 L1200 78 L1200 122 L1100 100 L1000 80 L900 76 Z" fill="#90ff70"/><path d="M1128 182 L1200 162 L1200 196 L1140 196 Z" fill="#90ff70"/><path d="M728 238 L760 224 L782 250 L738 250 Z" fill="#90ff70"/><path d="M940 218 L990 210 L1002 232 L960 234 Z" fill="#90ff70"/><path d="M1048 216 L1088 206 L1082 226 Z" fill="#90ff70"/><path d="M340 222 L372 216 L376 236 L345 236 Z" fill="#0028ff"/><path d="M540 228 L575 222 L590 240 L548 240 Z" fill="#0028ff"/><path d="M1170 92 L1200 84 L1200 100 L1178 100 Z" fill="#00b4ff"/></g></g>
<text x="803" y="675" font-size="12.4" fill="#111">(f)</text><text x="830.5" y="675" font-size="12.4" fill="#111">Meridional wind</text>
<rect x="740.4" y="660.1" width="374.0" height="80.2" fill="none" stroke="#444" stroke-width="0.8"/><path d="M740.4 660.1v-3.6M740.4 740.3v3.6M756.0 660.1v-1.8M756.0 740.3v1.8M771.6 660.1v-1.8M771.6 740.3v1.8M787.1 660.1v-1.8M787.1 740.3v1.8M802.7 660.1v-1.8M802.7 740.3v1.8M818.3 660.1v-1.8M818.3 740.3v1.8M833.9 660.1v-3.6M833.9 740.3v3.6M849.5 660.1v-1.8M849.5 740.3v1.8M865.1 660.1v-1.8M865.1 740.3v1.8M880.6 660.1v-1.8M880.6 740.3v1.8M896.2 660.1v-1.8M896.2 740.3v1.8M911.8 660.1v-1.8M911.8 740.3v1.8M927.4 660.1v-3.6M927.4 740.3v3.6M943.0 660.1v-1.8M943.0 740.3v1.8M958.6 660.1v-1.8M958.6 740.3v1.8M974.1 660.1v-1.8M974.1 740.3v1.8M989.7 660.1v-1.8M989.7 740.3v1.8M1005.3 660.1v-1.8M1005.3 740.3v1.8M1020.9 660.1v-3.6M1020.9 740.3v3.6M1036.5 660.1v-1.8M1036.5 740.3v1.8M1052.1 660.1v-1.8M1052.1 740.3v1.8M1067.6 660.1v-1.8M1067.6 740.3v1.8M1083.2 660.1v-1.8M1083.2 740.3v1.8M1098.8 660.1v-1.8M1098.8 740.3v1.8M1114.4 660.1v-3.6M1114.4 740.3v3.6M740.4 660.1h-3.6M1114.4 660.1h3.6M740.4 664.1h-1.8M1114.4 664.1h1.8M740.4 668.1h-1.8M1114.4 668.1h1.8M740.4 672.1h-1.8M1114.4 672.1h1.8M740.4 676.1h-1.8M1114.4 676.1h1.8M740.4 680.1h-3.6M1114.4 680.1h3.6M740.4 684.2h-1.8M1114.4 684.2h1.8M740.4 688.2h-1.8M1114.4 688.2h1.8M740.4 692.2h-1.8M1114.4 692.2h1.8M740.4 696.2h-1.8M1114.4 696.2h1.8M740.4 700.2h-3.6M1114.4 700.2h3.6M740.4 704.2h-1.8M1114.4 704.2h1.8M740.4 708.2h-1.8M1114.4 708.2h1.8M740.4 712.2h-1.8M1114.4 712.2h1.8M740.4 716.2h-1.8M1114.4 716.2h1.8M740.4 720.2h-3.6M1114.4 720.2h3.6M740.4 724.3h-1.8M1114.4 724.3h1.8M740.4 728.3h-1.8M1114.4 728.3h1.8M740.4 732.3h-1.8M1114.4 732.3h1.8M740.4 736.3h-1.8M1114.4 736.3h1.8M740.4 740.3h-3.6M1114.4 740.3h3.6" stroke="#444" stroke-width="0.7" fill="none"/>
<g font-size="12.4" fill="#222" text-anchor="end"><text x="732" y="664.7">110</text><text x="732" y="684.7">100</text><text x="732" y="704.8">90</text><text x="732" y="724.8">80</text><text x="732" y="744.9">70</text></g><text transform="translate(704.5 700.5) rotate(-90)" font-size="13" fill="#222" text-anchor="middle">Height (km)</text>
<rect x="1129" y="689.4" width="10" height="50.9" fill="url(#f3jet)"/><g font-size="10.6" fill="#222"><text x="1142" y="693.8">50</text><text x="1142" y="719.3">0</text><text x="1142" y="744.8">-50</text></g><g font-size="10.4" fill="#222" text-anchor="middle"><text x="1134.5" y="670.3">V</text><text x="1134" y="683.1">(m/s)</text></g>
<g font-size="12.4" fill="#222" text-anchor="middle"><text x="740.4" y="761.8">06:00</text><text x="833.9" y="761.8">12:00</text><text x="927.4" y="761.8">18:00</text><text x="1020.9" y="761.8">24:00</text><text x="1114.4" y="761.8">06:00</text></g><text x="927.5" y="777.8" font-size="13.4" fill="#222" text-anchor="middle">UT (hour)</text>
</svg>
<svg style="left:0;top:0" width="1200" height="1600" viewBox="0 0 1200 1600">
<defs><linearGradient id="f4par" x1="0" y1="0" x2="0" y2="1"><stop offset="0.000" stop-color="#f8ee1e"/><stop offset="0.071" stop-color="#f7d62b"/><stop offset="0.143" stop-color="#f5be37"/><stop offset="0.214" stop-color="#d0be49"/><stop offset="0.286" stop-color="#aabe5a"/><stop offset="0.357" stop-color="#79bc78"/><stop offset="0.429" stop-color="#48ba96"/><stop offset="0.500" stop-color="#30afaf"/><stop offset="0.571" stop-color="#18a4c8"/><stop offset="0.643" stop-color="#1c8ed2"/><stop offset="0.714" stop-color="#2078dc"/><stop offset="0.786" stop-color="#2760d2"/><stop offset="0.857" stop-color="#2e48c8"/><stop offset="0.929" stop-color="#2c3ab3"/><stop offset="1.000" stop-color="#2a2c9e"/></linearGradient></defs>
<g transform="translate(716.4 920.6) scale(3.5391 3.9542)"><path d="M5.5 10v2M7.5 11v1M9.5 13v1M9.5 16v1M10.5 20v3M16.5 14v3M19.5 13v2M28.5 7v3M28.5 15v1M31.5 11v1M33.5 8v1M38.5 9v3M38.5 17v1M39.5 13v2M43.5 12v1M45.5 20v2M47.5 20v2M48.5 12v1M49.5 11v2M50.5 16v1M53.5 12v10M53.5 23v1M54.5 10v7M54.5 19v3M54.5 23v1M55.5 9v2M56.5 2v1M56.5 10v7M57.5 10v3M57.5 14v4M58.5 2v1M58.5 6v9M58.5 16v2M59.5 8v4M59.5 16v4M60.5 5v4M60.5 11v9M61.5 8v7M61.5 18v4M61.5 23v1M62.5 2v1M62.5 9v6M62.5 17v3M63.5 8v3M63.5 14v7M64.5 7v7M64.5 16v4M65.5 8v9M65.5 20v2M66.5 10v8M67.5 3v1M67.5 6v8M67.5 16v4M68.5 8v5M68.5 15v6M68.5 23v1M69.5 3v1M69.5 9v9M70.5 6v4M70.5 12v8M71.5 2v1M71.5 7v7M72.5 1v1M72.5 8v5M72.5 17v2M73.5 4v4M73.5 12v9M74.5 16v3M75.5 11v3M75.5 17v5M76.5 2v1M76.5 11v5M76.5 17v3M77.5 6v9M77.5 16v2M78.5 5v10M78.5 17v4M81.5 4v10M81.5 16v3M82.5 9v3M83.5 6v8M83.5 15v3M84.5 11v3M84.5 16v4M85.5 9v2M86.5 11v9M87.5 1v1M87.5 11v3M87.5 18v2M88.5 10v9M89.5 11v4M89.5 18v4M91.5 11v10M92.5 1v1M92.5 8v3M92.5 13v5M94.5 5v5M94.5 12v6M95.5 4v8M95.5 13v7M95.5 23v1M96.5 5v4M97.5 7v5M97.5 15v3M99.5 3v7M99.5 13v4M99.5 18v1M99.5 23v1M100.5 2v1M100.5 5v10M100.5 17v2M101.5 10v9M102.5 6v8M102.5 16v3M103.5 6v9M103.5 17v3M104.5 11v4M104.5 18v4M106.5 9v4M106.5 15v5M106.5 23v1M107.5 11v9M108.5 9v6M108.5 17v5M109.5 11v8M109.5 20v2M110.5 8v6M110.5 18v1M111.5 14v3M112.5 7v6M112.5 16v5M113.5 10v7M114.5 6v4" stroke="#000" stroke-width="1.0" fill="none" shape-rendering="crispEdges"/></g>
<path d="M716.4 923.5Q966.4 931.6 1046.4 934.2T1123.4 935.4" fill="none" stroke="#f01818" stroke-width="1.1"/><path d="M716.4 1009.1L1123.4 999.4" fill="none" stroke="#f01818" stroke-width="1.1" stroke-dasharray="4 3"/><rect x="716.4" y="920.6" width="407.0" height="94.9" fill="none" stroke="#555" stroke-width="0.8"/><path d="M716.4 920.6v-3M716.4 1015.5v3M808.4 920.6v-3M808.4 1015.5v3M914.6 920.6v-3M914.6 1015.5v3M1024.3 920.6v-3M1024.3 1015.5v3M1123.4 920.6v-3M1123.4 1015.5v3M716.4 920.6h-3M1123.4 920.6h3M716.4 944.3h-3M1123.4 944.3h3M716.4 968.0h-3M1123.4 968.0h3M716.4 991.8h-3M1123.4 991.8h3M716.4 1015.5h-3M1123.4 1015.5h3" stroke="#555" stroke-width="0.7" fill="none"/><g font-size="9.8" fill="#333" text-anchor="end"><text x="707.5" y="924.1">06:00</text><text x="707.5" y="947.8">03:00</text><text x="707.5" y="971.5">24:00</text><text x="707.5" y="995.3">21:00</text><text x="707.5" y="1019.0">18:00</text></g><text transform="translate(676.5 968.0) rotate(-90)" font-size="10.8" fill="#333" text-anchor="middle">LT (hour)</text>
<text x="719" y="936.6" font-size="9.3" font-weight="bold" fill="#111">(a)</text>
<g transform="translate(716.4 1020.4) scale(3.5391 2.3675)" fill="none" stroke-width="1.0" shape-rendering="crispEdges"><path stroke="#2a2c9e" d="M25.5 9v1M42.5 7v1M91.5 3v1M91.5 8v5M91.5 38v1M103.5 10v1M108.5 11v1"/><path stroke="#2d3eb9" d="M4.5 7v1M10.5 36v4M25.5 10v1M32.5 34v4M34.5 9v1M41.5 39v1M42.5 4v3M42.5 8v2M42.5 22v1M42.5 35v2M42.5 39v1M43.5 5v1M53.5 37v1M53.5 39v1M58.5 8v2M63.5 39v1M64.5 29v1M64.5 36v1M66.5 7v1M78.5 6v1M91.5 5v2M91.5 13v1M91.5 35v3M103.5 5v1M103.5 8v2M105.5 5v1M108.5 5v1"/><path stroke="#2a55cd" d="M3.5 37v3M4.5 0v2M4.5 4v1M4.5 6v1M4.5 8v2M5.5 9v3M5.5 13v1M10.5 0v4M10.5 7v4M10.5 35v1M11.5 6v2M11.5 9v5M11.5 18v2M12.5 3v3M12.5 31v1M13.5 16v2M15.5 7v1M18.5 16v2M20.5 14v1M20.5 37v3M21.5 14v1M21.5 16v2M24.5 1v1M24.5 6v1M24.5 11v1M25.5 1v2M25.5 15v1M25.5 37v2M26.5 5v6M26.5 12v1M27.5 6v3M27.5 17v1M27.5 27v1M27.5 35v2M27.5 38v2M28.5 37v3M29.5 39v1M30.5 34v2M33.5 38v1M34.5 8v1M34.5 10v1M34.5 13v2M34.5 37v2M37.5 24v1M37.5 26v1M37.5 39v1M38.5 34v6M40.5 27v1M40.5 29v1M40.5 32v2M40.5 35v3M40.5 39v1M42.5 1v3M42.5 11v3M42.5 23v1M42.5 28v1M42.5 33v2M42.5 37v2M43.5 4v1M43.5 20v1M43.5 31v1M43.5 38v1M53.5 36v1M53.5 38v1M54.5 29v1M57.5 1v2M57.5 14v1M58.5 6v2M58.5 10v2M62.5 3v1M62.5 8v1M63.5 1v1M63.5 3v2M64.5 34v1M64.5 37v2M66.5 0v1M66.5 34v3M66.5 39v1M68.5 24v1M68.5 28v1M75.5 16v1M75.5 37v1M78.5 3v1M78.5 5v1M78.5 7v3M86.5 4v2M91.5 1v1M91.5 34v1M91.5 39v1M93.5 1v1M96.5 0v1M103.5 4v1M103.5 6v1M103.5 11v2M104.5 2v1M105.5 6v2M105.5 12v1M105.5 37v1M106.5 11v1M106.5 30v2M108.5 0v1M108.5 4v1M108.5 6v1M108.5 12v2M108.5 38v1M113.5 3v1M113.5 5v3M114.5 34v2"/><path stroke="#2174da" d="M0.5 39v1M1.5 36v1M1.5 38v1M2.5 30v1M3.5 13v7M3.5 36v1M4.5 5v1M4.5 10v2M4.5 22v1M4.5 24v1M4.5 27v2M5.5 12v1M5.5 14v1M5.5 25v1M6.5 29v1M8.5 21v1M8.5 26v1M8.5 38v2M9.5 39v1M10.5 4v1M10.5 6v1M11.5 20v2M11.5 29v9M12.5 2v1M12.5 6v3M12.5 12v1M12.5 15v3M12.5 20v8M12.5 30v1M12.5 35v2M13.5 7v2M13.5 13v3M13.5 18v2M15.5 5v2M15.5 8v2M15.5 11v1M15.5 24v1M15.5 36v1M16.5 31v2M16.5 37v1M18.5 10v3M18.5 18v1M18.5 31v2M18.5 37v3M19.5 38v1M20.5 13v1M20.5 15v2M20.5 36v1M21.5 12v2M21.5 15v1M21.5 21v2M21.5 36v1M21.5 38v2M23.5 36v2M24.5 0v1M24.5 2v4M24.5 8v1M24.5 10v1M24.5 17v1M24.5 19v1M24.5 37v2M25.5 0v1M25.5 16v2M25.5 35v2M26.5 11v1M26.5 13v5M26.5 37v1M26.5 39v1M27.5 9v3M27.5 14v3M27.5 18v1M27.5 25v2M27.5 28v1M27.5 30v5M27.5 37v1M28.5 18v2M28.5 23v2M28.5 31v2M28.5 36v1M29.5 21v5M29.5 29v6M29.5 36v2M30.5 24v1M30.5 26v2M30.5 36v4M31.5 37v1M32.5 27v1M32.5 30v2M33.5 29v1M33.5 33v1M33.5 35v1M33.5 37v1M33.5 39v1M34.5 6v2M34.5 12v1M34.5 26v3M34.5 39v1M35.5 34v1M35.5 36v2M36.5 34v1M36.5 36v1M36.5 39v1M37.5 25v1M37.5 27v1M37.5 29v6M37.5 36v3M38.5 31v3M40.5 15v1M40.5 22v3M40.5 26v1M40.5 28v1M40.5 38v1M41.5 29v8M42.5 14v4M42.5 24v4M42.5 31v1M43.5 21v1M43.5 24v2M43.5 29v2M43.5 32v1M43.5 34v3M45.5 38v1M47.5 36v1M47.5 38v2M48.5 36v3M49.5 31v1M50.5 0v1M50.5 2v1M51.5 29v2M53.5 34v2M54.5 23v2M54.5 32v2M54.5 38v1M55.5 35v5M57.5 0v1M57.5 12v2M57.5 20v1M58.5 4v2M61.5 1v1M61.5 39v1M62.5 4v4M62.5 9v2M62.5 27v1M62.5 37v3M63.5 0v1M63.5 2v1M63.5 6v1M63.5 8v1M63.5 38v1M64.5 23v1M64.5 27v2M64.5 30v1M64.5 32v2M64.5 35v1M66.5 1v1M66.5 11v1M66.5 13v1M66.5 37v2M68.5 23v1M68.5 25v3M68.5 29v1M68.5 32v1M68.5 39v1M69.5 38v2M71.5 0v2M71.5 11v1M71.5 18v1M74.5 39v1M75.5 8v3M75.5 13v3M75.5 17v1M75.5 32v1M75.5 36v1M76.5 12v1M77.5 6v1M77.5 9v5M77.5 35v1M78.5 2v1M78.5 10v5M78.5 19v1M78.5 22v2M78.5 39v1M80.5 14v1M81.5 0v2M83.5 5v1M83.5 8v1M86.5 3v1M86.5 6v1M86.5 8v1M86.5 19v2M91.5 0v1M91.5 14v1M91.5 30v1M91.5 32v2M92.5 11v1M93.5 0v1M95.5 3v1M96.5 1v1M98.5 6v1M98.5 12v1M99.5 32v1M99.5 34v1M100.5 5v1M100.5 38v1M101.5 12v2M101.5 35v1M103.5 1v1M103.5 7v1M103.5 13v1M104.5 0v1M105.5 13v1M105.5 34v3M106.5 12v1M106.5 14v1M106.5 20v1M106.5 32v1M107.5 37v2M108.5 7v2M108.5 10v1M108.5 20v1M108.5 26v1M108.5 33v1M108.5 37v1M108.5 39v1M113.5 4v1M113.5 10v1M113.5 12v1M113.5 21v3M114.5 2v1M114.5 5v1M114.5 33v1M114.5 36v1"/><path stroke="#1c90d1" d="M0.5 32v1M2.5 36v2M3.5 26v3M3.5 32v1M4.5 18v4M4.5 23v1M4.5 25v2M4.5 29v2M4.5 34v5M5.5 15v3M5.5 26v1M5.5 28v3M5.5 32v7M7.5 14v1M7.5 31v1M7.5 34v2M7.5 37v1M8.5 13v4M8.5 18v3M8.5 25v1M8.5 27v5M8.5 35v2M9.5 35v1M10.5 5v1M10.5 17v4M10.5 25v4M10.5 30v1M11.5 28v1M12.5 9v1M12.5 13v2M12.5 18v2M12.5 28v2M12.5 38v1M13.5 9v2M13.5 23v2M13.5 32v6M14.5 2v3M14.5 6v4M14.5 37v1M15.5 10v1M15.5 12v2M15.5 22v2M15.5 29v1M15.5 31v1M15.5 34v2M15.5 37v3M16.5 30v1M17.5 31v1M18.5 23v6M18.5 30v1M19.5 30v1M19.5 33v1M19.5 37v1M20.5 17v4M20.5 23v1M20.5 25v1M20.5 30v2M21.5 23v2M21.5 27v3M21.5 33v3M21.5 37v1M22.5 37v1M23.5 34v1M24.5 9v1M24.5 18v1M24.5 20v2M24.5 28v9M24.5 39v1M25.5 18v1M25.5 31v4M26.5 18v1M26.5 24v1M26.5 30v6M27.5 12v2M27.5 29v1M28.5 11v2M28.5 20v3M28.5 27v4M29.5 27v2M29.5 35v1M30.5 11v8M30.5 20v3M30.5 25v1M31.5 36v1M31.5 38v1M32.5 29v1M33.5 19v1M34.5 15v5M34.5 23v3M34.5 29v2M34.5 32v3M36.5 30v3M36.5 37v2M37.5 28v1M38.5 25v2M38.5 30v1M39.5 1v5M39.5 7v1M40.5 25v1M41.5 28v1M43.5 11v1M43.5 13v2M43.5 22v2M43.5 26v3M43.5 33v1M44.5 38v1M45.5 26v1M45.5 32v1M45.5 34v3M46.5 29v1M46.5 32v3M46.5 38v2M47.5 17v1M47.5 34v2M47.5 37v1M48.5 16v1M48.5 21v4M48.5 29v2M48.5 35v1M49.5 22v1M49.5 32v3M49.5 38v2M50.5 3v1M50.5 38v2M51.5 15v1M51.5 31v1M51.5 35v1M51.5 37v3M52.5 37v2M53.5 20v1M53.5 32v2M54.5 35v1M54.5 37v1M55.5 31v3M57.5 3v1M57.5 5v2M57.5 11v1M57.5 15v3M57.5 19v1M57.5 21v1M57.5 25v1M61.5 36v1M61.5 38v1M62.5 29v1M62.5 34v1M63.5 9v1M63.5 30v1M63.5 33v1M63.5 37v1M64.5 22v1M64.5 24v1M64.5 31v1M64.5 39v1M66.5 2v1M66.5 6v1M66.5 8v1M66.5 10v1M66.5 12v1M66.5 14v2M66.5 22v1M67.5 1v1M67.5 10v1M67.5 12v3M67.5 16v1M68.5 2v1M68.5 30v2M68.5 33v2M68.5 38v1M69.5 37v1M70.5 14v3M70.5 39v1M71.5 3v1M71.5 5v2M71.5 12v2M71.5 17v1M71.5 19v2M71.5 29v3M71.5 38v2M73.5 31v1M74.5 33v2M75.5 0v2M75.5 5v1M75.5 7v1M75.5 11v2M75.5 35v1M75.5 38v1M76.5 5v2M76.5 13v2M77.5 0v2M77.5 4v2M77.5 7v2M77.5 14v1M77.5 34v1M77.5 36v1M77.5 38v1M78.5 1v1M78.5 37v2M80.5 10v2M80.5 33v1M81.5 7v1M81.5 9v1M81.5 16v5M81.5 26v1M81.5 32v1M81.5 35v2M82.5 8v1M83.5 0v2M83.5 4v1M83.5 6v2M83.5 9v1M83.5 38v1M85.5 31v1M86.5 2v1M86.5 7v1M86.5 21v1M86.5 30v1M86.5 39v1M88.5 11v2M89.5 39v1M90.5 8v2M91.5 15v1M91.5 19v2M91.5 27v3M91.5 31v1M92.5 12v1M93.5 2v1M93.5 13v1M93.5 15v3M94.5 4v1M94.5 6v1M94.5 8v1M95.5 1v1M95.5 6v2M95.5 13v1M95.5 15v1M95.5 39v1M96.5 2v1M96.5 5v2M96.5 16v2M96.5 37v3M98.5 7v5M98.5 13v2M99.5 0v1M99.5 2v2M99.5 29v1M99.5 31v1M99.5 35v1M99.5 37v2M100.5 7v2M100.5 10v1M100.5 16v1M100.5 37v1M100.5 39v1M101.5 17v1M101.5 19v1M101.5 24v1M101.5 29v2M101.5 37v2M102.5 38v1M103.5 14v1M103.5 32v3M103.5 38v1M104.5 12v1M105.5 8v4M105.5 14v3M105.5 39v1M106.5 0v1M106.5 7v1M106.5 15v2M106.5 18v2M106.5 22v1M107.5 8v1M107.5 10v1M107.5 36v1M107.5 39v1M108.5 9v1M108.5 14v1M108.5 16v1M108.5 18v2M108.5 21v2M108.5 24v2M108.5 27v1M108.5 31v1M108.5 34v3M111.5 34v1M111.5 37v3M113.5 2v1M113.5 8v2M113.5 11v1M113.5 13v2M113.5 18v3M114.5 6v2"/><path stroke="#21a8bf" d="M3.5 29v3M4.5 31v1M5.5 20v2M5.5 27v1M5.5 31v1M8.5 17v1M8.5 32v1M10.5 21v4M11.5 25v2M12.5 39v1M13.5 21v2M13.5 25v1M13.5 29v1M14.5 5v1M14.5 10v1M14.5 33v2M15.5 19v2M15.5 30v1M15.5 32v2M17.5 32v1M17.5 35v1M18.5 29v1M20.5 24v1M20.5 26v4M21.5 25v2M22.5 34v1M22.5 36v1M23.5 32v1M24.5 25v1M24.5 27v1M25.5 19v1M25.5 28v3M26.5 23v1M26.5 25v2M26.5 28v2M26.5 36v1M28.5 13v1M30.5 23v1M31.5 33v1M35.5 31v1M36.5 27v3M38.5 21v1M38.5 24v1M39.5 8v2M39.5 12v1M39.5 37v3M41.5 26v2M43.5 12v1M44.5 31v1M45.5 23v1M46.5 15v1M47.5 15v1M47.5 33v1M49.5 35v1M50.5 1v1M50.5 9v4M50.5 33v5M52.5 32v1M52.5 34v1M52.5 39v1M53.5 23v2M53.5 30v2M55.5 28v1M56.5 5v1M57.5 7v2M57.5 10v1M57.5 22v2M57.5 33v1M57.5 36v1M58.5 0v1M58.5 38v2M61.5 3v1M61.5 5v2M61.5 12v1M61.5 34v2M62.5 1v1M62.5 17v3M62.5 25v2M62.5 28v1M62.5 30v1M62.5 32v2M62.5 35v1M63.5 7v1M63.5 10v3M63.5 28v2M63.5 31v2M63.5 34v3M64.5 0v2M64.5 5v2M64.5 20v2M64.5 25v2M65.5 8v1M65.5 10v1M66.5 5v1M66.5 9v1M66.5 17v2M66.5 21v1M66.5 31v3M67.5 0v1M67.5 2v2M67.5 6v1M67.5 8v2M67.5 11v1M67.5 15v1M67.5 17v1M68.5 3v1M68.5 6v1M68.5 22v1M68.5 35v1M68.5 37v1M69.5 35v2M70.5 1v1M70.5 4v1M70.5 17v1M70.5 19v1M70.5 26v3M70.5 31v1M70.5 38v1M71.5 4v1M71.5 7v4M71.5 14v1M71.5 24v1M71.5 32v1M71.5 34v1M71.5 37v1M73.5 1v1M73.5 10v1M73.5 17v1M73.5 30v1M73.5 32v1M74.5 31v2M74.5 35v2M74.5 38v1M75.5 2v2M75.5 18v2M75.5 22v1M75.5 31v1M75.5 33v2M75.5 39v1M76.5 8v4M76.5 15v1M76.5 24v3M76.5 34v1M76.5 38v2M77.5 32v1M77.5 39v1M78.5 15v1M78.5 17v2M78.5 21v1M78.5 24v2M78.5 36v1M80.5 6v4M80.5 12v2M80.5 15v2M80.5 26v1M80.5 30v1M80.5 32v1M80.5 34v3M81.5 6v1M81.5 8v1M81.5 10v1M81.5 15v1M81.5 21v1M81.5 23v3M81.5 31v1M81.5 33v2M81.5 37v3M82.5 1v1M82.5 4v1M82.5 6v1M82.5 14v2M82.5 35v1M82.5 37v2M83.5 10v1M83.5 37v1M83.5 39v1M85.5 0v1M85.5 29v2M85.5 33v1M85.5 35v2M86.5 1v1M86.5 22v1M86.5 24v1M86.5 31v2M88.5 0v1M88.5 4v1M88.5 7v2M88.5 10v1M88.5 13v3M89.5 2v1M89.5 5v1M89.5 7v1M89.5 9v1M89.5 12v1M89.5 35v2M89.5 38v1M90.5 3v3M90.5 7v1M90.5 10v2M91.5 21v1M91.5 26v1M92.5 0v2M92.5 5v1M92.5 7v1M92.5 10v1M92.5 35v1M93.5 7v1M93.5 14v1M93.5 18v2M93.5 36v4M94.5 3v1M94.5 5v1M94.5 7v1M94.5 9v1M94.5 26v1M95.5 4v2M95.5 8v2M95.5 11v2M95.5 14v1M95.5 16v1M95.5 35v1M95.5 38v1M96.5 3v1M96.5 9v1M96.5 14v2M96.5 18v2M96.5 22v2M98.5 5v1M98.5 15v2M98.5 18v1M99.5 5v1M99.5 16v2M99.5 21v1M99.5 30v1M99.5 33v1M99.5 36v1M99.5 39v1M100.5 2v3M100.5 6v1M100.5 9v1M100.5 11v1M100.5 17v3M100.5 22v1M100.5 36v1M101.5 2v1M101.5 7v3M101.5 11v1M101.5 15v2M101.5 18v1M101.5 20v1M101.5 22v1M101.5 25v2M101.5 28v1M101.5 32v3M101.5 36v1M102.5 33v1M102.5 35v3M102.5 39v1M103.5 15v1M103.5 37v1M104.5 3v2M104.5 13v1M104.5 15v1M104.5 37v2M105.5 17v1M105.5 32v2M106.5 2v1M106.5 4v3M106.5 8v1M106.5 13v1M106.5 21v1M106.5 23v1M106.5 29v1M106.5 33v4M107.5 1v1M107.5 5v2M107.5 9v1M107.5 11v4M107.5 16v2M107.5 32v1M107.5 34v2M108.5 15v1M108.5 17v1M108.5 23v1M108.5 28v2M108.5 32v1M109.5 0v1M109.5 2v1M109.5 15v1M110.5 0v1M110.5 6v2M110.5 9v1M110.5 26v2M111.5 10v1M111.5 33v1M111.5 35v2M113.5 15v1M113.5 17v1M113.5 24v1M113.5 37v3M114.5 0v1M114.5 14v1M114.5 27v1M114.5 31v2M114.5 39v1"/><path stroke="#3fb69f" d="M14.5 16v2M14.5 31v2M24.5 26v1M25.5 24v1M25.5 27v1M26.5 27v1M31.5 34v1M39.5 10v2M39.5 13v1M39.5 29v1M39.5 33v2M44.5 30v1M47.5 18v1M47.5 31v2M50.5 13v3M50.5 19v1M50.5 30v1M50.5 32v1M53.5 25v1M53.5 27v1M56.5 0v1M56.5 3v2M56.5 7v1M56.5 9v3M56.5 13v2M57.5 9v1M57.5 18v1M57.5 27v1M57.5 31v2M57.5 35v1M57.5 37v2M58.5 37v1M61.5 7v1M61.5 11v1M61.5 13v2M61.5 16v1M61.5 18v2M61.5 22v1M61.5 33v1M62.5 20v3M62.5 31v1M62.5 36v1M64.5 3v1M64.5 7v2M64.5 16v1M64.5 19v1M65.5 1v1M65.5 7v1M65.5 9v1M65.5 11v3M65.5 37v1M66.5 19v1M66.5 23v1M66.5 29v1M67.5 5v1M67.5 7v1M67.5 18v1M67.5 34v1M67.5 36v1M68.5 5v1M68.5 7v3M68.5 11v2M68.5 14v1M68.5 21v1M68.5 36v1M69.5 0v1M69.5 4v1M69.5 6v2M69.5 9v1M69.5 34v1M70.5 5v1M70.5 13v1M70.5 18v1M70.5 25v1M70.5 32v1M70.5 35v1M70.5 37v1M71.5 15v2M71.5 21v1M71.5 23v1M71.5 25v1M71.5 28v1M71.5 33v1M71.5 35v1M73.5 2v1M73.5 6v4M73.5 11v1M73.5 13v2M73.5 18v3M73.5 28v2M73.5 36v1M74.5 15v1M74.5 37v1M75.5 21v1M75.5 23v1M75.5 27v1M75.5 30v1M76.5 2v1M76.5 16v2M76.5 23v1M76.5 27v1M76.5 31v3M76.5 35v1M76.5 37v1M77.5 15v1M77.5 31v1M77.5 33v1M77.5 37v1M78.5 16v1M78.5 31v5M80.5 5v1M80.5 27v2M80.5 31v1M80.5 38v2M81.5 2v1M81.5 5v1M81.5 11v1M81.5 13v2M81.5 27v1M81.5 30v1M82.5 2v1M82.5 5v1M82.5 9v5M82.5 16v1M82.5 18v2M82.5 22v3M82.5 33v2M82.5 36v1M82.5 39v1M83.5 23v1M83.5 28v1M83.5 30v1M85.5 3v1M85.5 5v1M85.5 18v1M85.5 21v1M85.5 25v2M85.5 28v1M85.5 32v1M86.5 23v1M86.5 25v1M86.5 29v1M86.5 33v1M87.5 34v5M88.5 1v1M88.5 3v1M88.5 6v1M88.5 16v1M88.5 31v4M88.5 37v2M89.5 6v1M89.5 8v1M89.5 10v2M89.5 13v1M89.5 26v1M89.5 30v1M89.5 32v3M89.5 37v1M90.5 0v1M90.5 6v1M90.5 12v2M91.5 16v3M91.5 22v4M92.5 2v3M92.5 8v1M92.5 25v2M92.5 30v1M92.5 34v1M92.5 36v1M92.5 38v2M93.5 3v1M93.5 8v1M93.5 11v2M93.5 20v1M93.5 33v3M94.5 0v1M94.5 25v1M94.5 28v1M94.5 32v2M94.5 36v1M95.5 10v1M95.5 36v2M96.5 7v1M96.5 10v4M96.5 20v2M96.5 24v2M96.5 30v4M96.5 36v1M98.5 17v1M98.5 21v1M98.5 29v3M98.5 37v3M99.5 6v5M99.5 15v1M99.5 18v3M99.5 22v4M99.5 28v1M100.5 12v4M100.5 20v2M100.5 23v3M100.5 32v3M101.5 3v1M101.5 10v1M101.5 14v1M101.5 21v1M101.5 23v1M101.5 27v1M101.5 39v1M102.5 1v1M102.5 3v1M102.5 5v1M102.5 8v2M102.5 12v1M102.5 30v3M102.5 34v1M103.5 20v3M103.5 29v3M103.5 35v2M103.5 39v1M104.5 5v2M104.5 10v2M104.5 14v1M104.5 16v2M104.5 19v1M104.5 22v1M104.5 25v1M104.5 28v2M104.5 33v3M104.5 39v1M105.5 18v1M105.5 29v3M106.5 3v1M106.5 9v2M106.5 17v1M106.5 24v2M106.5 28v1M106.5 37v1M107.5 0v1M107.5 3v1M107.5 15v1M107.5 29v1M107.5 31v1M108.5 30v1M109.5 9v1M109.5 13v2M109.5 19v2M109.5 30v4M110.5 3v2M110.5 8v1M110.5 10v1M110.5 20v3M110.5 28v1M111.5 2v2M111.5 5v1M111.5 7v3M111.5 11v1M111.5 20v1M111.5 28v1M111.5 32v1M112.5 29v1M113.5 25v2M114.5 8v4M114.5 13v1M114.5 15v3M114.5 26v1M114.5 29v2M114.5 37v2"/><path stroke="#75bc7b" d="M14.5 15v1M14.5 18v1M14.5 30v1M25.5 25v2M39.5 23v1M39.5 25v4M39.5 30v1M39.5 32v1M47.5 19v1M47.5 21v3M47.5 30v1M50.5 16v1M50.5 18v1M50.5 20v3M50.5 29v1M50.5 31v1M56.5 6v1M56.5 12v1M56.5 15v3M56.5 19v2M56.5 32v1M56.5 34v4M57.5 24v1M57.5 29v2M57.5 39v1M58.5 28v1M58.5 33v1M58.5 36v1M61.5 4v1M61.5 8v3M61.5 15v1M61.5 17v1M61.5 20v2M61.5 23v1M62.5 23v2M63.5 14v1M63.5 16v3M63.5 20v1M63.5 22v1M63.5 24v2M63.5 27v1M64.5 9v2M64.5 12v2M64.5 15v1M64.5 17v2M65.5 0v1M65.5 3v4M65.5 14v1M65.5 16v2M65.5 35v2M65.5 39v1M66.5 20v1M66.5 28v1M67.5 19v1M67.5 35v1M67.5 37v3M68.5 0v1M68.5 10v1M68.5 13v1M68.5 15v1M68.5 17v4M69.5 8v1M69.5 10v1M69.5 14v2M69.5 19v2M69.5 22v1M69.5 29v1M70.5 12v1M70.5 20v1M70.5 23v2M70.5 29v2M70.5 34v1M70.5 36v1M71.5 22v1M71.5 26v2M72.5 1v1M72.5 14v2M73.5 4v2M73.5 16v1M73.5 21v1M73.5 24v2M73.5 27v1M73.5 33v1M73.5 37v1M74.5 7v1M74.5 11v4M74.5 16v1M75.5 20v1M75.5 24v1M75.5 26v1M75.5 28v2M76.5 1v1M76.5 19v4M76.5 28v3M76.5 36v1M77.5 16v1M77.5 25v2M78.5 26v3M80.5 4v1M80.5 17v1M80.5 19v3M80.5 23v1M80.5 25v1M80.5 29v1M81.5 12v1M81.5 28v2M82.5 17v1M82.5 21v1M82.5 29v4M83.5 22v1M83.5 29v1M83.5 31v3M83.5 36v1M85.5 4v1M85.5 6v1M85.5 19v2M85.5 23v2M85.5 34v1M85.5 37v3M86.5 26v2M86.5 34v1M86.5 36v3M87.5 0v1M87.5 5v1M87.5 11v1M87.5 14v1M87.5 17v4M87.5 33v1M87.5 39v1M88.5 5v1M88.5 17v1M88.5 21v2M88.5 35v2M89.5 14v1M89.5 17v1M89.5 21v3M89.5 25v1M89.5 28v2M89.5 31v1M90.5 17v1M90.5 20v2M92.5 9v1M92.5 22v1M92.5 24v1M92.5 27v2M92.5 32v2M92.5 37v1M93.5 5v1M93.5 9v2M94.5 10v2M94.5 24v1M94.5 27v1M94.5 29v3M94.5 34v1M94.5 38v1M95.5 17v1M95.5 23v1M95.5 30v1M95.5 33v1M96.5 35v1M98.5 19v2M98.5 22v2M98.5 28v1M98.5 34v3M99.5 11v1M99.5 14v1M99.5 26v2M100.5 27v1M100.5 35v1M101.5 5v2M102.5 0v1M102.5 2v1M102.5 4v1M102.5 6v1M102.5 10v2M102.5 13v2M102.5 16v1M102.5 25v1M102.5 28v2M103.5 16v4M103.5 23v2M103.5 28v1M104.5 18v1M104.5 20v2M104.5 23v1M104.5 26v2M104.5 31v2M104.5 36v1M105.5 19v1M105.5 28v1M106.5 26v2M106.5 38v2M107.5 4v1M107.5 26v1M107.5 28v1M107.5 30v1M107.5 33v1M109.5 5v2M109.5 8v1M109.5 12v1M109.5 16v3M109.5 21v3M109.5 27v3M109.5 34v5M110.5 11v1M110.5 13v1M110.5 17v1M110.5 23v2M110.5 29v1M111.5 12v2M111.5 21v1M111.5 30v2M112.5 28v1M112.5 30v3M113.5 16v1M113.5 27v1M113.5 29v6M114.5 12v1M114.5 18v3M114.5 22v4M114.5 28v1"/><path stroke="#b1be57" d="M14.5 19v3M14.5 25v1M14.5 28v2M39.5 19v1M39.5 21v2M39.5 24v1M39.5 31v1M44.5 24v1M44.5 27v1M47.5 27v3M50.5 17v1M50.5 24v3M50.5 28v1M56.5 18v1M56.5 21v2M56.5 33v1M56.5 38v2M57.5 26v1M57.5 28v1M58.5 21v2M58.5 24v2M58.5 27v1M58.5 29v1M58.5 32v1M58.5 34v2M61.5 31v1M63.5 13v1M63.5 15v1M63.5 19v1M63.5 21v1M63.5 23v1M63.5 26v1M64.5 11v1M64.5 14v1M65.5 15v1M65.5 18v1M65.5 30v1M65.5 32v1M65.5 34v1M65.5 38v1M66.5 24v1M67.5 20v2M67.5 33v1M68.5 16v1M69.5 11v1M69.5 13v1M69.5 21v1M69.5 27v1M69.5 31v1M70.5 7v1M70.5 9v1M70.5 11v1M70.5 21v1M70.5 33v1M72.5 3v1M72.5 5v3M72.5 9v2M72.5 12v1M72.5 17v1M72.5 32v3M72.5 36v1M72.5 39v1M73.5 15v1M73.5 22v2M73.5 34v2M73.5 38v2M74.5 2v3M74.5 6v1M74.5 8v1M74.5 10v1M74.5 17v1M74.5 29v2M75.5 25v1M76.5 18v1M77.5 17v2M77.5 20v1M77.5 22v1M77.5 24v1M77.5 27v1M77.5 30v1M78.5 29v2M80.5 18v1M80.5 22v1M80.5 24v1M80.5 37v1M82.5 20v1M82.5 25v1M83.5 20v2M83.5 24v1M83.5 26v1M83.5 34v2M85.5 7v3M85.5 17v1M85.5 22v1M85.5 27v1M86.5 28v1M86.5 35v1M87.5 4v1M87.5 6v3M87.5 10v1M87.5 12v1M87.5 15v2M87.5 32v1M88.5 18v1M88.5 20v1M88.5 23v2M88.5 30v1M88.5 39v1M89.5 16v1M89.5 18v1M89.5 24v1M89.5 27v1M90.5 14v1M90.5 16v1M90.5 19v1M90.5 30v4M92.5 23v1M92.5 29v1M92.5 31v1M93.5 6v1M93.5 21v1M93.5 23v1M93.5 27v2M94.5 12v9M94.5 35v1M94.5 37v1M95.5 19v4M95.5 29v1M95.5 31v2M95.5 34v1M96.5 8v1M96.5 26v2M96.5 29v1M98.5 24v1M98.5 33v1M100.5 26v1M100.5 28v1M100.5 30v2M102.5 7v1M102.5 15v1M102.5 17v1M102.5 23v2M102.5 26v2M103.5 25v1M104.5 8v2M104.5 24v1M104.5 30v1M105.5 20v3M105.5 26v2M107.5 25v1M107.5 27v1M109.5 3v2M109.5 10v2M109.5 39v1M110.5 12v1M110.5 15v2M110.5 19v1M110.5 25v1M111.5 16v1M111.5 18v2M111.5 22v1M111.5 27v1M112.5 33v1M113.5 35v2"/><path stroke="#e1be41" d="M14.5 23v2M14.5 26v2M39.5 20v1M56.5 23v1M56.5 25v3M56.5 30v2M58.5 23v1M58.5 26v1M58.5 30v2M61.5 32v1M65.5 19v1M65.5 21v2M65.5 31v1M65.5 33v1M66.5 27v1M67.5 22v2M67.5 30v1M67.5 32v1M69.5 16v1M69.5 18v1M69.5 23v1M69.5 25v2M69.5 28v1M69.5 30v1M69.5 33v1M70.5 8v1M70.5 10v1M70.5 22v1M72.5 8v1M72.5 13v1M72.5 16v1M72.5 18v1M72.5 31v1M72.5 35v1M73.5 26v1M74.5 9v1M74.5 18v1M74.5 22v1M74.5 27v2M77.5 19v1M77.5 21v1M77.5 23v1M77.5 29v1M82.5 26v3M83.5 25v1M83.5 27v1M85.5 10v1M87.5 13v1M87.5 21v1M88.5 19v1M89.5 15v1M89.5 19v2M90.5 18v1M90.5 22v1M90.5 27v3M90.5 37v3M93.5 24v2M94.5 21v3M95.5 18v1M95.5 24v2M95.5 27v2M96.5 28v1M96.5 34v1M98.5 25v1M98.5 27v1M98.5 32v1M99.5 12v2M100.5 29v1M102.5 19v1M102.5 21v2M103.5 27v1M105.5 23v1M105.5 25v1M109.5 25v2M110.5 18v1M111.5 15v1M111.5 17v1M112.5 7v1M112.5 10v2M112.5 15v9M112.5 25v3M112.5 34v1M112.5 37v1M112.5 39v1M113.5 28v1"/><path stroke="#f6cf2e" d="M56.5 28v2M65.5 23v1M65.5 27v2M66.5 26v1M67.5 24v4M67.5 31v1M69.5 12v1M69.5 17v1M69.5 24v1M69.5 32v1M72.5 11v1M72.5 19v2M72.5 28v3M72.5 37v2M74.5 19v3M74.5 23v4M77.5 28v1M85.5 11v1M85.5 13v4M87.5 22v1M87.5 29v3M90.5 15v1M90.5 23v1M90.5 34v3M93.5 22v1M93.5 26v1M95.5 26v1M98.5 26v1M102.5 18v1M102.5 20v1M103.5 26v1M105.5 24v1M111.5 14v1M112.5 1v1M112.5 4v1M112.5 6v1M112.5 8v2M112.5 12v3M112.5 35v2M112.5 38v1"/><path stroke="#f8ee1e" d="M56.5 24v1M65.5 20v1M65.5 24v3M67.5 28v2M72.5 21v7M85.5 12v1M87.5 23v6M90.5 24v2M112.5 3v1M112.5 5v1"/></g>
<path d="M716.4 1023.3Q966.4 1031.4 1046.4 1034.0T1123.4 1035.2" fill="none" stroke="#f01818" stroke-width="1.1"/><path d="M716.4 1108.9L1123.4 1099.2" fill="none" stroke="#f01818" stroke-width="1.1" stroke-dasharray="4 3"/><rect x="716.4" y="1020.4" width="407.0" height="94.7" fill="none" stroke="#555" stroke-width="0.8"/><path d="M716.4 1020.4v-3M716.4 1115.1v3M808.4 1020.4v-3M808.4 1115.1v3M914.6 1020.4v-3M914.6 1115.1v3M1024.3 1020.4v-3M1024.3 1115.1v3M1123.4 1020.4v-3M1123.4 1115.1v3M716.4 1020.4h-3M1123.4 1020.4h3M716.4 1044.1h-3M1123.4 1044.1h3M716.4 1067.8h-3M1123.4 1067.8h3M716.4 1091.4h-3M1123.4 1091.4h3M716.4 1115.1h-3M1123.4 1115.1h3" stroke="#555" stroke-width="0.7" fill="none"/><g font-size="9.8" fill="#333" text-anchor="end"><text x="707.5" y="1047.6">03:00</text><text x="707.5" y="1071.2">24:00</text><text x="707.5" y="1094.9">21:00</text><text x="707.5" y="1118.6">18:00</text></g><text transform="translate(676.5 1067.8) rotate(-90)" font-size="10.8" fill="#333" text-anchor="middle">LT (hour)</text>
<text x="719" y="1036.6" font-size="9.3" font-weight="bold" fill="#111">(b)</text>
<rect x="1138.2" y="1020.9" width="10.8" height="94.2" fill="url(#f4par)"/><g font-size="9.6" fill="#444"><text x="1152.5" y="1024.3">10</text><text x="1152.5" y="1043.2">8</text><text x="1152.5" y="1062.2">6</text><text x="1152.5" y="1081.1">4</text><text x="1152.5" y="1100.1">2</text></g><text transform="translate(1168.5 1067.8) rotate(-90)" font-size="9.8" fill="#444" text-anchor="middle">Fre. (MHz)</text>
<g transform="translate(716.4 1121.0) scale(3.5391 2.3550)" fill="none" stroke-width="1.0" shape-rendering="crispEdges"><path stroke="#2a2c9e" d="M4.5 4v1M10.5 7v3M10.5 36v1M10.5 38v2M11.5 36v1M12.5 5v3M12.5 12v1M24.5 4v1M25.5 0v3M25.5 9v1M26.5 5v2M27.5 10v1M27.5 12v1M27.5 14v2M27.5 38v1M29.5 39v1M32.5 29v1M32.5 37v1M34.5 6v1M34.5 8v1M37.5 27v4M37.5 32v3M37.5 37v3M38.5 36v2M40.5 33v1M40.5 35v1M42.5 1v4M42.5 7v1M42.5 13v1M42.5 16v1M42.5 37v1M42.5 39v1M43.5 11v1M43.5 36v1M45.5 36v1M54.5 38v1M56.5 6v1M57.5 0v4M61.5 10v2M62.5 1v1M63.5 4v1M63.5 7v3M63.5 38v2M66.5 1v2M66.5 26v1M66.5 28v2M66.5 31v9M74.5 3v2M74.5 7v1M75.5 11v2M75.5 18v1M76.5 1v1M76.5 6v1M77.5 39v1M78.5 5v10M78.5 27v1M80.5 36v4M81.5 8v2M82.5 1v2M82.5 6v1M82.5 11v1M83.5 7v2M83.5 10v1M83.5 38v1M86.5 1v2M86.5 31v1M89.5 6v2M91.5 8v5M91.5 39v1M93.5 2v2M93.5 5v1M93.5 20v2M93.5 36v1M93.5 38v2M95.5 6v1M96.5 0v2M96.5 5v3M96.5 39v1M99.5 2v2M99.5 5v1M99.5 7v7M99.5 16v1M100.5 11v5M100.5 33v1M101.5 3v1M101.5 5v2M101.5 38v1M102.5 2v2M102.5 5v1M102.5 9v5M103.5 5v3M104.5 3v3M104.5 8v6M106.5 5v1M106.5 7v6M106.5 31v2M106.5 37v3M107.5 1v1M107.5 3v3M108.5 0v1M108.5 6v1M108.5 8v1M108.5 32v8M109.5 13v1M110.5 4v1M111.5 10v1M112.5 38v2M113.5 3v1M113.5 5v3M113.5 37v3M114.5 0v1M114.5 2v1M114.5 35v1"/><path stroke="#2d3eb9" d="M0.5 39v1M1.5 36v1M1.5 38v1M2.5 30v1M2.5 36v2M3.5 26v1M3.5 28v1M3.5 30v2M3.5 36v4M4.5 0v2M4.5 5v2M4.5 11v1M4.5 18v4M4.5 23v3M4.5 31v1M4.5 35v4M5.5 20v1M5.5 34v1M5.5 37v2M6.5 29v1M7.5 14v1M8.5 13v1M8.5 25v1M8.5 30v1M8.5 32v1M8.5 35v2M8.5 39v1M10.5 0v3M10.5 4v3M10.5 10v1M10.5 17v12M10.5 30v1M10.5 35v1M10.5 37v1M11.5 7v1M11.5 9v5M11.5 18v4M11.5 25v1M11.5 28v8M11.5 37v1M12.5 2v3M12.5 8v2M12.5 13v6M12.5 20v11M12.5 35v2M12.5 38v2M13.5 7v3M13.5 13v3M13.5 18v1M13.5 29v1M13.5 32v3M13.5 37v1M14.5 2v5M15.5 13v1M15.5 33v7M16.5 30v3M16.5 37v1M17.5 32v1M18.5 10v3M18.5 16v3M18.5 25v1M18.5 30v3M18.5 37v3M19.5 33v1M19.5 37v1M20.5 13v1M20.5 36v4M21.5 12v1M21.5 17v1M21.5 21v1M21.5 24v2M21.5 27v1M21.5 33v7M23.5 32v1M24.5 0v4M24.5 5v2M24.5 8v4M24.5 17v1M24.5 21v1M24.5 28v1M24.5 30v8M25.5 10v1M26.5 7v6M26.5 39v1M27.5 6v4M27.5 11v1M27.5 13v1M27.5 16v3M27.5 27v1M27.5 35v3M27.5 39v1M28.5 11v3M28.5 18v3M28.5 24v1M28.5 27v2M28.5 30v3M28.5 36v3M29.5 21v4M29.5 27v11M30.5 11v5M30.5 20v2M30.5 26v1M30.5 35v5M31.5 38v1M32.5 27v1M32.5 30v2M32.5 34v3M33.5 19v1M33.5 29v1M33.5 33v1M33.5 37v2M34.5 7v1M34.5 9v2M34.5 12v6M34.5 19v1M34.5 23v1M34.5 25v1M34.5 32v3M34.5 37v3M35.5 36v2M36.5 27v3M36.5 31v2M36.5 34v1M36.5 36v4M37.5 24v3M37.5 31v1M37.5 36v1M38.5 21v1M38.5 26v1M38.5 30v6M38.5 38v2M39.5 1v1M39.5 4v2M39.5 7v4M40.5 15v1M40.5 22v1M40.5 25v5M40.5 32v1M40.5 36v4M41.5 28v3M41.5 32v1M41.5 35v2M41.5 39v1M42.5 5v2M42.5 8v2M42.5 11v2M42.5 14v2M42.5 17v1M42.5 22v4M42.5 27v2M42.5 31v1M42.5 33v4M42.5 38v1M43.5 4v2M43.5 12v3M43.5 20v2M43.5 26v2M43.5 35v1M45.5 38v1M46.5 15v1M46.5 39v1M48.5 16v1M48.5 24v1M48.5 29v2M48.5 35v4M49.5 22v1M49.5 31v1M49.5 35v1M49.5 38v2M50.5 0v1M50.5 2v2M50.5 38v1M51.5 29v2M51.5 35v1M51.5 37v3M52.5 32v1M52.5 34v1M52.5 38v2M53.5 36v1M53.5 38v2M54.5 32v2M54.5 35v1M54.5 37v1M55.5 35v5M56.5 4v2M56.5 12v1M57.5 39v1M58.5 6v5M61.5 5v4M61.5 12v1M61.5 17v1M62.5 3v1M62.5 6v5M62.5 33v1M63.5 0v1M63.5 6v1M63.5 10v2M63.5 36v2M64.5 17v2M64.5 37v1M66.5 0v1M66.5 5v2M66.5 9v1M66.5 14v1M66.5 17v1M66.5 20v1M68.5 16v1M69.5 39v1M70.5 7v1M70.5 9v1M70.5 13v3M71.5 0v1M73.5 28v2M74.5 6v1M74.5 8v2M75.5 0v1M75.5 2v2M75.5 9v2M75.5 16v1M75.5 35v2M76.5 2v1M76.5 5v1M76.5 8v2M76.5 11v1M76.5 38v2M77.5 0v2M77.5 35v2M78.5 3v1M78.5 18v1M78.5 21v1M78.5 24v3M78.5 38v1M80.5 13v1M80.5 34v2M81.5 1v1M81.5 5v1M81.5 7v1M81.5 10v1M82.5 8v3M82.5 12v1M83.5 0v1M83.5 6v1M83.5 24v3M83.5 30v2M83.5 37v1M85.5 0v1M85.5 9v2M85.5 15v1M86.5 3v1M86.5 30v1M86.5 36v1M88.5 10v1M88.5 13v1M89.5 2v1M89.5 8v3M90.5 11v2M90.5 14v1M90.5 39v1M91.5 3v1M91.5 15v1M91.5 19v1M91.5 34v1M91.5 37v2M93.5 1v1M93.5 6v1M93.5 15v1M93.5 19v1M93.5 23v1M93.5 37v1M94.5 4v1M94.5 11v3M94.5 37v1M95.5 3v1M96.5 8v2M96.5 35v1M96.5 37v2M99.5 0v1M99.5 14v1M99.5 17v1M99.5 37v1M100.5 9v1M100.5 16v2M100.5 32v1M100.5 34v4M101.5 2v1M101.5 7v2M101.5 39v1M102.5 4v1M102.5 6v1M102.5 37v1M103.5 4v1M103.5 8v2M103.5 11v4M104.5 0v1M104.5 2v1M104.5 6v1M104.5 14v1M106.5 3v2M106.5 6v1M106.5 13v1M106.5 17v1M106.5 36v1M107.5 0v1M107.5 8v1M107.5 11v1M107.5 31v1M108.5 7v1M108.5 30v2M109.5 3v1M109.5 11v2M109.5 14v1M109.5 38v1M110.5 6v1M111.5 8v1M111.5 28v1M112.5 37v1M113.5 2v1M113.5 4v1M113.5 8v1M113.5 36v1M114.5 5v1M114.5 15v1M114.5 34v1M114.5 36v1"/><path stroke="#2a55cd" d="M0.5 32v1M3.5 13v7M3.5 27v1M3.5 29v1M3.5 32v1M4.5 7v4M4.5 22v1M4.5 26v5M4.5 34v1M5.5 9v9M5.5 21v1M5.5 25v1M5.5 28v6M5.5 35v2M7.5 31v1M7.5 34v2M7.5 37v1M8.5 14v8M8.5 26v4M8.5 31v1M8.5 38v1M9.5 35v1M9.5 39v1M10.5 3v1M11.5 6v1M11.5 26v1M12.5 19v1M12.5 31v1M13.5 10v1M13.5 16v2M13.5 19v1M13.5 21v5M13.5 35v2M14.5 7v4M14.5 37v1M15.5 5v8M15.5 19v2M15.5 22v3M15.5 29v4M17.5 31v1M17.5 35v1M18.5 23v2M18.5 26v4M19.5 30v1M19.5 38v1M20.5 14v3M21.5 13v4M21.5 22v2M21.5 26v1M21.5 28v2M22.5 36v2M23.5 34v1M23.5 36v2M24.5 18v3M24.5 25v1M24.5 27v1M24.5 29v1M24.5 38v2M25.5 15v1M25.5 37v2M26.5 13v4M26.5 33v2M26.5 36v2M27.5 25v2M27.5 28v7M28.5 21v3M28.5 29v1M28.5 39v1M29.5 25v1M30.5 16v3M30.5 22v4M30.5 27v1M30.5 34v1M31.5 34v1M31.5 37v1M33.5 35v1M33.5 39v1M34.5 18v1M34.5 24v1M34.5 26v5M35.5 31v1M35.5 34v1M36.5 30v1M38.5 24v2M39.5 2v2M39.5 11v2M39.5 37v3M40.5 23v2M41.5 26v2M41.5 31v1M41.5 33v2M42.5 26v1M43.5 22v2M43.5 25v1M43.5 28v7M43.5 38v1M44.5 38v1M45.5 23v1M45.5 32v1M45.5 34v2M46.5 29v1M46.5 32v3M46.5 38v1M47.5 15v1M47.5 34v4M47.5 39v1M48.5 21v3M49.5 32v3M50.5 1v1M50.5 9v7M50.5 37v1M50.5 39v1M51.5 15v1M51.5 31v1M52.5 37v1M53.5 35v1M53.5 37v1M54.5 23v2M54.5 29v1M55.5 32v2M56.5 0v1M56.5 3v1M56.5 9v2M57.5 5v2M57.5 26v3M57.5 30v1M57.5 38v1M58.5 0v1M58.5 5v1M58.5 11v1M58.5 37v3M61.5 4v1M61.5 9v1M61.5 13v1M61.5 16v1M61.5 18v1M63.5 1v3M63.5 32v1M63.5 35v1M64.5 3v1M64.5 7v4M64.5 15v2M64.5 19v2M64.5 28v1M64.5 34v1M64.5 36v1M64.5 38v1M66.5 7v2M66.5 11v1M66.5 18v1M66.5 21v1M66.5 27v1M67.5 6v1M67.5 14v1M68.5 9v1M68.5 15v1M69.5 4v1M69.5 38v1M70.5 4v2M70.5 8v1M70.5 10v3M70.5 16v2M71.5 1v1M71.5 5v2M71.5 9v4M71.5 33v2M71.5 37v2M73.5 1v2M73.5 30v1M73.5 33v2M74.5 2v1M74.5 18v2M75.5 1v1M75.5 5v1M75.5 13v3M75.5 17v1M75.5 19v1M75.5 27v1M75.5 33v1M76.5 12v2M76.5 36v2M77.5 12v2M77.5 33v2M77.5 37v2M78.5 2v1M78.5 17v1M78.5 19v1M78.5 23v1M78.5 28v1M78.5 37v1M80.5 4v2M80.5 12v1M80.5 14v1M81.5 0v1M81.5 2v1M81.5 6v1M81.5 11v1M81.5 13v1M82.5 4v2M82.5 13v2M82.5 19v1M82.5 39v1M83.5 1v1M83.5 4v2M83.5 9v1M83.5 27v1M83.5 39v1M85.5 4v2M85.5 16v1M85.5 18v1M86.5 25v3M86.5 29v1M86.5 34v2M86.5 39v1M87.5 8v1M87.5 15v1M88.5 1v1M88.5 35v1M89.5 5v1M89.5 38v1M90.5 6v1M90.5 9v2M90.5 13v1M90.5 15v1M90.5 17v1M90.5 38v1M91.5 0v1M91.5 33v1M91.5 35v2M92.5 1v2M93.5 0v1M93.5 12v3M93.5 17v2M93.5 22v1M93.5 33v3M94.5 5v3M94.5 9v2M94.5 14v2M94.5 36v1M94.5 38v1M95.5 5v1M95.5 7v3M96.5 2v2M96.5 10v2M96.5 34v1M96.5 36v1M98.5 9v1M98.5 11v1M98.5 14v1M98.5 16v1M99.5 6v1M99.5 15v1M99.5 21v1M99.5 36v1M99.5 38v2M100.5 8v1M100.5 10v1M100.5 18v1M100.5 26v1M100.5 28v1M100.5 31v1M100.5 38v2M101.5 9v2M101.5 36v2M102.5 0v1M102.5 7v2M102.5 14v1M102.5 32v2M102.5 35v2M102.5 38v1M103.5 10v1M103.5 37v2M104.5 15v1M105.5 6v2M106.5 0v1M106.5 2v1M106.5 14v2M106.5 22v1M106.5 30v1M106.5 33v1M106.5 35v1M107.5 6v1M107.5 12v1M107.5 30v1M107.5 39v1M108.5 4v2M108.5 15v1M108.5 29v1M109.5 0v1M109.5 2v1M109.5 4v1M109.5 9v2M109.5 15v1M109.5 39v1M110.5 0v1M110.5 3v1M110.5 8v1M110.5 10v1M111.5 2v1M111.5 9v1M111.5 11v2M111.5 27v1M112.5 3v1M114.5 6v2M114.5 10v1M114.5 13v1M114.5 16v1M114.5 37v1M114.5 39v1"/><path stroke="#2174da" d="M5.5 26v2M14.5 15v2M14.5 18v1M14.5 33v2M20.5 17v3M20.5 30v2M22.5 34v1M24.5 26v1M25.5 16v3M25.5 30v1M25.5 33v4M26.5 17v2M26.5 29v1M26.5 31v2M26.5 35v1M31.5 33v1M31.5 36v1M39.5 13v1M43.5 24v1M45.5 26v1M47.5 17v1M47.5 32v2M47.5 38v1M50.5 16v3M50.5 33v2M50.5 36v1M53.5 20v1M53.5 33v2M55.5 28v1M55.5 31v1M56.5 7v1M56.5 11v1M56.5 13v1M57.5 7v1M57.5 19v1M57.5 23v1M57.5 25v1M57.5 31v1M57.5 37v1M58.5 35v1M61.5 14v2M61.5 19v1M61.5 38v1M62.5 4v2M62.5 17v1M62.5 32v1M62.5 38v2M63.5 12v2M63.5 28v1M63.5 30v1M64.5 0v2M64.5 5v2M64.5 11v3M64.5 30v2M64.5 33v1M64.5 35v1M64.5 39v1M65.5 10v1M65.5 16v1M66.5 10v1M66.5 12v2M66.5 15v1M66.5 19v1M66.5 23v1M67.5 3v1M67.5 5v1M67.5 15v4M67.5 38v1M68.5 7v2M68.5 12v3M68.5 17v1M68.5 37v1M68.5 39v1M69.5 9v2M69.5 15v2M69.5 33v2M69.5 37v1M70.5 1v1M70.5 18v1M70.5 35v4M71.5 3v2M71.5 7v2M71.5 13v4M71.5 39v1M72.5 12v1M73.5 4v1M73.5 8v1M73.5 32v1M73.5 35v1M74.5 10v5M74.5 20v1M74.5 33v1M74.5 36v2M75.5 7v2M75.5 20v4M75.5 26v1M75.5 28v1M75.5 32v1M75.5 34v1M75.5 37v3M76.5 10v1M76.5 20v1M76.5 25v1M76.5 33v3M77.5 5v7M77.5 15v1M78.5 1v1M78.5 15v1M78.5 22v1M78.5 33v4M78.5 39v1M80.5 7v2M80.5 15v1M80.5 33v1M81.5 12v1M82.5 15v2M82.5 36v3M83.5 20v1M83.5 23v1M83.5 28v2M83.5 32v2M85.5 3v1M85.5 8v1M85.5 11v1M85.5 14v1M85.5 17v1M85.5 19v3M85.5 39v1M86.5 28v1M86.5 32v2M86.5 37v2M88.5 0v1M88.5 3v1M88.5 6v1M88.5 14v1M88.5 34v1M88.5 36v1M88.5 39v1M89.5 36v2M89.5 39v1M90.5 3v3M90.5 7v2M90.5 16v1M90.5 18v3M90.5 31v1M90.5 33v1M91.5 1v1M91.5 5v2M91.5 13v2M91.5 16v3M91.5 20v1M91.5 22v1M91.5 29v1M92.5 0v1M93.5 11v1M93.5 16v1M94.5 0v1M94.5 3v1M94.5 16v3M94.5 21v1M94.5 23v1M94.5 29v1M94.5 34v2M95.5 1v1M95.5 4v1M95.5 10v2M95.5 13v1M95.5 33v1M95.5 35v3M96.5 15v1M96.5 27v1M98.5 5v1M98.5 8v1M98.5 12v2M98.5 15v1M98.5 36v4M99.5 18v3M99.5 23v1M99.5 32v1M100.5 2v1M100.5 7v1M100.5 19v1M100.5 25v1M100.5 27v1M100.5 29v1M101.5 11v3M101.5 19v1M101.5 35v1M102.5 1v1M102.5 34v1M103.5 1v1M103.5 15v2M103.5 39v1M104.5 31v1M104.5 34v1M104.5 38v2M105.5 15v4M106.5 16v1M106.5 18v2M106.5 21v1M106.5 34v1M107.5 9v2M107.5 14v3M107.5 29v1M107.5 32v1M108.5 11v4M108.5 16v1M108.5 21v1M109.5 8v1M109.5 16v1M109.5 18v2M109.5 33v2M109.5 37v1M110.5 7v1M110.5 9v1M110.5 15v1M110.5 22v1M111.5 3v1M111.5 5v1M111.5 7v1M111.5 30v1M111.5 39v1M112.5 1v1M112.5 4v2M112.5 25v1M113.5 9v1M113.5 15v1M113.5 21v1M113.5 29v1M113.5 31v3M114.5 8v2M114.5 11v2M114.5 14v1M114.5 33v1M114.5 38v1"/><path stroke="#1c90d1" d="M14.5 17v1M14.5 19v2M20.5 20v1M20.5 23v1M20.5 26v4M25.5 19v1M25.5 24v1M25.5 27v3M25.5 31v2M26.5 25v1M26.5 28v1M26.5 30v1M39.5 19v2M39.5 30v1M39.5 34v1M44.5 30v2M47.5 18v1M47.5 21v1M47.5 27v5M50.5 19v4M50.5 31v2M50.5 35v1M53.5 24v2M53.5 27v1M53.5 30v3M57.5 8v1M57.5 15v4M57.5 24v1M57.5 29v1M57.5 32v2M57.5 35v1M58.5 4v1M58.5 34v1M58.5 36v1M61.5 1v1M61.5 3v1M61.5 22v1M61.5 35v2M61.5 39v1M62.5 18v1M62.5 20v1M62.5 24v1M62.5 28v2M62.5 31v1M62.5 34v4M63.5 14v2M63.5 18v1M63.5 20v1M63.5 27v1M63.5 29v1M63.5 31v1M63.5 33v2M64.5 14v1M64.5 21v1M64.5 26v2M64.5 29v1M64.5 32v1M65.5 7v1M65.5 11v1M65.5 37v1M66.5 22v1M66.5 24v1M67.5 0v1M67.5 2v1M67.5 7v1M67.5 10v1M67.5 12v2M67.5 19v2M67.5 29v3M67.5 33v5M68.5 0v1M68.5 6v1M68.5 10v2M68.5 18v1M68.5 38v1M69.5 0v1M69.5 6v3M69.5 11v3M69.5 17v1M69.5 31v2M69.5 35v2M70.5 19v1M70.5 34v1M70.5 39v1M71.5 17v1M71.5 30v3M71.5 35v1M73.5 5v1M73.5 7v1M73.5 9v3M73.5 13v1M73.5 17v1M73.5 27v1M73.5 31v1M73.5 36v2M74.5 32v1M74.5 34v2M74.5 38v1M75.5 31v1M76.5 14v1M76.5 19v1M76.5 27v1M76.5 30v3M77.5 4v1M77.5 14v1M77.5 16v1M77.5 32v1M78.5 16v1M78.5 29v3M80.5 6v1M80.5 9v1M80.5 20v2M80.5 32v1M81.5 14v1M82.5 17v2M82.5 20v1M82.5 33v3M83.5 21v2M83.5 36v1M85.5 6v2M85.5 12v2M85.5 28v1M85.5 35v1M86.5 4v1M86.5 20v3M86.5 24v1M87.5 0v1M87.5 11v2M88.5 4v1M88.5 7v2M88.5 11v2M88.5 16v2M89.5 11v1M89.5 34v2M90.5 0v1M90.5 30v1M90.5 32v1M91.5 24v3M91.5 30v3M92.5 4v1M92.5 8v1M92.5 11v2M93.5 7v3M93.5 24v1M93.5 27v1M94.5 8v1M94.5 33v1M95.5 12v1M95.5 14v1M95.5 31v2M95.5 38v1M96.5 12v1M96.5 14v1M96.5 23v2M96.5 26v1M98.5 6v2M98.5 10v1M98.5 19v2M98.5 22v1M98.5 24v2M98.5 32v1M98.5 34v2M99.5 22v1M99.5 29v1M99.5 31v1M99.5 33v3M100.5 3v1M100.5 5v2M100.5 23v2M100.5 30v1M101.5 18v1M101.5 20v1M101.5 29v1M101.5 32v3M102.5 15v2M102.5 18v2M102.5 22v1M102.5 39v1M103.5 17v2M104.5 16v1M104.5 35v3M105.5 5v1M105.5 8v4M105.5 13v2M105.5 19v1M105.5 25v1M105.5 35v1M105.5 39v1M106.5 20v1M106.5 23v2M106.5 27v3M107.5 17v1M107.5 25v1M107.5 28v1M107.5 33v3M107.5 38v1M108.5 9v2M108.5 17v1M108.5 20v1M108.5 24v3M109.5 5v2M109.5 17v1M109.5 29v2M109.5 32v1M109.5 35v2M110.5 11v1M110.5 16v2M110.5 19v3M110.5 23v1M112.5 6v1M112.5 8v1M112.5 26v1M112.5 30v1M112.5 33v2M112.5 36v1M113.5 10v1M113.5 14v1M113.5 16v1M113.5 18v1M113.5 20v1M113.5 22v1M113.5 30v1M113.5 34v2M114.5 17v2M114.5 25v1M114.5 32v1"/><path stroke="#21a8bf" d="M14.5 21v1M14.5 27v6M20.5 24v2M25.5 25v2M26.5 23v2M26.5 26v2M39.5 21v9M39.5 31v3M44.5 24v1M44.5 27v1M47.5 19v1M47.5 22v2M50.5 24v3M50.5 28v3M53.5 23v1M56.5 15v1M56.5 28v1M56.5 32v2M56.5 36v1M57.5 9v2M57.5 12v1M57.5 14v1M57.5 20v1M57.5 36v1M58.5 21v1M61.5 21v1M61.5 23v1M62.5 19v1M62.5 22v1M62.5 25v1M62.5 30v1M63.5 16v2M63.5 19v1M63.5 21v1M63.5 24v1M63.5 26v1M64.5 22v3M65.5 6v1M65.5 8v2M65.5 12v4M65.5 17v1M65.5 20v1M65.5 38v2M67.5 1v1M67.5 8v1M67.5 21v3M67.5 28v1M67.5 32v1M67.5 39v1M68.5 36v1M69.5 14v1M69.5 19v2M69.5 29v2M70.5 20v4M70.5 29v1M70.5 33v1M71.5 19v1M71.5 29v1M72.5 1v1M72.5 3v1M72.5 10v2M72.5 13v1M72.5 39v1M73.5 18v1M73.5 38v2M74.5 15v3M74.5 21v1M74.5 30v2M74.5 39v1M75.5 24v2M75.5 29v2M76.5 16v1M76.5 21v1M76.5 24v1M76.5 26v1M77.5 31v1M78.5 32v1M80.5 11v1M80.5 17v3M80.5 22v1M80.5 31v1M81.5 15v1M81.5 21v1M81.5 23v1M81.5 38v1M82.5 21v2M82.5 32v1M83.5 34v2M85.5 22v1M85.5 24v1M85.5 27v1M85.5 34v1M85.5 36v1M86.5 6v3M86.5 19v1M86.5 23v1M87.5 7v1M87.5 10v1M87.5 14v1M87.5 16v1M87.5 37v1M88.5 5v1M88.5 15v1M88.5 33v1M88.5 37v2M89.5 12v2M89.5 22v1M90.5 21v2M90.5 27v3M90.5 37v1M91.5 23v1M91.5 27v2M92.5 5v1M92.5 9v1M92.5 32v3M92.5 36v1M92.5 39v1M93.5 10v1M93.5 25v2M93.5 28v1M94.5 20v1M94.5 22v1M94.5 24v1M94.5 30v1M94.5 32v1M95.5 15v2M95.5 18v1M95.5 25v1M95.5 28v3M95.5 34v1M95.5 39v1M96.5 13v1M96.5 16v1M96.5 25v1M96.5 28v2M96.5 33v1M98.5 17v2M98.5 21v1M98.5 23v1M98.5 33v1M99.5 26v3M99.5 30v1M100.5 4v1M100.5 20v3M101.5 14v2M101.5 22v1M101.5 25v1M101.5 28v1M101.5 30v1M102.5 17v1M102.5 21v1M102.5 23v3M102.5 31v1M103.5 19v1M103.5 28v1M103.5 31v1M103.5 35v2M104.5 18v2M104.5 30v1M104.5 32v2M105.5 12v1M105.5 24v1M105.5 28v1M105.5 34v1M105.5 37v1M106.5 25v2M107.5 13v1M107.5 26v1M107.5 36v2M108.5 18v2M108.5 22v2M108.5 27v2M109.5 20v1M109.5 22v1M109.5 27v1M109.5 31v1M110.5 24v1M110.5 28v2M111.5 13v3M111.5 20v1M112.5 7v1M112.5 10v2M112.5 28v2M112.5 35v1M113.5 12v2M113.5 17v1M113.5 19v1M113.5 23v2M113.5 28v1M114.5 19v1M114.5 23v1M114.5 29v3"/><path stroke="#3fb69f" d="M14.5 23v1M14.5 25v2M56.5 14v1M56.5 16v2M56.5 19v1M56.5 22v1M56.5 25v3M56.5 31v1M56.5 34v2M56.5 37v1M56.5 39v1M57.5 11v1M57.5 13v1M57.5 21v2M58.5 22v2M58.5 32v2M61.5 20v1M61.5 34v1M62.5 21v1M62.5 23v1M62.5 26v2M63.5 22v1M63.5 25v1M64.5 25v1M65.5 0v1M65.5 5v1M65.5 18v2M65.5 21v1M67.5 9v1M67.5 11v1M67.5 25v1M67.5 27v1M68.5 3v1M68.5 5v1M68.5 19v1M68.5 34v2M69.5 18v1M69.5 28v1M70.5 24v2M70.5 30v2M71.5 18v1M71.5 24v5M72.5 5v1M72.5 14v2M72.5 38v1M73.5 6v1M73.5 15v2M74.5 25v5M76.5 15v1M76.5 17v1M76.5 22v1M76.5 28v2M77.5 17v1M77.5 22v1M77.5 28v3M80.5 10v1M80.5 16v1M80.5 26v1M80.5 30v1M81.5 16v4M81.5 25v1M81.5 28v1M81.5 34v4M81.5 39v1M82.5 23v1M82.5 30v2M85.5 23v1M85.5 29v1M85.5 32v2M85.5 37v2M86.5 5v1M87.5 13v1M87.5 17v2M87.5 36v1M87.5 39v1M88.5 19v3M88.5 32v1M89.5 14v4M89.5 21v1M89.5 23v1M89.5 25v1M89.5 33v1M90.5 23v3M90.5 34v1M91.5 21v1M92.5 3v1M92.5 7v1M92.5 10v1M92.5 31v1M92.5 35v1M92.5 38v1M94.5 19v1M94.5 25v1M94.5 31v1M95.5 17v1M95.5 19v1M95.5 27v1M96.5 17v2M96.5 22v1M98.5 26v2M99.5 24v2M101.5 16v2M101.5 21v1M101.5 23v2M101.5 26v2M102.5 26v3M102.5 30v1M103.5 25v1M103.5 29v2M103.5 32v3M104.5 20v1M104.5 22v1M104.5 29v1M105.5 20v2M105.5 26v1M105.5 29v5M105.5 36v1M107.5 27v1M109.5 21v1M109.5 25v2M109.5 28v1M110.5 12v2M110.5 18v1M110.5 27v1M111.5 16v4M111.5 21v1M111.5 31v1M111.5 38v1M112.5 9v1M112.5 12v1M112.5 22v2M112.5 27v1M112.5 31v2M113.5 11v1M113.5 25v1M114.5 20v1M114.5 22v1M114.5 24v1M114.5 26v1M114.5 28v1"/><path stroke="#75bc7b" d="M14.5 24v1M56.5 18v1M56.5 20v2M56.5 23v1M56.5 29v2M56.5 38v1M58.5 24v1M58.5 31v1M61.5 33v1M63.5 23v1M65.5 1v1M65.5 22v1M65.5 27v2M65.5 30v1M65.5 33v2M65.5 36v1M67.5 24v1M67.5 26v1M68.5 2v1M68.5 20v4M68.5 28v1M68.5 30v1M68.5 32v2M69.5 21v1M69.5 24v2M69.5 27v1M70.5 26v3M70.5 32v1M71.5 20v2M72.5 6v1M72.5 9v1M72.5 16v2M73.5 14v1M73.5 20v1M74.5 22v3M76.5 18v1M76.5 23v1M77.5 18v4M77.5 24v1M77.5 26v1M80.5 23v1M80.5 25v1M80.5 28v2M81.5 20v1M81.5 24v1M81.5 26v2M81.5 29v1M81.5 33v1M82.5 24v1M85.5 26v1M85.5 30v2M87.5 4v3M87.5 24v1M87.5 38v1M88.5 18v1M88.5 22v1M88.5 31v1M89.5 18v2M89.5 24v1M89.5 26v1M89.5 31v2M90.5 35v2M92.5 29v1M92.5 37v1M94.5 26v3M95.5 21v1M95.5 23v1M95.5 26v1M96.5 19v3M96.5 32v1M102.5 20v1M102.5 29v1M103.5 20v3M103.5 24v1M103.5 26v1M104.5 17v1M104.5 21v1M104.5 23v2M104.5 26v1M105.5 22v1M105.5 27v1M109.5 23v1M110.5 25v2M111.5 22v1M111.5 32v1M112.5 16v1M112.5 21v1M113.5 26v2M114.5 27v1"/><path stroke="#b1be57" d="M56.5 24v1M58.5 26v5M61.5 32v1M65.5 23v1M65.5 31v2M65.5 35v1M69.5 26v1M71.5 22v1M72.5 8v1M72.5 33v1M73.5 19v1M73.5 26v1M77.5 23v1M77.5 25v1M77.5 27v1M80.5 24v1M80.5 27v1M81.5 30v3M82.5 26v1M82.5 29v1M85.5 25v1M87.5 19v1M87.5 33v1M89.5 20v1M89.5 28v3M92.5 25v2M92.5 28v1M92.5 30v1M95.5 20v1M95.5 22v1M95.5 24v1M96.5 30v2M98.5 28v3M103.5 23v1M103.5 27v1M104.5 25v1M104.5 28v1M105.5 23v1M111.5 33v5M112.5 13v1M112.5 18v3"/><path stroke="#e1be41" d="M58.5 25v1M61.5 31v1M65.5 3v2M65.5 24v3M68.5 27v1M68.5 29v1M68.5 31v1M69.5 22v2M71.5 23v1M72.5 22v5M72.5 35v2M73.5 22v2M73.5 25v1M82.5 25v1M82.5 27v2M87.5 21v3M87.5 28v1M87.5 30v3M87.5 34v2M88.5 23v2M88.5 30v1M89.5 27v1M92.5 24v1M92.5 27v1M98.5 31v1M104.5 27v1M112.5 14v2M112.5 17v1"/><path stroke="#f6cf2e" d="M68.5 24v1M68.5 26v1M72.5 7v1M72.5 18v4M72.5 31v2M72.5 34v1M72.5 37v1M73.5 21v1M73.5 24v1M87.5 25v3M92.5 23v1"/><path stroke="#f8ee1e" d="M68.5 25v1M72.5 27v4M87.5 20v1M87.5 29v1M92.5 22v1"/></g>
<path d="M716.4 1123.9Q966.4 1132.0 1046.4 1134.6T1123.4 1135.8" fill="none" stroke="#f01818" stroke-width="1.1"/><path d="M716.4 1209.5L1123.4 1199.8" fill="none" stroke="#f01818" stroke-width="1.1" stroke-dasharray="4 3"/><rect x="716.4" y="1121.0" width="407.0" height="94.2" fill="none" stroke="#555" stroke-width="0.8"/><path d="M716.4 1121.0v-3M716.4 1215.2v3M808.4 1121.0v-3M808.4 1215.2v3M914.6 1121.0v-3M914.6 1215.2v3M1024.3 1121.0v-3M1024.3 1215.2v3M1123.4 1121.0v-3M1123.4 1215.2v3M716.4 1121.0h-3M1123.4 1121.0h3M716.4 1144.5h-3M1123.4 1144.5h3M716.4 1168.1h-3M1123.4 1168.1h3M716.4 1191.7h-3M1123.4 1191.7h3M716.4 1215.2h-3M1123.4 1215.2h3" stroke="#555" stroke-width="0.7" fill="none"/><g font-size="9.8" fill="#333" text-anchor="end"><text x="707.5" y="1148.0">03:00</text><text x="707.5" y="1171.6">24:00</text><text x="707.5" y="1195.2">21:00</text><text x="707.5" y="1218.7">18:00</text></g><text transform="translate(676.5 1168.1) rotate(-90)" font-size="10.8" fill="#333" text-anchor="middle">LT (hour)</text>
<text x="719" y="1137.2" font-size="9.3" font-weight="bold" fill="#111">(c)</text>
<rect x="1138.2" y="1121.5" width="10.8" height="93.7" fill="url(#f4par)"/><g font-size="9.6" fill="#444"><text x="1152.5" y="1124.9">8</text><text x="1152.5" y="1148.5">6</text><text x="1152.5" y="1172.0">4</text><text x="1152.5" y="1195.6">2</text><text x="1152.5" y="1219.1">0</text></g><text transform="translate(1168.5 1168.1) rotate(-90)" font-size="9.8" fill="#444" text-anchor="middle">Fre. (MHz)</text>
<g font-size="10.3" fill="#333" text-anchor="middle"><text x="716.4" y="1236">Mar.6</text><text x="808.4" y="1236">Apr.1</text><text x="914.6" y="1236">May 1</text><text x="1024.3" y="1236">Jun.1</text><text x="1123.4" y="1236">Jun.29</text></g>
<rect x="715.9" y="1249.5" width="178.8" height="160.3" fill="none" stroke="#555" stroke-width="0.8"/><path d="M715.9 1409.8v-3M715.9 1249.5v3M730.8 1409.8v-1.6M730.8 1249.5v1.6M745.7 1409.8v-1.6M745.7 1249.5v1.6M760.6 1409.8v-3M760.6 1249.5v3M775.5 1409.8v-1.6M775.5 1249.5v1.6M790.4 1409.8v-1.6M790.4 1249.5v1.6M805.3 1409.8v-3M805.3 1249.5v3M820.2 1409.8v-1.6M820.2 1249.5v1.6M835.1 1409.8v-1.6M835.1 1249.5v1.6M850.0 1409.8v-3M850.0 1249.5v3M864.9 1409.8v-1.6M864.9 1249.5v1.6M879.8 1409.8v-1.6M879.8 1249.5v1.6M894.7 1409.8v-3M894.7 1249.5v3M715.9 1409.8h3M894.7 1409.8h-3M715.9 1396.4h1.6M894.7 1396.4h-1.6M715.9 1383.1h3M894.7 1383.1h-3M715.9 1369.7h1.6M894.7 1369.7h-1.6M715.9 1356.4h3M894.7 1356.4h-3M715.9 1343.0h1.6M894.7 1343.0h-1.6M715.9 1329.7h3M894.7 1329.7h-3M715.9 1316.3h1.6M894.7 1316.3h-1.6M715.9 1302.9h3M894.7 1302.9h-3M715.9 1289.6h1.6M894.7 1289.6h-1.6M715.9 1276.2h3M894.7 1276.2h-3M715.9 1262.9h1.6M894.7 1262.9h-1.6M715.9 1249.5h3M894.7 1249.5h-3" stroke="#555" stroke-width="0.7" fill="none"/><g font-size="10.3" fill="#333" text-anchor="end"><text x="711.4" y="1413.5">0</text><text x="711.4" y="1386.8">20</text><text x="711.4" y="1360.1">40</text><text x="711.4" y="1333.4">60</text><text x="711.4" y="1306.6">80</text><text x="711.4" y="1279.9">100</text><text x="711.4" y="1253.2">120</text></g><g font-size="10.3" fill="#333" text-anchor="middle"><text x="715.9" y="1427">18:00</text><text x="760.6" y="1427">21:00</text><text x="805.3" y="1427">24:00</text><text x="850.0" y="1427">03:00</text><text x="894.7" y="1427">06:00</text></g><text x="805.3" y="1443.5" font-size="10.8" fill="#333" text-anchor="middle">LT (hour)</text><text transform="translate(687.5 1329.7) rotate(-90)" font-size="10.8" fill="#333" text-anchor="middle">Number</text><text x="727.5" y="1264.8" font-size="9.3" font-weight="bold" fill="#111">(d)</text><path d="M715.9 1293.6L719.6 1288.2L723.4 1289.6L727.1 1294.9L730.8 1297.6L734.5 1297.6L738.2 1297.6L742.0 1298.9L745.7 1302.9L749.4 1300.3L753.1 1301.6L756.9 1300.3L760.6 1300.3L764.3 1300.3L768.0 1300.3L771.8 1292.2L775.5 1296.3L779.2 1298.9L783.0 1300.3L786.7 1304.3L790.4 1308.3L794.1 1310.9L797.9 1304.3L801.6 1309.6L805.3 1310.9L809.0 1310.9L812.8 1315.0L816.5 1315.0L820.2 1310.9L823.9 1309.6L827.6 1309.6L831.4 1316.3L835.1 1319.0L838.8 1316.3L842.6 1319.0L846.3 1320.3L850.0 1320.3L853.7 1325.6L857.5 1331.0L861.2 1332.3L864.9 1339.0L868.6 1344.3L872.4 1349.7L876.1 1347.0L879.8 1341.7L883.5 1328.3L887.2 1317.6L891.0 1306.9L894.7 1302.9" fill="none" stroke="#c58be6" stroke-width="0.8"/><path d="M715.9 1293.6h0M719.6 1288.2h0M723.4 1289.6h0M727.1 1294.9h0M730.8 1297.6h0M734.5 1297.6h0M738.2 1297.6h0M742.0 1298.9h0M745.7 1302.9h0M749.4 1300.3h0M753.1 1301.6h0M756.9 1300.3h0M760.6 1300.3h0M764.3 1300.3h0M768.0 1300.3h0M771.8 1292.2h0M775.5 1296.3h0M779.2 1298.9h0M783.0 1300.3h0M786.7 1304.3h0M790.4 1308.3h0M794.1 1310.9h0M797.9 1304.3h0M801.6 1309.6h0M805.3 1310.9h0M809.0 1310.9h0M812.8 1315.0h0M816.5 1315.0h0M820.2 1310.9h0M823.9 1309.6h0M827.6 1309.6h0M831.4 1316.3h0M835.1 1319.0h0M838.8 1316.3h0M842.6 1319.0h0M846.3 1320.3h0M850.0 1320.3h0M853.7 1325.6h0M857.5 1331.0h0M861.2 1332.3h0M864.9 1339.0h0M868.6 1344.3h0M872.4 1349.7h0M876.1 1347.0h0M879.8 1341.7h0M883.5 1328.3h0M887.2 1317.6h0M891.0 1306.9h0M894.7 1302.9h0" stroke="#a22fd3" stroke-width="2.7" stroke-linecap="round"/><path d="M715.9 1302.9L719.6 1304.3L723.4 1313.6L727.1 1319.0L730.8 1306.9L734.5 1308.3L738.2 1308.3L742.0 1310.9L745.7 1312.3L749.4 1312.3L753.1 1312.3L756.9 1315.0L760.6 1315.0L764.3 1312.3L768.0 1312.3L771.8 1301.6L775.5 1304.3L779.2 1305.6L783.0 1306.9L786.7 1312.3L790.4 1316.3L794.1 1317.6L797.9 1310.9L801.6 1313.6L805.3 1315.0L809.0 1319.0L812.8 1320.3L816.5 1319.0L820.2 1319.0L823.9 1316.3L827.6 1323.0L831.4 1320.3L835.1 1325.6L838.8 1327.0L842.6 1329.7L846.3 1336.3L850.0 1337.7L853.7 1344.3L857.5 1345.7L861.2 1349.7L864.9 1349.7L868.6 1352.4L872.4 1360.4L876.1 1359.0L879.8 1355.0L883.5 1340.3L887.2 1327.0L891.0 1319.0L894.7 1312.3" fill="none" stroke="#5fd6e2" stroke-width="0.8"/><path d="M715.9 1302.9h0M719.6 1304.3h0M723.4 1313.6h0M727.1 1319.0h0M730.8 1306.9h0M734.5 1308.3h0M738.2 1308.3h0M742.0 1310.9h0M745.7 1312.3h0M749.4 1312.3h0M753.1 1312.3h0M756.9 1315.0h0M760.6 1315.0h0M764.3 1312.3h0M768.0 1312.3h0M771.8 1301.6h0M775.5 1304.3h0M779.2 1305.6h0M783.0 1306.9h0M786.7 1312.3h0M790.4 1316.3h0M794.1 1317.6h0M797.9 1310.9h0M801.6 1313.6h0M805.3 1315.0h0M809.0 1319.0h0M812.8 1320.3h0M816.5 1319.0h0M820.2 1319.0h0M823.9 1316.3h0M827.6 1323.0h0M831.4 1320.3h0M835.1 1325.6h0M838.8 1327.0h0M842.6 1329.7h0M846.3 1336.3h0M850.0 1337.7h0M853.7 1344.3h0M857.5 1345.7h0M861.2 1349.7h0M864.9 1349.7h0M868.6 1352.4h0M872.4 1360.4h0M876.1 1359.0h0M879.8 1355.0h0M883.5 1340.3h0M887.2 1327.0h0M891.0 1319.0h0M894.7 1312.3h0" stroke="#21c6d8" stroke-width="2.7" stroke-linecap="round"/><path d="M715.9 1343.0L719.6 1345.7L723.4 1351.0L727.1 1344.3L730.8 1348.4L734.5 1343.0L738.2 1341.7L742.0 1339.0L745.7 1336.3L749.4 1332.3L753.1 1325.6L756.9 1327.0L760.6 1335.0L764.3 1332.3L768.0 1327.0L771.8 1321.6L775.5 1325.6L779.2 1328.3L783.0 1329.7L786.7 1328.3L790.4 1336.3L794.1 1332.3L797.9 1327.0L801.6 1329.7L805.3 1333.7L809.0 1336.3L812.8 1337.7L816.5 1343.0L820.2 1340.3L823.9 1340.3L827.6 1340.3L831.4 1348.4L835.1 1349.7L838.8 1349.7L842.6 1352.4L846.3 1357.7L850.0 1360.4L853.7 1363.0L857.5 1365.7L861.2 1365.7L864.9 1371.1L868.6 1372.4L872.4 1373.7L876.1 1376.4L879.8 1383.1L883.5 1376.4L887.2 1367.1L891.0 1352.4L894.7 1347.0" fill="none" stroke="#2f8443" stroke-width="0.8"/><path d="M715.9 1343.0h0M719.6 1345.7h0M723.4 1351.0h0M727.1 1344.3h0M730.8 1348.4h0M734.5 1343.0h0M738.2 1341.7h0M742.0 1339.0h0M745.7 1336.3h0M749.4 1332.3h0M753.1 1325.6h0M756.9 1327.0h0M760.6 1335.0h0M764.3 1332.3h0M768.0 1327.0h0M771.8 1321.6h0M775.5 1325.6h0M779.2 1328.3h0M783.0 1329.7h0M786.7 1328.3h0M790.4 1336.3h0M794.1 1332.3h0M797.9 1327.0h0M801.6 1329.7h0M805.3 1333.7h0M809.0 1336.3h0M812.8 1337.7h0M816.5 1343.0h0M820.2 1340.3h0M823.9 1340.3h0M827.6 1340.3h0M831.4 1348.4h0M835.1 1349.7h0M838.8 1349.7h0M842.6 1352.4h0M846.3 1357.7h0M850.0 1360.4h0M853.7 1363.0h0M857.5 1365.7h0M861.2 1365.7h0M864.9 1371.1h0M868.6 1372.4h0M872.4 1373.7h0M876.1 1376.4h0M879.8 1383.1h0M883.5 1376.4h0M887.2 1367.1h0M891.0 1352.4h0M894.7 1347.0h0" stroke="#046a1d" stroke-width="2.7" stroke-linecap="round"/><path d="M715.9 1377.7L719.6 1376.4L723.4 1368.4L727.1 1369.7L730.8 1365.7L734.5 1361.7L738.2 1357.7L742.0 1351.0L745.7 1352.4L749.4 1349.7L753.1 1343.0L756.9 1348.4L760.6 1351.0L764.3 1349.7L768.0 1345.7L771.8 1343.0L775.5 1347.0L779.2 1347.0L783.0 1355.0L786.7 1347.0L790.4 1348.4L794.1 1344.3L797.9 1347.0L801.6 1347.0L805.3 1359.0L809.0 1351.0L812.8 1355.0L816.5 1356.4L820.2 1359.0L823.9 1360.4L827.6 1363.0L831.4 1368.4L835.1 1365.7L838.8 1371.1L842.6 1375.1L846.3 1380.4L850.0 1384.4L853.7 1387.1L857.5 1385.8L861.2 1384.4L864.9 1383.1L868.6 1385.8L872.4 1389.8L876.1 1389.8L879.8 1392.4L883.5 1391.1L887.2 1388.4L891.0 1379.1L894.7 1376.4" fill="none" stroke="#ffc060" stroke-width="0.8"/><path d="M715.9 1377.7h0M719.6 1376.4h0M723.4 1368.4h0M727.1 1369.7h0M730.8 1365.7h0M734.5 1361.7h0M738.2 1357.7h0M742.0 1351.0h0M745.7 1352.4h0M749.4 1349.7h0M753.1 1343.0h0M756.9 1348.4h0M760.6 1351.0h0M764.3 1349.7h0M768.0 1345.7h0M771.8 1343.0h0M775.5 1347.0h0M779.2 1347.0h0M783.0 1355.0h0M786.7 1347.0h0M790.4 1348.4h0M794.1 1344.3h0M797.9 1347.0h0M801.6 1347.0h0M805.3 1359.0h0M809.0 1351.0h0M812.8 1355.0h0M816.5 1356.4h0M820.2 1359.0h0M823.9 1360.4h0M827.6 1363.0h0M831.4 1368.4h0M835.1 1365.7h0M838.8 1371.1h0M842.6 1375.1h0M846.3 1380.4h0M850.0 1384.4h0M853.7 1387.1h0M857.5 1385.8h0M861.2 1384.4h0M864.9 1383.1h0M868.6 1385.8h0M872.4 1389.8h0M876.1 1389.8h0M879.8 1392.4h0M883.5 1391.1h0M887.2 1388.4h0M891.0 1379.1h0M894.7 1376.4h0" stroke="#ffa114" stroke-width="2.7" stroke-linecap="round"/><path d="M715.9 1385.8L719.6 1385.8L723.4 1387.1L727.1 1380.4L730.8 1377.7L734.5 1371.1L738.2 1369.7L742.0 1367.1L745.7 1364.4L749.4 1357.7L753.1 1356.4L756.9 1356.4L760.6 1364.4L764.3 1360.4L768.0 1355.0L771.8 1352.4L775.5 1364.4L779.2 1367.1L783.0 1364.4L786.7 1364.4L790.4 1361.7L794.1 1364.4L797.9 1372.4L801.6 1365.7L805.3 1377.7L809.0 1372.4L812.8 1373.7L816.5 1373.7L820.2 1371.1L823.9 1375.1L827.6 1373.7L831.4 1380.4L835.1 1383.1L838.8 1381.7L842.6 1391.1L846.3 1392.4L850.0 1395.1L853.7 1396.4L857.5 1389.8L861.2 1392.4L864.9 1392.4L868.6 1396.4L872.4 1397.8L876.1 1399.1L879.8 1401.8L883.5 1403.1L887.2 1399.1L891.0 1393.8L894.7 1391.1" fill="none" stroke="#f0525c" stroke-width="0.8"/><path d="M715.9 1385.8h0M719.6 1385.8h0M723.4 1387.1h0M727.1 1380.4h0M730.8 1377.7h0M734.5 1371.1h0M738.2 1369.7h0M742.0 1367.1h0M745.7 1364.4h0M749.4 1357.7h0M753.1 1356.4h0M756.9 1356.4h0M760.6 1364.4h0M764.3 1360.4h0M768.0 1355.0h0M771.8 1352.4h0M775.5 1364.4h0M779.2 1367.1h0M783.0 1364.4h0M786.7 1364.4h0M790.4 1361.7h0M794.1 1364.4h0M797.9 1372.4h0M801.6 1365.7h0M805.3 1377.7h0M809.0 1372.4h0M812.8 1373.7h0M816.5 1373.7h0M820.2 1371.1h0M823.9 1375.1h0M827.6 1373.7h0M831.4 1380.4h0M835.1 1383.1h0M838.8 1381.7h0M842.6 1391.1h0M846.3 1392.4h0M850.0 1395.1h0M853.7 1396.4h0M857.5 1389.8h0M861.2 1392.4h0M864.9 1392.4h0M868.6 1396.4h0M872.4 1397.8h0M876.1 1399.1h0M879.8 1401.8h0M883.5 1403.1h0M887.2 1399.1h0M891.0 1393.8h0M894.7 1391.1h0" stroke="#ee1122" stroke-width="2.7" stroke-linecap="round"/>
<rect x="944.4" y="1249.5" width="179.5" height="160.3" fill="none" stroke="#555" stroke-width="0.8"/><path d="M944.4 1409.8v-3M944.4 1249.5v3M959.4 1409.8v-1.6M959.4 1249.5v1.6M974.3 1409.8v-1.6M974.3 1249.5v1.6M989.3 1409.8v-3M989.3 1249.5v3M1004.2 1409.8v-1.6M1004.2 1249.5v1.6M1019.2 1409.8v-1.6M1019.2 1249.5v1.6M1034.2 1409.8v-3M1034.2 1249.5v3M1049.1 1409.8v-1.6M1049.1 1249.5v1.6M1064.1 1409.8v-1.6M1064.1 1249.5v1.6M1079.0 1409.8v-3M1079.0 1249.5v3M1094.0 1409.8v-1.6M1094.0 1249.5v1.6M1108.9 1409.8v-1.6M1108.9 1249.5v1.6M1123.9 1409.8v-3M1123.9 1249.5v3M944.4 1409.8h3M1123.9 1409.8h-3M944.4 1393.8h1.6M1123.9 1393.8h-1.6M944.4 1377.7h3M1123.9 1377.7h-3M944.4 1361.7h1.6M1123.9 1361.7h-1.6M944.4 1345.7h3M1123.9 1345.7h-3M944.4 1329.7h1.6M1123.9 1329.7h-1.6M944.4 1313.6h3M1123.9 1313.6h-3M944.4 1297.6h1.6M1123.9 1297.6h-1.6M944.4 1281.6h3M1123.9 1281.6h-3M944.4 1265.5h1.6M1123.9 1265.5h-1.6M944.4 1249.5h3M1123.9 1249.5h-3" stroke="#555" stroke-width="0.7" fill="none"/><g font-size="10.3" fill="#333" text-anchor="end"><text x="939.9" y="1413.5">0</text><text x="939.9" y="1381.4">20</text><text x="939.9" y="1349.4">40</text><text x="939.9" y="1317.3">60</text><text x="939.9" y="1285.3">80</text><text x="939.9" y="1253.2">100</text></g><g font-size="10.3" fill="#333" text-anchor="middle"><text x="944.4" y="1427">18:00</text><text x="989.3" y="1427">21:00</text><text x="1034.2" y="1427">24:00</text><text x="1079.0" y="1427">03:00</text><text x="1123.9" y="1427">06:00</text></g><text x="1034.2" y="1443.5" font-size="10.8" fill="#333" text-anchor="middle">LT (hour)</text><text transform="translate(916 1329.7) rotate(-90)" font-size="10.8" fill="#333" text-anchor="middle">Occurrence rate (%)</text><text x="956.3" y="1264.8" font-size="9.3" font-weight="bold" fill="#111">(e)</text><path d="M944.4 1406.6L948.1 1407.4L951.9 1408.2L955.6 1405.0L959.4 1393.8L963.1 1373.7L966.8 1360.9L970.6 1344.9L974.3 1336.1L978.1 1325.6L981.8 1316.8L985.5 1320.0L989.3 1328.0L993.0 1320.0L996.8 1322.4L1000.5 1329.7L1004.2 1336.1L1008.0 1335.3L1011.7 1333.7L1015.5 1329.7L1019.2 1319.2L1022.9 1308.0L1026.7 1316.8L1030.4 1322.4L1034.2 1325.6L1037.9 1336.1L1041.6 1335.3L1045.4 1331.3L1049.1 1340.1L1052.8 1344.1L1056.6 1344.1L1060.3 1336.9L1064.1 1336.9L1067.8 1343.3L1071.5 1358.5L1075.3 1372.1L1079.0 1376.9L1082.8 1377.7L1086.5 1380.1L1090.2 1385.0L1094.0 1386.6L1097.7 1387.4L1101.5 1389.0L1105.2 1403.4L1108.9 1406.6L1112.7 1407.4L1116.4 1409.8L1120.2 1409.8L1123.9 1409.8" fill="none" stroke="#c58be6" stroke-width="0.8"/><path d="M944.4 1406.6h0M948.1 1407.4h0M951.9 1408.2h0M955.6 1405.0h0M959.4 1393.8h0M963.1 1373.7h0M966.8 1360.9h0M970.6 1344.9h0M974.3 1336.1h0M978.1 1325.6h0M981.8 1316.8h0M985.5 1320.0h0M989.3 1328.0h0M993.0 1320.0h0M996.8 1322.4h0M1000.5 1329.7h0M1004.2 1336.1h0M1008.0 1335.3h0M1011.7 1333.7h0M1015.5 1329.7h0M1019.2 1319.2h0M1022.9 1308.0h0M1026.7 1316.8h0M1030.4 1322.4h0M1034.2 1325.6h0M1037.9 1336.1h0M1041.6 1335.3h0M1045.4 1331.3h0M1049.1 1340.1h0M1052.8 1344.1h0M1056.6 1344.1h0M1060.3 1336.9h0M1064.1 1336.9h0M1067.8 1343.3h0M1071.5 1358.5h0M1075.3 1372.1h0M1079.0 1376.9h0M1082.8 1377.7h0M1086.5 1380.1h0M1090.2 1385.0h0M1094.0 1386.6h0M1097.7 1387.4h0M1101.5 1389.0h0M1105.2 1403.4h0M1108.9 1406.6h0M1112.7 1407.4h0M1116.4 1409.8h0M1120.2 1409.8h0M1123.9 1409.8h0" stroke="#a22fd3" stroke-width="2.7" stroke-linecap="round"/><path d="M944.4 1405.0L948.1 1406.6L951.9 1407.4L955.6 1403.4L959.4 1390.6L963.1 1368.1L966.8 1355.3L970.6 1337.7L974.3 1328.0L978.1 1315.2L981.8 1306.4L985.5 1308.8L989.3 1314.4L993.0 1305.6L996.8 1315.2L1000.5 1321.6L1004.2 1331.3L1008.0 1329.7L1011.7 1328.8L1015.5 1321.6L1019.2 1313.6L1022.9 1303.2L1026.7 1310.4L1030.4 1318.4L1034.2 1322.4L1037.9 1329.7L1041.6 1331.3L1045.4 1327.2L1049.1 1333.7L1052.8 1338.5L1056.6 1336.1L1060.3 1333.7L1064.1 1331.3L1067.8 1335.3L1071.5 1351.3L1075.3 1362.5L1079.0 1368.9L1082.8 1367.3L1086.5 1376.1L1090.2 1379.3L1094.0 1382.5L1097.7 1384.2L1101.5 1384.2L1105.2 1401.8L1108.9 1405.0L1112.7 1406.6L1116.4 1409.8L1120.2 1409.8L1123.9 1409.8" fill="none" stroke="#5fd6e2" stroke-width="0.8"/><path d="M944.4 1405.0h0M948.1 1406.6h0M951.9 1407.4h0M955.6 1403.4h0M959.4 1390.6h0M963.1 1368.1h0M966.8 1355.3h0M970.6 1337.7h0M974.3 1328.0h0M978.1 1315.2h0M981.8 1306.4h0M985.5 1308.8h0M989.3 1314.4h0M993.0 1305.6h0M996.8 1315.2h0M1000.5 1321.6h0M1004.2 1331.3h0M1008.0 1329.7h0M1011.7 1328.8h0M1015.5 1321.6h0M1019.2 1313.6h0M1022.9 1303.2h0M1026.7 1310.4h0M1030.4 1318.4h0M1034.2 1322.4h0M1037.9 1329.7h0M1041.6 1331.3h0M1045.4 1327.2h0M1049.1 1333.7h0M1052.8 1338.5h0M1056.6 1336.1h0M1060.3 1333.7h0M1064.1 1331.3h0M1067.8 1335.3h0M1071.5 1351.3h0M1075.3 1362.5h0M1079.0 1368.9h0M1082.8 1367.3h0M1086.5 1376.1h0M1090.2 1379.3h0M1094.0 1382.5h0M1097.7 1384.2h0M1101.5 1384.2h0M1105.2 1401.8h0M1108.9 1405.0h0M1112.7 1406.6h0M1116.4 1409.8h0M1120.2 1409.8h0M1123.9 1409.8h0" stroke="#21c6d8" stroke-width="2.7" stroke-linecap="round"/><path d="M944.4 1403.4L948.1 1405.8L951.9 1407.4L955.6 1401.8L959.4 1385.8L963.1 1361.7L966.8 1340.9L970.6 1322.4L974.3 1309.6L978.1 1298.4L981.8 1295.2L985.5 1293.6L989.3 1292.8L993.0 1288.0L996.8 1300.8L1000.5 1307.2L1004.2 1318.4L1008.0 1320.8L1011.7 1310.4L1015.5 1307.2L1019.2 1293.6L1022.9 1291.2L1026.7 1291.2L1030.4 1303.2L1034.2 1305.6L1037.9 1320.0L1041.6 1317.6L1045.4 1313.6L1049.1 1317.6L1052.8 1317.6L1056.6 1323.2L1060.3 1308.8L1064.1 1313.6L1067.8 1313.6L1071.5 1331.3L1075.3 1348.1L1079.0 1353.7L1082.8 1355.3L1086.5 1366.5L1090.2 1371.3L1094.0 1365.7L1097.7 1370.5L1101.5 1374.5L1105.2 1397.0L1108.9 1401.8L1112.7 1404.2L1116.4 1409.8L1120.2 1409.8L1123.9 1409.8" fill="none" stroke="#2f8443" stroke-width="0.8"/><path d="M944.4 1403.4h0M948.1 1405.8h0M951.9 1407.4h0M955.6 1401.8h0M959.4 1385.8h0M963.1 1361.7h0M966.8 1340.9h0M970.6 1322.4h0M974.3 1309.6h0M978.1 1298.4h0M981.8 1295.2h0M985.5 1293.6h0M989.3 1292.8h0M993.0 1288.0h0M996.8 1300.8h0M1000.5 1307.2h0M1004.2 1318.4h0M1008.0 1320.8h0M1011.7 1310.4h0M1015.5 1307.2h0M1019.2 1293.6h0M1022.9 1291.2h0M1026.7 1291.2h0M1030.4 1303.2h0M1034.2 1305.6h0M1037.9 1320.0h0M1041.6 1317.6h0M1045.4 1313.6h0M1049.1 1317.6h0M1052.8 1317.6h0M1056.6 1323.2h0M1060.3 1308.8h0M1064.1 1313.6h0M1067.8 1313.6h0M1071.5 1331.3h0M1075.3 1348.1h0M1079.0 1353.7h0M1082.8 1355.3h0M1086.5 1366.5h0M1090.2 1371.3h0M1094.0 1365.7h0M1097.7 1370.5h0M1101.5 1374.5h0M1105.2 1397.0h0M1108.9 1401.8h0M1112.7 1404.2h0M1116.4 1409.8h0M1120.2 1409.8h0M1123.9 1409.8h0" stroke="#046a1d" stroke-width="2.7" stroke-linecap="round"/><path d="M944.4 1397.0L948.1 1405.0L951.9 1406.6L955.6 1400.2L959.4 1376.1L963.1 1352.1L966.8 1328.0L970.6 1304.0L974.3 1294.4L978.1 1278.4L981.8 1268.7L985.5 1270.3L989.3 1279.2L993.0 1267.1L996.8 1278.4L1000.5 1294.4L1004.2 1307.2L1008.0 1300.8L1011.7 1284.8L1015.5 1288.0L1019.2 1285.6L1022.9 1275.9L1026.7 1276.8L1030.4 1284.8L1034.2 1296.0L1037.9 1304.0L1041.6 1304.0L1045.4 1301.6L1049.1 1300.0L1052.8 1301.6L1056.6 1295.2L1060.3 1296.0L1064.1 1298.4L1067.8 1294.4L1071.5 1321.6L1075.3 1319.2L1079.0 1316.8L1082.8 1344.1L1086.5 1338.5L1090.2 1342.5L1094.0 1353.7L1097.7 1356.1L1101.5 1356.1L1105.2 1389.0L1108.9 1397.0L1112.7 1398.6L1116.4 1409.8L1120.2 1409.8L1123.9 1409.8" fill="none" stroke="#ffc060" stroke-width="0.8"/><path d="M944.4 1397.0h0M948.1 1405.0h0M951.9 1406.6h0M955.6 1400.2h0M959.4 1376.1h0M963.1 1352.1h0M966.8 1328.0h0M970.6 1304.0h0M974.3 1294.4h0M978.1 1278.4h0M981.8 1268.7h0M985.5 1270.3h0M989.3 1279.2h0M993.0 1267.1h0M996.8 1278.4h0M1000.5 1294.4h0M1004.2 1307.2h0M1008.0 1300.8h0M1011.7 1284.8h0M1015.5 1288.0h0M1019.2 1285.6h0M1022.9 1275.9h0M1026.7 1276.8h0M1030.4 1284.8h0M1034.2 1296.0h0M1037.9 1304.0h0M1041.6 1304.0h0M1045.4 1301.6h0M1049.1 1300.0h0M1052.8 1301.6h0M1056.6 1295.2h0M1060.3 1296.0h0M1064.1 1298.4h0M1067.8 1294.4h0M1071.5 1321.6h0M1075.3 1319.2h0M1079.0 1316.8h0M1082.8 1344.1h0M1086.5 1338.5h0M1090.2 1342.5h0M1094.0 1353.7h0M1097.7 1356.1h0M1101.5 1356.1h0M1105.2 1389.0h0M1108.9 1397.0h0M1112.7 1398.6h0M1116.4 1409.8h0M1120.2 1409.8h0M1123.9 1409.8h0" stroke="#ffa114" stroke-width="2.7" stroke-linecap="round"/><path d="M944.4 1392.2L948.1 1401.8L951.9 1409.8L955.6 1395.4L959.4 1363.3L963.1 1344.1L966.8 1313.6L970.6 1284.8L974.3 1278.4L978.1 1265.5L981.8 1257.5L985.5 1261.5L989.3 1273.5L993.0 1262.3L996.8 1272.7L1000.5 1286.4L1004.2 1301.6L1008.0 1289.6L1011.7 1277.6L1015.5 1272.7L1019.2 1280.8L1022.9 1263.9L1026.7 1255.1L1030.4 1278.4L1034.2 1283.2L1037.9 1289.6L1041.6 1279.2L1045.4 1279.2L1049.1 1299.2L1052.8 1273.5L1056.6 1291.2L1060.3 1263.9L1064.1 1265.5L1067.8 1293.6L1071.5 1306.4L1075.3 1299.2L1079.0 1293.6L1082.8 1329.7L1086.5 1324.8L1090.2 1323.2L1094.0 1336.1L1097.7 1345.7L1101.5 1338.5L1105.2 1369.7L1108.9 1383.4L1112.7 1377.7L1116.4 1409.8L1120.2 1409.8L1123.9 1409.8" fill="none" stroke="#f0525c" stroke-width="0.8"/><path d="M944.4 1392.2h0M948.1 1401.8h0M951.9 1409.8h0M955.6 1395.4h0M959.4 1363.3h0M963.1 1344.1h0M966.8 1313.6h0M970.6 1284.8h0M974.3 1278.4h0M978.1 1265.5h0M981.8 1257.5h0M985.5 1261.5h0M989.3 1273.5h0M993.0 1262.3h0M996.8 1272.7h0M1000.5 1286.4h0M1004.2 1301.6h0M1008.0 1289.6h0M1011.7 1277.6h0M1015.5 1272.7h0M1019.2 1280.8h0M1022.9 1263.9h0M1026.7 1255.1h0M1030.4 1278.4h0M1034.2 1283.2h0M1037.9 1289.6h0M1041.6 1279.2h0M1045.4 1279.2h0M1049.1 1299.2h0M1052.8 1273.5h0M1056.6 1291.2h0M1060.3 1263.9h0M1064.1 1265.5h0M1067.8 1293.6h0M1071.5 1306.4h0M1075.3 1299.2h0M1079.0 1293.6h0M1082.8 1329.7h0M1086.5 1324.8h0M1090.2 1323.2h0M1094.0 1336.1h0M1097.7 1345.7h0M1101.5 1338.5h0M1105.2 1369.7h0M1108.9 1383.4h0M1112.7 1377.7h0M1116.4 1409.8h0M1120.2 1409.8h0M1123.9 1409.8h0" stroke="#ee1122" stroke-width="2.7" stroke-linecap="round"/>
<path d="M690.6 1455.8H712" stroke="#c58be6" stroke-width="1"/><path d="M701.3 1455.8h0" stroke="#a22fd3" stroke-width="2.7" stroke-linecap="round"/><text x="715.3" y="1459.4" font-size="9.9" fill="#333" textLength="33.5" lengthAdjust="spacingAndGlyphs">all foEs</text><path d="M754.3 1455.8H775.5" stroke="#5fd6e2" stroke-width="1"/><path d="M764.9 1455.8h0" stroke="#21c6d8" stroke-width="2.7" stroke-linecap="round"/><text x="779.4" y="1459.4" font-size="9.9" fill="#333" textLength="69" lengthAdjust="spacingAndGlyphs">foEs &gt; 2.0 MHz</text><path d="M854.6 1455.8H876" stroke="#2f8443" stroke-width="1"/><path d="M865.3 1455.8h0" stroke="#046a1d" stroke-width="2.7" stroke-linecap="round"/><text x="879.5" y="1459.4" font-size="9.9" fill="#333" textLength="69" lengthAdjust="spacingAndGlyphs">foEs &gt; 3.0 MHz</text><path d="M954.8 1455.8H976.5" stroke="#ffc060" stroke-width="1"/><path d="M965.6 1455.8h0" stroke="#ffa114" stroke-width="2.7" stroke-linecap="round"/><text x="979.3" y="1459.4" font-size="9.9" fill="#333" textLength="69" lengthAdjust="spacingAndGlyphs">foEs &gt; 4.0 MHz</text><path d="M1054.5 1455.8H1076.2" stroke="#f0525c" stroke-width="1"/><path d="M1065.3 1455.8h0" stroke="#ee1122" stroke-width="2.7" stroke-linecap="round"/><text x="1079.4" y="1459.4" font-size="9.9" fill="#333" textLength="69" lengthAdjust="spacingAndGlyphs">foEs &gt; 5.0 MHz</text>
</svg>
</body>
</html>
